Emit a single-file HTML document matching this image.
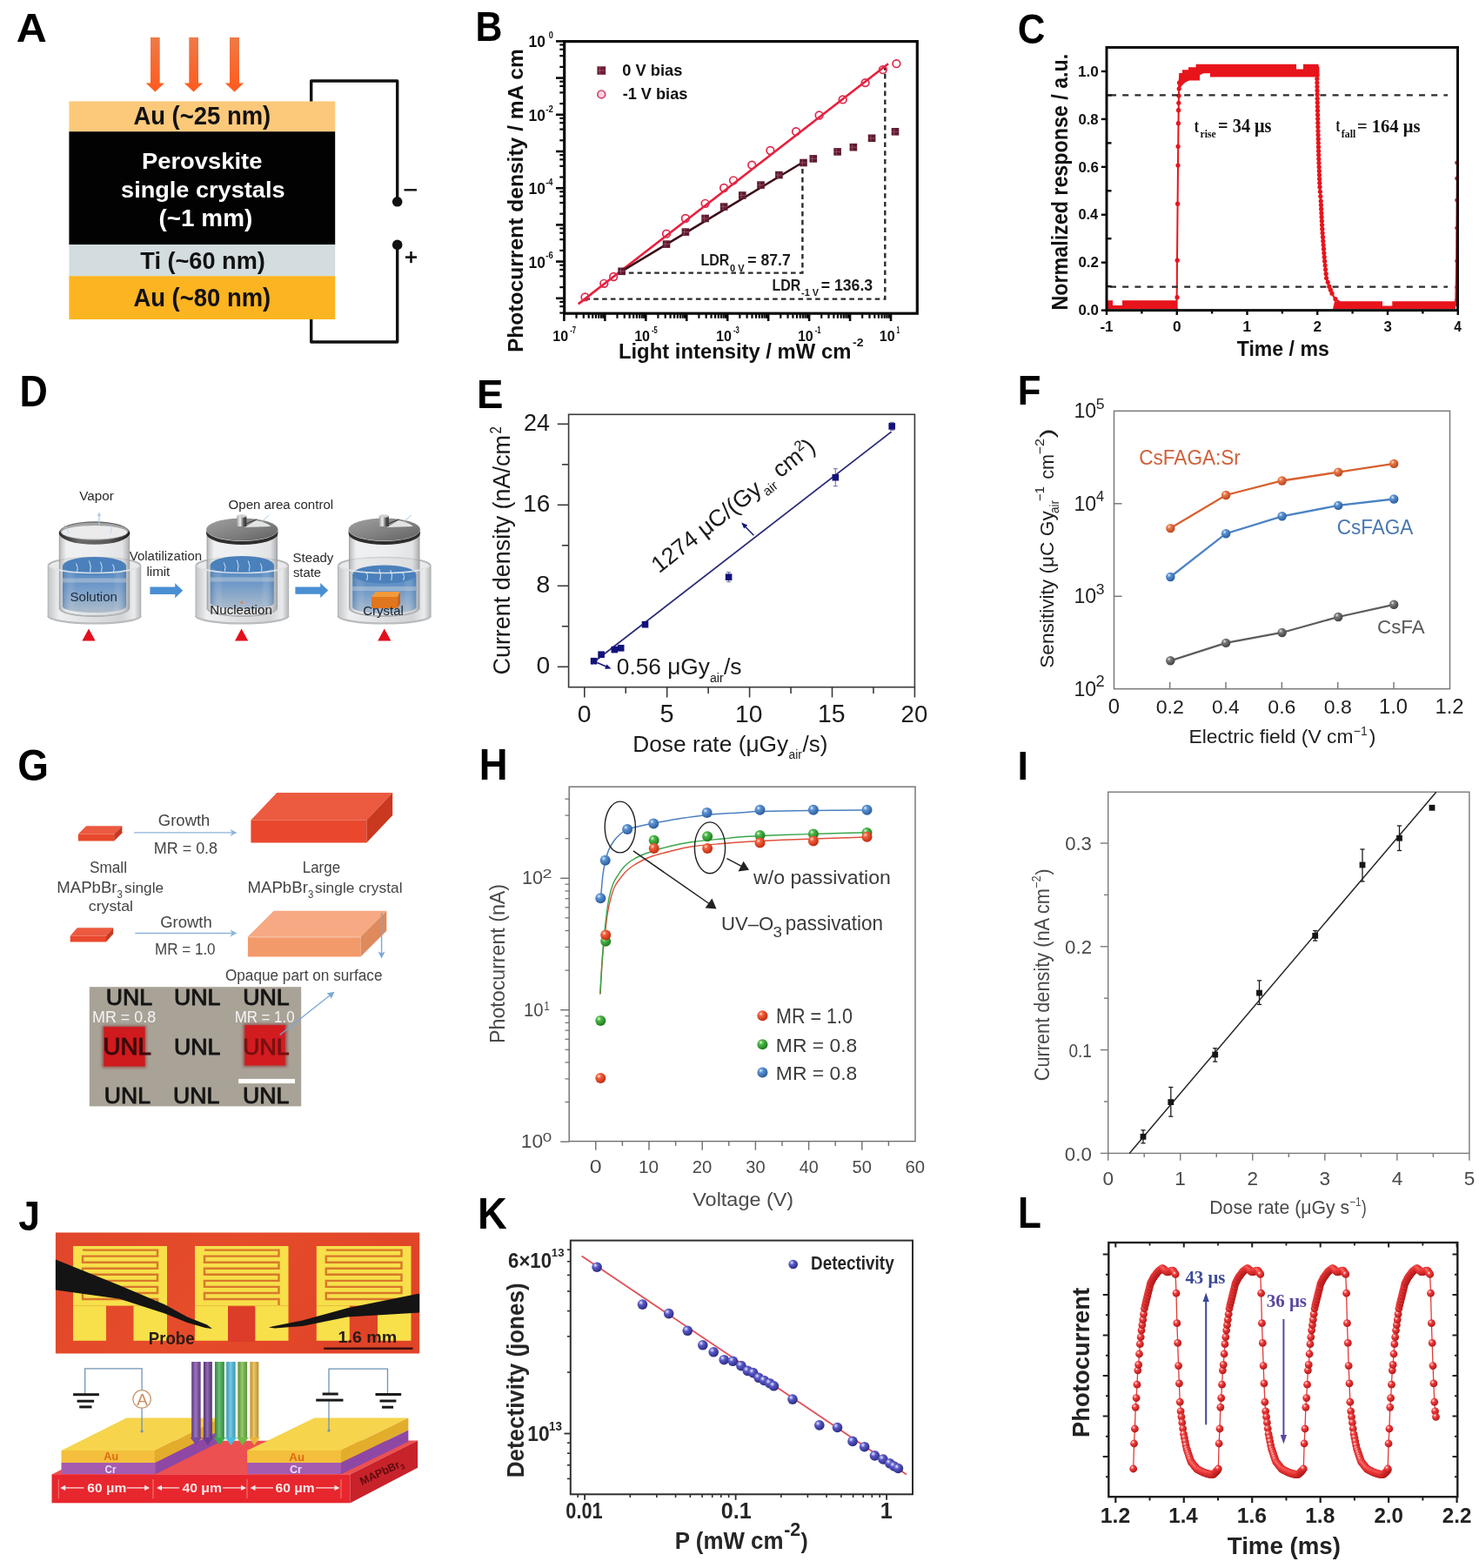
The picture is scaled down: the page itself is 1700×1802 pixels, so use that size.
<!DOCTYPE html>
<html><head><meta charset="utf-8"><title>Figure</title>
<style>html,body{margin:0;padding:0;background:#fff;}svg{display:block;}</style></head>
<body><svg width="1700" height="1802" viewBox="0 0 1700 1802">
<rect width="1700" height="1802" fill="#fff"/>
<g id="pA">
<text x="18.89" y="48.1" font-size="47.1" textLength="35.09" lengthAdjust="spacingAndGlyphs" font-family='"Liberation Sans", Arial, sans-serif' font-weight="bold" fill="#000">A</text>
<defs><linearGradient id="gA" x1="0" y1="0" x2="0" y2="1"><stop offset="0" stop-color="#ee7a48"/><stop offset="1" stop-color="#ff5a1c"/></linearGradient></defs>
<polygon points="173,43 183.7,43 183.7,95.5 189,95.5 178.35,105.6 167.7,95.5 173,95.5" fill="url(#gA)"/>
<polygon points="217.3,43 228,43 228,95.5 233.3,95.5 222.5,105.6 211.7,95.5 217.3,95.5" fill="url(#gA)"/>
<polygon points="264,43 275,43 275,95.5 280.2,95.5 269.5,105.6 258.8,95.5 264,95.5" fill="url(#gA)"/>
<rect x="79.4" y="116.4" width="305.8" height="34.8" fill="#fcc97b"/>
<rect x="79.4" y="151.2" width="305.8" height="130" fill="#020202"/>
<rect x="79.4" y="281.2" width="305.8" height="36" fill="#d3dcdf"/>
<rect x="79.4" y="317.2" width="305.8" height="49.8" fill="#fcb421"/>
<text x="153.41" y="143" font-size="29.13" textLength="157.85" lengthAdjust="spacingAndGlyphs" font-family='"Liberation Sans", Arial, sans-serif' font-weight="bold" fill="#111">Au (~25 nm)</text>
<text x="162.92" y="194.1" font-size="26.21" textLength="138.47" lengthAdjust="spacingAndGlyphs" font-family='"Liberation Sans", Arial, sans-serif' font-weight="bold" fill="#fff">Perovskite</text>
<text x="139.05" y="227" font-size="26.52" textLength="188.49" lengthAdjust="spacingAndGlyphs" font-family='"Liberation Sans", Arial, sans-serif' font-weight="bold" fill="#fff">single crystals</text>
<text x="182.55" y="260" font-size="26.81" textLength="107.67" lengthAdjust="spacingAndGlyphs" font-family='"Liberation Sans", Arial, sans-serif' font-weight="bold" fill="#fff">(~1 mm)</text>
<text x="161.33" y="309" font-size="27.31" textLength="143.49" lengthAdjust="spacingAndGlyphs" font-family='"Liberation Sans", Arial, sans-serif' font-weight="bold" fill="#111">Ti (~60 nm)</text>
<text x="153.41" y="352" font-size="29.28" textLength="157.85" lengthAdjust="spacingAndGlyphs" font-family='"Liberation Sans", Arial, sans-serif' font-weight="bold" fill="#111">Au (~80 nm)</text>
<path d="M357.7,116.4 V93 H456.7 V231.8" fill="none" stroke="#111" stroke-width="3.4" stroke-linejoin="round"/>
<path d="M357.7,367 V393 H456.7 V281.4" fill="none" stroke="#111" stroke-width="3.4" stroke-linejoin="round"/>
<circle cx="456.7" cy="231.8" r="5.8" fill="#111"/>
<circle cx="456.7" cy="281.4" r="5.8" fill="#111"/>
<line x1="464.5" y1="218.3" x2="479" y2="218.3" stroke="#111" stroke-width="2.4"/>
<line x1="466" y1="295.6" x2="479" y2="295.6" stroke="#111" stroke-width="2.6"/>
<line x1="472.5" y1="289" x2="472.5" y2="302.2" stroke="#111" stroke-width="2.6"/>
</g>
<g id="pB">
<text x="546.62" y="46.7" font-size="48.84" textLength="30.88" lengthAdjust="spacingAndGlyphs" font-family='"Liberation Sans", Arial, sans-serif' font-weight="bold" fill="#000">B</text>
<rect x="648.7" y="47.6" width="405.6" height="312.6" fill="none" stroke="#0a0a0a" stroke-width="3.2"/>
<line x1="648.4" y1="360" x2="648.4" y2="369" stroke="#0a0a0a" stroke-width="2.6"/>
<line x1="662.53" y1="360" x2="662.53" y2="365.8" stroke="#0a0a0a" stroke-width="2.2"/>
<line x1="670.8" y1="360" x2="670.8" y2="365.8" stroke="#0a0a0a" stroke-width="2.2"/>
<line x1="676.67" y1="360" x2="676.67" y2="365.8" stroke="#0a0a0a" stroke-width="2.2"/>
<line x1="681.22" y1="360" x2="681.22" y2="365.8" stroke="#0a0a0a" stroke-width="2.2"/>
<line x1="684.93" y1="360" x2="684.93" y2="365.8" stroke="#0a0a0a" stroke-width="2.2"/>
<line x1="688.08" y1="360" x2="688.08" y2="365.8" stroke="#0a0a0a" stroke-width="2.2"/>
<line x1="690.8" y1="360" x2="690.8" y2="365.8" stroke="#0a0a0a" stroke-width="2.2"/>
<line x1="693.2" y1="360" x2="693.2" y2="365.8" stroke="#0a0a0a" stroke-width="2.2"/>
<line x1="695.35" y1="360" x2="695.35" y2="369" stroke="#0a0a0a" stroke-width="2.6"/>
<line x1="709.48" y1="360" x2="709.48" y2="365.8" stroke="#0a0a0a" stroke-width="2.2"/>
<line x1="717.75" y1="360" x2="717.75" y2="365.8" stroke="#0a0a0a" stroke-width="2.2"/>
<line x1="723.62" y1="360" x2="723.62" y2="365.8" stroke="#0a0a0a" stroke-width="2.2"/>
<line x1="728.17" y1="360" x2="728.17" y2="365.8" stroke="#0a0a0a" stroke-width="2.2"/>
<line x1="731.88" y1="360" x2="731.88" y2="365.8" stroke="#0a0a0a" stroke-width="2.2"/>
<line x1="735.03" y1="360" x2="735.03" y2="365.8" stroke="#0a0a0a" stroke-width="2.2"/>
<line x1="737.75" y1="360" x2="737.75" y2="365.8" stroke="#0a0a0a" stroke-width="2.2"/>
<line x1="740.15" y1="360" x2="740.15" y2="365.8" stroke="#0a0a0a" stroke-width="2.2"/>
<line x1="742.3" y1="360" x2="742.3" y2="369" stroke="#0a0a0a" stroke-width="2.6"/>
<line x1="756.43" y1="360" x2="756.43" y2="365.8" stroke="#0a0a0a" stroke-width="2.2"/>
<line x1="764.7" y1="360" x2="764.7" y2="365.8" stroke="#0a0a0a" stroke-width="2.2"/>
<line x1="770.57" y1="360" x2="770.57" y2="365.8" stroke="#0a0a0a" stroke-width="2.2"/>
<line x1="775.12" y1="360" x2="775.12" y2="365.8" stroke="#0a0a0a" stroke-width="2.2"/>
<line x1="778.83" y1="360" x2="778.83" y2="365.8" stroke="#0a0a0a" stroke-width="2.2"/>
<line x1="781.98" y1="360" x2="781.98" y2="365.8" stroke="#0a0a0a" stroke-width="2.2"/>
<line x1="784.7" y1="360" x2="784.7" y2="365.8" stroke="#0a0a0a" stroke-width="2.2"/>
<line x1="787.1" y1="360" x2="787.1" y2="365.8" stroke="#0a0a0a" stroke-width="2.2"/>
<line x1="789.25" y1="360" x2="789.25" y2="369" stroke="#0a0a0a" stroke-width="2.6"/>
<line x1="803.38" y1="360" x2="803.38" y2="365.8" stroke="#0a0a0a" stroke-width="2.2"/>
<line x1="811.65" y1="360" x2="811.65" y2="365.8" stroke="#0a0a0a" stroke-width="2.2"/>
<line x1="817.52" y1="360" x2="817.52" y2="365.8" stroke="#0a0a0a" stroke-width="2.2"/>
<line x1="822.07" y1="360" x2="822.07" y2="365.8" stroke="#0a0a0a" stroke-width="2.2"/>
<line x1="825.78" y1="360" x2="825.78" y2="365.8" stroke="#0a0a0a" stroke-width="2.2"/>
<line x1="828.93" y1="360" x2="828.93" y2="365.8" stroke="#0a0a0a" stroke-width="2.2"/>
<line x1="831.65" y1="360" x2="831.65" y2="365.8" stroke="#0a0a0a" stroke-width="2.2"/>
<line x1="834.05" y1="360" x2="834.05" y2="365.8" stroke="#0a0a0a" stroke-width="2.2"/>
<line x1="836.2" y1="360" x2="836.2" y2="369" stroke="#0a0a0a" stroke-width="2.6"/>
<line x1="850.33" y1="360" x2="850.33" y2="365.8" stroke="#0a0a0a" stroke-width="2.2"/>
<line x1="858.6" y1="360" x2="858.6" y2="365.8" stroke="#0a0a0a" stroke-width="2.2"/>
<line x1="864.47" y1="360" x2="864.47" y2="365.8" stroke="#0a0a0a" stroke-width="2.2"/>
<line x1="869.02" y1="360" x2="869.02" y2="365.8" stroke="#0a0a0a" stroke-width="2.2"/>
<line x1="872.73" y1="360" x2="872.73" y2="365.8" stroke="#0a0a0a" stroke-width="2.2"/>
<line x1="875.88" y1="360" x2="875.88" y2="365.8" stroke="#0a0a0a" stroke-width="2.2"/>
<line x1="878.6" y1="360" x2="878.6" y2="365.8" stroke="#0a0a0a" stroke-width="2.2"/>
<line x1="881" y1="360" x2="881" y2="365.8" stroke="#0a0a0a" stroke-width="2.2"/>
<line x1="883.15" y1="360" x2="883.15" y2="369" stroke="#0a0a0a" stroke-width="2.6"/>
<line x1="897.28" y1="360" x2="897.28" y2="365.8" stroke="#0a0a0a" stroke-width="2.2"/>
<line x1="905.55" y1="360" x2="905.55" y2="365.8" stroke="#0a0a0a" stroke-width="2.2"/>
<line x1="911.42" y1="360" x2="911.42" y2="365.8" stroke="#0a0a0a" stroke-width="2.2"/>
<line x1="915.97" y1="360" x2="915.97" y2="365.8" stroke="#0a0a0a" stroke-width="2.2"/>
<line x1="919.68" y1="360" x2="919.68" y2="365.8" stroke="#0a0a0a" stroke-width="2.2"/>
<line x1="922.83" y1="360" x2="922.83" y2="365.8" stroke="#0a0a0a" stroke-width="2.2"/>
<line x1="925.55" y1="360" x2="925.55" y2="365.8" stroke="#0a0a0a" stroke-width="2.2"/>
<line x1="927.95" y1="360" x2="927.95" y2="365.8" stroke="#0a0a0a" stroke-width="2.2"/>
<line x1="930.1" y1="360" x2="930.1" y2="369" stroke="#0a0a0a" stroke-width="2.6"/>
<line x1="944.23" y1="360" x2="944.23" y2="365.8" stroke="#0a0a0a" stroke-width="2.2"/>
<line x1="952.5" y1="360" x2="952.5" y2="365.8" stroke="#0a0a0a" stroke-width="2.2"/>
<line x1="958.37" y1="360" x2="958.37" y2="365.8" stroke="#0a0a0a" stroke-width="2.2"/>
<line x1="962.92" y1="360" x2="962.92" y2="365.8" stroke="#0a0a0a" stroke-width="2.2"/>
<line x1="966.63" y1="360" x2="966.63" y2="365.8" stroke="#0a0a0a" stroke-width="2.2"/>
<line x1="969.78" y1="360" x2="969.78" y2="365.8" stroke="#0a0a0a" stroke-width="2.2"/>
<line x1="972.5" y1="360" x2="972.5" y2="365.8" stroke="#0a0a0a" stroke-width="2.2"/>
<line x1="974.9" y1="360" x2="974.9" y2="365.8" stroke="#0a0a0a" stroke-width="2.2"/>
<line x1="977.05" y1="360" x2="977.05" y2="369" stroke="#0a0a0a" stroke-width="2.6"/>
<line x1="991.18" y1="360" x2="991.18" y2="365.8" stroke="#0a0a0a" stroke-width="2.2"/>
<line x1="999.45" y1="360" x2="999.45" y2="365.8" stroke="#0a0a0a" stroke-width="2.2"/>
<line x1="1005.32" y1="360" x2="1005.32" y2="365.8" stroke="#0a0a0a" stroke-width="2.2"/>
<line x1="1009.87" y1="360" x2="1009.87" y2="365.8" stroke="#0a0a0a" stroke-width="2.2"/>
<line x1="1013.58" y1="360" x2="1013.58" y2="365.8" stroke="#0a0a0a" stroke-width="2.2"/>
<line x1="1016.73" y1="360" x2="1016.73" y2="365.8" stroke="#0a0a0a" stroke-width="2.2"/>
<line x1="1019.45" y1="360" x2="1019.45" y2="365.8" stroke="#0a0a0a" stroke-width="2.2"/>
<line x1="1021.85" y1="360" x2="1021.85" y2="365.8" stroke="#0a0a0a" stroke-width="2.2"/>
<line x1="1024" y1="360" x2="1024" y2="369" stroke="#0a0a0a" stroke-width="2.6"/>
<line x1="643.3" y1="359.59" x2="648.7" y2="359.59" stroke="#0a0a0a" stroke-width="2.2"/>
<line x1="643.3" y1="352.16" x2="648.7" y2="352.16" stroke="#0a0a0a" stroke-width="2.2"/>
<line x1="643.3" y1="346.89" x2="648.7" y2="346.89" stroke="#0a0a0a" stroke-width="2.2"/>
<line x1="639" y1="342.8" x2="648.7" y2="342.8" stroke="#0a0a0a" stroke-width="2.6"/>
<line x1="643.3" y1="330.1" x2="648.7" y2="330.1" stroke="#0a0a0a" stroke-width="2.2"/>
<line x1="643.3" y1="317.39" x2="648.7" y2="317.39" stroke="#0a0a0a" stroke-width="2.2"/>
<line x1="643.3" y1="309.96" x2="648.7" y2="309.96" stroke="#0a0a0a" stroke-width="2.2"/>
<line x1="643.3" y1="304.69" x2="648.7" y2="304.69" stroke="#0a0a0a" stroke-width="2.2"/>
<line x1="639" y1="300.6" x2="648.7" y2="300.6" stroke="#0a0a0a" stroke-width="2.6"/>
<line x1="643.3" y1="287.9" x2="648.7" y2="287.9" stroke="#0a0a0a" stroke-width="2.2"/>
<line x1="643.3" y1="275.19" x2="648.7" y2="275.19" stroke="#0a0a0a" stroke-width="2.2"/>
<line x1="643.3" y1="267.76" x2="648.7" y2="267.76" stroke="#0a0a0a" stroke-width="2.2"/>
<line x1="643.3" y1="262.49" x2="648.7" y2="262.49" stroke="#0a0a0a" stroke-width="2.2"/>
<line x1="639" y1="258.4" x2="648.7" y2="258.4" stroke="#0a0a0a" stroke-width="2.6"/>
<line x1="643.3" y1="245.7" x2="648.7" y2="245.7" stroke="#0a0a0a" stroke-width="2.2"/>
<line x1="643.3" y1="232.99" x2="648.7" y2="232.99" stroke="#0a0a0a" stroke-width="2.2"/>
<line x1="643.3" y1="225.56" x2="648.7" y2="225.56" stroke="#0a0a0a" stroke-width="2.2"/>
<line x1="643.3" y1="220.29" x2="648.7" y2="220.29" stroke="#0a0a0a" stroke-width="2.2"/>
<line x1="639" y1="216.2" x2="648.7" y2="216.2" stroke="#0a0a0a" stroke-width="2.6"/>
<line x1="643.3" y1="203.5" x2="648.7" y2="203.5" stroke="#0a0a0a" stroke-width="2.2"/>
<line x1="643.3" y1="190.79" x2="648.7" y2="190.79" stroke="#0a0a0a" stroke-width="2.2"/>
<line x1="643.3" y1="183.36" x2="648.7" y2="183.36" stroke="#0a0a0a" stroke-width="2.2"/>
<line x1="643.3" y1="178.09" x2="648.7" y2="178.09" stroke="#0a0a0a" stroke-width="2.2"/>
<line x1="639" y1="174" x2="648.7" y2="174" stroke="#0a0a0a" stroke-width="2.6"/>
<line x1="643.3" y1="161.3" x2="648.7" y2="161.3" stroke="#0a0a0a" stroke-width="2.2"/>
<line x1="643.3" y1="148.59" x2="648.7" y2="148.59" stroke="#0a0a0a" stroke-width="2.2"/>
<line x1="643.3" y1="141.16" x2="648.7" y2="141.16" stroke="#0a0a0a" stroke-width="2.2"/>
<line x1="643.3" y1="135.89" x2="648.7" y2="135.89" stroke="#0a0a0a" stroke-width="2.2"/>
<line x1="639" y1="131.8" x2="648.7" y2="131.8" stroke="#0a0a0a" stroke-width="2.6"/>
<line x1="643.3" y1="119.1" x2="648.7" y2="119.1" stroke="#0a0a0a" stroke-width="2.2"/>
<line x1="643.3" y1="106.39" x2="648.7" y2="106.39" stroke="#0a0a0a" stroke-width="2.2"/>
<line x1="643.3" y1="98.96" x2="648.7" y2="98.96" stroke="#0a0a0a" stroke-width="2.2"/>
<line x1="643.3" y1="93.69" x2="648.7" y2="93.69" stroke="#0a0a0a" stroke-width="2.2"/>
<line x1="639" y1="89.6" x2="648.7" y2="89.6" stroke="#0a0a0a" stroke-width="2.6"/>
<line x1="643.3" y1="76.9" x2="648.7" y2="76.9" stroke="#0a0a0a" stroke-width="2.2"/>
<line x1="643.3" y1="64.19" x2="648.7" y2="64.19" stroke="#0a0a0a" stroke-width="2.2"/>
<line x1="643.3" y1="56.76" x2="648.7" y2="56.76" stroke="#0a0a0a" stroke-width="2.2"/>
<line x1="643.3" y1="51.49" x2="648.7" y2="51.49" stroke="#0a0a0a" stroke-width="2.2"/>
<line x1="639" y1="47.4" x2="648.7" y2="47.4" stroke="#0a0a0a" stroke-width="2.6"/>
<text x="635.24" y="392" font-size="16.57" textLength="17.86" lengthAdjust="spacingAndGlyphs" font-family='"Liberation Sans", Arial, sans-serif' font-weight="bold" fill="#111">10</text>
<text x="655.13" y="382.5" font-size="10.14" textLength="6.87" lengthAdjust="spacingAndGlyphs" font-family='"Liberation Sans", Arial, sans-serif' font-weight="bold" fill="#111">-7</text>
<text x="729.14" y="392" font-size="16.57" textLength="17.86" lengthAdjust="spacingAndGlyphs" font-family='"Liberation Sans", Arial, sans-serif' font-weight="bold" fill="#111">10</text>
<text x="749.03" y="382.5" font-size="10.14" textLength="6.75" lengthAdjust="spacingAndGlyphs" font-family='"Liberation Sans", Arial, sans-serif' font-weight="bold" fill="#111">-5</text>
<text x="823.04" y="392" font-size="16.57" textLength="17.86" lengthAdjust="spacingAndGlyphs" font-family='"Liberation Sans", Arial, sans-serif' font-weight="bold" fill="#111">10</text>
<text x="842.93" y="382.5" font-size="10.14" textLength="6.83" lengthAdjust="spacingAndGlyphs" font-family='"Liberation Sans", Arial, sans-serif' font-weight="bold" fill="#111">-3</text>
<text x="916.94" y="392" font-size="16.57" textLength="17.86" lengthAdjust="spacingAndGlyphs" font-family='"Liberation Sans", Arial, sans-serif' font-weight="bold" fill="#111">10</text>
<text x="936.83" y="382.5" font-size="10.14" textLength="6.75" lengthAdjust="spacingAndGlyphs" font-family='"Liberation Sans", Arial, sans-serif' font-weight="bold" fill="#111">-1</text>
<text x="1010.84" y="392" font-size="16.57" textLength="17.86" lengthAdjust="spacingAndGlyphs" font-family='"Liberation Sans", Arial, sans-serif' font-weight="bold" fill="#111">10</text>
<text x="1030.62" y="382.5" font-size="10.14" textLength="3.55" lengthAdjust="spacingAndGlyphs" font-family='"Liberation Sans", Arial, sans-serif' font-weight="bold" fill="#111">1</text>
<text x="607.45" y="54.3" font-size="18.57" textLength="19.4" lengthAdjust="spacingAndGlyphs" font-family='"Liberation Sans", Arial, sans-serif' font-weight="bold" fill="#111">10</text>
<text x="630.68" y="44.1" font-size="11" textLength="5.16" lengthAdjust="spacingAndGlyphs" font-family='"Liberation Sans", Arial, sans-serif' font-weight="bold" fill="#111">0</text>
<text x="607.45" y="138.7" font-size="18.57" textLength="19.4" lengthAdjust="spacingAndGlyphs" font-family='"Liberation Sans", Arial, sans-serif' font-weight="bold" fill="#111">10</text>
<text x="627.26" y="128.5" font-size="11" textLength="8.57" lengthAdjust="spacingAndGlyphs" font-family='"Liberation Sans", Arial, sans-serif' font-weight="bold" fill="#111">-2</text>
<text x="607.45" y="223.1" font-size="18.57" textLength="19.4" lengthAdjust="spacingAndGlyphs" font-family='"Liberation Sans", Arial, sans-serif' font-weight="bold" fill="#111">10</text>
<text x="627.28" y="212.9" font-size="11" textLength="8.22" lengthAdjust="spacingAndGlyphs" font-family='"Liberation Sans", Arial, sans-serif' font-weight="bold" fill="#111">-4</text>
<text x="607.45" y="307.5" font-size="18.57" textLength="19.4" lengthAdjust="spacingAndGlyphs" font-family='"Liberation Sans", Arial, sans-serif' font-weight="bold" fill="#111">10</text>
<text x="627.26" y="297.3" font-size="11" textLength="8.57" lengthAdjust="spacingAndGlyphs" font-family='"Liberation Sans", Arial, sans-serif' font-weight="bold" fill="#111">-6</text>
<text x="-405.1" y="600.8" font-size="23.43" textLength="349.02" lengthAdjust="spacingAndGlyphs" font-family='"Liberation Sans", Arial, sans-serif' font-weight="bold" fill="#111" transform="rotate(-90)">Photocurrent density / mA cm</text>
<text x="710.95" y="411.5" font-size="23.14" textLength="267.42" lengthAdjust="spacingAndGlyphs" font-family='"Liberation Sans", Arial, sans-serif' font-weight="bold" fill="#111">Light intensity / mW cm</text>
<text x="980.01" y="397.5" font-size="12.66" textLength="12.47" lengthAdjust="spacingAndGlyphs" font-family='"Liberation Sans", Arial, sans-serif' font-weight="bold" fill="#111">-2</text>
<rect x="686.4" y="76.3" width="9.8" height="9.5" fill="#6b1e35"/>
<line x1="689.5" y1="77" x2="689.5" y2="85" stroke="#a4566a" stroke-width="0.8"/>
<line x1="686.8" y1="81" x2="695.8" y2="81" stroke="#a4566a" stroke-width="0.8"/>
<text x="715.36" y="86.5" font-size="17.88" textLength="68.97" lengthAdjust="spacingAndGlyphs" font-family='"Liberation Sans", Arial, sans-serif' font-weight="bold" fill="#111">0 V bias</text>
<circle cx="691.3" cy="108.4" r="4.4" fill="#fbd6e0" stroke="#d4406a" stroke-width="1.7"/>
<text x="715.66" y="114" font-size="17.93" textLength="74.72" lengthAdjust="spacingAndGlyphs" font-family='"Liberation Sans", Arial, sans-serif' font-weight="bold" fill="#111">-1 V bias</text>
<path d="M713,313.6 H922.4 V187" fill="none" stroke="#2a2a2a" stroke-width="2.4" stroke-dasharray="5.6,4.2"/>
<path d="M672.5,343.6 H1017.3 V78" fill="none" stroke="#2a2a2a" stroke-width="2.4" stroke-dasharray="5.6,4.2"/>
<text x="805.56" y="305.3" font-size="19.28" textLength="32.88" lengthAdjust="spacingAndGlyphs" font-family='"Liberation Sans", Arial, sans-serif' font-weight="bold" fill="#1a1a1a">LDR</text>
<text x="839.12" y="311.5" font-size="11.43" textLength="16.45" lengthAdjust="spacingAndGlyphs" font-family='"Liberation Sans", Arial, sans-serif' font-weight="bold" fill="#1a1a1a">0 V</text>
<text x="859.3" y="305.3" font-size="19" textLength="49.46" lengthAdjust="spacingAndGlyphs" font-family='"Liberation Sans", Arial, sans-serif' font-weight="bold" fill="#1a1a1a">= 87.7</text>
<text x="887.46" y="333.8" font-size="19.28" textLength="32.78" lengthAdjust="spacingAndGlyphs" font-family='"Liberation Sans", Arial, sans-serif' font-weight="bold" fill="#1a1a1a">LDR</text>
<text x="921.12" y="340" font-size="11.59" textLength="19.98" lengthAdjust="spacingAndGlyphs" font-family='"Liberation Sans", Arial, sans-serif' font-weight="bold" fill="#1a1a1a">-1 V</text>
<text x="943.79" y="333.8" font-size="19" textLength="59.31" lengthAdjust="spacingAndGlyphs" font-family='"Liberation Sans", Arial, sans-serif' font-weight="bold" fill="#1a1a1a">= 136.3</text>
<line x1="664.7" y1="349.4" x2="1021" y2="73.2" stroke="#e8203c" stroke-width="2.6"/>
<line x1="711.5" y1="313.6" x2="922" y2="187" stroke="#3a0d16" stroke-width="2.6"/>
<rect x="710.3" y="307.5" width="8.6" height="8.6" fill="#5e1a2e"/>
<line x1="713.4" y1="308.2" x2="713.4" y2="315.4" stroke="#9c5468" stroke-width="0.8"/>
<line x1="711" y1="311.8" x2="718.2" y2="311.8" stroke="#9c5468" stroke-width="0.8"/>
<rect x="761.7" y="276.3" width="8.6" height="8.6" fill="#5e1a2e"/>
<line x1="764.8" y1="277" x2="764.8" y2="284.2" stroke="#9c5468" stroke-width="0.8"/>
<line x1="762.4" y1="280.6" x2="769.6" y2="280.6" stroke="#9c5468" stroke-width="0.8"/>
<rect x="783.6" y="262.3" width="8.6" height="8.6" fill="#5e1a2e"/>
<line x1="786.7" y1="263" x2="786.7" y2="270.2" stroke="#9c5468" stroke-width="0.8"/>
<line x1="784.3" y1="266.6" x2="791.5" y2="266.6" stroke="#9c5468" stroke-width="0.8"/>
<rect x="806.3" y="246.7" width="8.6" height="8.6" fill="#5e1a2e"/>
<line x1="809.4" y1="247.4" x2="809.4" y2="254.6" stroke="#9c5468" stroke-width="0.8"/>
<line x1="807" y1="251" x2="814.2" y2="251" stroke="#9c5468" stroke-width="0.8"/>
<rect x="827.8" y="233.3" width="8.6" height="8.6" fill="#5e1a2e"/>
<line x1="830.9" y1="234" x2="830.9" y2="241.2" stroke="#9c5468" stroke-width="0.8"/>
<line x1="828.5" y1="237.6" x2="835.7" y2="237.6" stroke="#9c5468" stroke-width="0.8"/>
<rect x="849" y="220.2" width="8.6" height="8.6" fill="#5e1a2e"/>
<line x1="852.1" y1="220.9" x2="852.1" y2="228.1" stroke="#9c5468" stroke-width="0.8"/>
<line x1="849.7" y1="224.5" x2="856.9" y2="224.5" stroke="#9c5468" stroke-width="0.8"/>
<rect x="870.2" y="208.3" width="8.6" height="8.6" fill="#5e1a2e"/>
<line x1="873.3" y1="209" x2="873.3" y2="216.2" stroke="#9c5468" stroke-width="0.8"/>
<line x1="870.9" y1="212.6" x2="878.1" y2="212.6" stroke="#9c5468" stroke-width="0.8"/>
<rect x="891.1" y="196.8" width="8.6" height="8.6" fill="#5e1a2e"/>
<line x1="894.2" y1="197.5" x2="894.2" y2="204.7" stroke="#9c5468" stroke-width="0.8"/>
<line x1="891.8" y1="201.1" x2="899" y2="201.1" stroke="#9c5468" stroke-width="0.8"/>
<rect x="919.2" y="182.7" width="8.6" height="8.6" fill="#5e1a2e"/>
<line x1="922.3" y1="183.4" x2="922.3" y2="190.6" stroke="#9c5468" stroke-width="0.8"/>
<line x1="919.9" y1="187" x2="927.1" y2="187" stroke="#9c5468" stroke-width="0.8"/>
<rect x="930.5" y="178.1" width="8.6" height="8.6" fill="#5e1a2e"/>
<line x1="933.6" y1="178.8" x2="933.6" y2="186" stroke="#9c5468" stroke-width="0.8"/>
<line x1="931.2" y1="182.4" x2="938.4" y2="182.4" stroke="#9c5468" stroke-width="0.8"/>
<rect x="958.3" y="170.1" width="8.6" height="8.6" fill="#5e1a2e"/>
<line x1="961.4" y1="170.8" x2="961.4" y2="178" stroke="#9c5468" stroke-width="0.8"/>
<line x1="959" y1="174.4" x2="966.2" y2="174.4" stroke="#9c5468" stroke-width="0.8"/>
<rect x="976.6" y="164.9" width="8.6" height="8.6" fill="#5e1a2e"/>
<line x1="979.7" y1="165.6" x2="979.7" y2="172.8" stroke="#9c5468" stroke-width="0.8"/>
<line x1="977.3" y1="169.2" x2="984.5" y2="169.2" stroke="#9c5468" stroke-width="0.8"/>
<rect x="997.8" y="154.5" width="8.6" height="8.6" fill="#5e1a2e"/>
<line x1="1000.9" y1="155.2" x2="1000.9" y2="162.4" stroke="#9c5468" stroke-width="0.8"/>
<line x1="998.5" y1="158.8" x2="1005.7" y2="158.8" stroke="#9c5468" stroke-width="0.8"/>
<rect x="1024.7" y="147" width="8.6" height="8.6" fill="#5e1a2e"/>
<line x1="1027.8" y1="147.7" x2="1027.8" y2="154.9" stroke="#9c5468" stroke-width="0.8"/>
<line x1="1025.4" y1="151.3" x2="1032.6" y2="151.3" stroke="#9c5468" stroke-width="0.8"/>
<circle cx="672.5" cy="341.4" r="4.3" fill="none" stroke="#e0284a" stroke-width="1.7"/>
<circle cx="694.3" cy="325.8" r="4.3" fill="none" stroke="#e0284a" stroke-width="1.7"/>
<circle cx="705.2" cy="318" r="4.3" fill="none" stroke="#e0284a" stroke-width="1.7"/>
<circle cx="766" cy="268.7" r="4.3" fill="none" stroke="#e0284a" stroke-width="1.7"/>
<circle cx="787.9" cy="251" r="4.3" fill="none" stroke="#e0284a" stroke-width="1.7"/>
<circle cx="810.6" cy="233.8" r="4.3" fill="none" stroke="#e0284a" stroke-width="1.7"/>
<circle cx="832.1" cy="216" r="4.3" fill="none" stroke="#e0284a" stroke-width="1.7"/>
<circle cx="843" cy="207.3" r="4.3" fill="none" stroke="#e0284a" stroke-width="1.7"/>
<circle cx="864.2" cy="189.6" r="4.3" fill="none" stroke="#e0284a" stroke-width="1.7"/>
<circle cx="885.4" cy="173" r="4.3" fill="none" stroke="#e0284a" stroke-width="1.7"/>
<circle cx="915" cy="151.2" r="4.3" fill="none" stroke="#e0284a" stroke-width="1.7"/>
<circle cx="941.6" cy="132.5" r="4.3" fill="none" stroke="#e0284a" stroke-width="1.7"/>
<circle cx="968.7" cy="114.4" r="4.3" fill="none" stroke="#e0284a" stroke-width="1.7"/>
<circle cx="994.6" cy="95.1" r="4.3" fill="none" stroke="#e0284a" stroke-width="1.7"/>
<circle cx="1014.8" cy="80.2" r="4.3" fill="none" stroke="#e0284a" stroke-width="1.7"/>
<circle cx="1030.4" cy="73.2" r="4.3" fill="none" stroke="#e0284a" stroke-width="1.7"/>
</g>
<g id="pC">
<text x="1169.75" y="49.9" font-size="48.14" textLength="31.64" lengthAdjust="spacingAndGlyphs" font-family='"Liberation Sans", Arial, sans-serif' font-weight="bold" fill="#000">C</text>
<polygon points="1273,345.3 1279,345.3 1279,351 1290,351 1290,345.3 1352,345.3 1354,355 1273,355" fill="#e8141c"/>
<polygon points="1534,346.3 1589,346.3 1589,351.4 1600.3,351.4 1600.3,346.3 1673,346.3 1673,355 1532,355" fill="#e8141c"/>
<polygon points="1355.2,84 1359,84 1359,80.2 1366,80.2 1366,77.2 1374.6,77.2 1374.6,73.8 1490,73.8 1490,79.4 1498,79.4 1498,73.8 1515.2,73.8 1516.5,78 1516.5,88.6 1391,88.6 1391,84.2 1383,84.2 1379,86.5 1379,92.5 1367,92.5 1362,95 1358,99 1355.5,104 1354.5,100" fill="#e8141c"/>
<path d="M1352.6,352 L1353,300 L1353.6,234 L1354,190 L1354.4,150 L1354.8,118 L1355.2,100 L1355.8,92 L1357.5,87.5 L1363,85" fill="none" stroke="#e8141c" stroke-width="2"/>
<circle cx="1353" cy="341.7" r="2.6" fill="#e8141c"/>
<circle cx="1353.2" cy="299.2" r="2.6" fill="#e8141c"/>
<circle cx="1353.6" cy="234.2" r="2.6" fill="#e8141c"/>
<circle cx="1354" cy="190" r="2.6" fill="#e8141c"/>
<circle cx="1354.1" cy="168.3" r="2.6" fill="#e8141c"/>
<circle cx="1354.4" cy="141.7" r="2.6" fill="#e8141c"/>
<circle cx="1354.6" cy="126.7" r="2.6" fill="#e8141c"/>
<circle cx="1354.8" cy="118.3" r="2.6" fill="#e8141c"/>
<circle cx="1355" cy="110" r="2.6" fill="#e8141c"/>
<circle cx="1355.2" cy="102" r="2.6" fill="#e8141c"/>
<circle cx="1355.5" cy="95" r="2.6" fill="#e8141c"/>
<path d="M1513.8,86.1 C1513.85,89.85 1513.9,97.87 1514.1,108.6 C1514.3,119.33 1514.72,138.15 1515,150.5 C1515.28,162.85 1515.47,171.97 1515.8,182.7 C1516.13,193.43 1516.6,206.85 1517,214.9 C1517.4,222.95 1517.73,222.95 1518.2,231 C1518.67,239.05 1519.13,252.47 1519.8,263.2 C1520.47,273.93 1521.4,286.02 1522.2,295.4 C1523,304.78 1523.67,313.87 1524.6,319.5 C1525.53,325.13 1526.73,326.25 1527.8,329.2 C1528.87,332.15 1529.8,334.78 1531,337.2 C1532.2,339.62 1533.52,342.08 1535,343.7 C1536.48,345.32 1539.08,346.37 1539.9,346.9" fill="none" stroke="#e8141c" stroke-width="2.2"/>
<circle cx="1513.8" cy="86.1" r="2.6" fill="#e8141c"/>
<circle cx="1513.86" cy="90.6" r="2.6" fill="#e8141c"/>
<circle cx="1513.92" cy="95.1" r="2.6" fill="#e8141c"/>
<circle cx="1513.98" cy="99.6" r="2.6" fill="#e8141c"/>
<circle cx="1514.04" cy="104.1" r="2.6" fill="#e8141c"/>
<circle cx="1514.1" cy="108.6" r="2.6" fill="#e8141c"/>
<circle cx="1514.2" cy="113.26" r="2.6" fill="#e8141c"/>
<circle cx="1514.3" cy="117.91" r="2.6" fill="#e8141c"/>
<circle cx="1514.4" cy="122.57" r="2.6" fill="#e8141c"/>
<circle cx="1514.5" cy="127.22" r="2.6" fill="#e8141c"/>
<circle cx="1514.6" cy="131.88" r="2.6" fill="#e8141c"/>
<circle cx="1514.7" cy="136.53" r="2.6" fill="#e8141c"/>
<circle cx="1514.8" cy="141.19" r="2.6" fill="#e8141c"/>
<circle cx="1514.9" cy="145.84" r="2.6" fill="#e8141c"/>
<circle cx="1515" cy="150.5" r="2.6" fill="#e8141c"/>
<circle cx="1515.11" cy="155.1" r="2.6" fill="#e8141c"/>
<circle cx="1515.23" cy="159.7" r="2.6" fill="#e8141c"/>
<circle cx="1515.34" cy="164.3" r="2.6" fill="#e8141c"/>
<circle cx="1515.46" cy="168.9" r="2.6" fill="#e8141c"/>
<circle cx="1515.57" cy="173.5" r="2.6" fill="#e8141c"/>
<circle cx="1515.69" cy="178.1" r="2.6" fill="#e8141c"/>
<circle cx="1515.8" cy="182.7" r="2.6" fill="#e8141c"/>
<circle cx="1515.97" cy="187.3" r="2.6" fill="#e8141c"/>
<circle cx="1516.14" cy="191.9" r="2.6" fill="#e8141c"/>
<circle cx="1516.31" cy="196.5" r="2.6" fill="#e8141c"/>
<circle cx="1516.49" cy="201.1" r="2.6" fill="#e8141c"/>
<circle cx="1516.66" cy="205.7" r="2.6" fill="#e8141c"/>
<circle cx="1516.83" cy="210.3" r="2.6" fill="#e8141c"/>
<circle cx="1517" cy="214.9" r="2.6" fill="#e8141c"/>
<circle cx="1517.4" cy="220.27" r="2.6" fill="#e8141c"/>
<circle cx="1517.8" cy="225.63" r="2.6" fill="#e8141c"/>
<circle cx="1518.2" cy="231" r="2.6" fill="#e8141c"/>
<circle cx="1518.43" cy="235.6" r="2.6" fill="#e8141c"/>
<circle cx="1518.66" cy="240.2" r="2.6" fill="#e8141c"/>
<circle cx="1518.89" cy="244.8" r="2.6" fill="#e8141c"/>
<circle cx="1519.11" cy="249.4" r="2.6" fill="#e8141c"/>
<circle cx="1519.34" cy="254" r="2.6" fill="#e8141c"/>
<circle cx="1519.57" cy="258.6" r="2.6" fill="#e8141c"/>
<circle cx="1519.8" cy="263.2" r="2.6" fill="#e8141c"/>
<circle cx="1520.14" cy="267.8" r="2.6" fill="#e8141c"/>
<circle cx="1520.49" cy="272.4" r="2.6" fill="#e8141c"/>
<circle cx="1520.83" cy="277" r="2.6" fill="#e8141c"/>
<circle cx="1521.17" cy="281.6" r="2.6" fill="#e8141c"/>
<circle cx="1521.51" cy="286.2" r="2.6" fill="#e8141c"/>
<circle cx="1521.86" cy="290.8" r="2.6" fill="#e8141c"/>
<circle cx="1522.2" cy="295.4" r="2.6" fill="#e8141c"/>
<circle cx="1522.68" cy="300.22" r="2.6" fill="#e8141c"/>
<circle cx="1523.16" cy="305.04" r="2.6" fill="#e8141c"/>
<circle cx="1523.64" cy="309.86" r="2.6" fill="#e8141c"/>
<circle cx="1524.12" cy="314.68" r="2.6" fill="#e8141c"/>
<circle cx="1524.6" cy="319.5" r="2.6" fill="#e8141c"/>
<circle cx="1526.2" cy="324.35" r="2.6" fill="#e8141c"/>
<circle cx="1527.8" cy="329.2" r="2.6" fill="#e8141c"/>
<circle cx="1529.4" cy="333.2" r="2.6" fill="#e8141c"/>
<circle cx="1531" cy="337.2" r="2.6" fill="#e8141c"/>
<circle cx="1535" cy="343.7" r="2.6" fill="#e8141c"/>
<path d="M1673.3,352 L1674.2,300 L1674.6,250 L1675,187" fill="none" stroke="#e8141c" stroke-width="2.2"/>
<circle cx="1674.4" cy="187" r="2.3" fill="#e8141c"/>
<circle cx="1674.4" cy="205" r="2.3" fill="#e8141c"/>
<circle cx="1674.4" cy="230" r="2.3" fill="#e8141c"/>
<circle cx="1674.4" cy="262" r="2.3" fill="#e8141c"/>
<circle cx="1674.4" cy="300" r="2.3" fill="#e8141c"/>
<circle cx="1674.4" cy="330" r="2.3" fill="#e8141c"/>
<circle cx="1674.4" cy="345" r="2.3" fill="#e8141c"/>
<line x1="1276" y1="109.4" x2="1664" y2="109.4" stroke="#2b2b2b" stroke-width="2.2" stroke-dasharray="7,7.2"/>
<line x1="1276" y1="329.6" x2="1664" y2="329.6" stroke="#2b2b2b" stroke-width="2.2" stroke-dasharray="7,7.2"/>
<rect x="1272" y="54.5" width="403.5" height="302.1" fill="none" stroke="#0a0a0a" stroke-width="3"/>
<line x1="1272" y1="356.6" x2="1272" y2="362" stroke="#0a0a0a" stroke-width="2.4"/>
<line x1="1312.38" y1="356.6" x2="1312.38" y2="360.5" stroke="#0a0a0a" stroke-width="2.4"/>
<line x1="1352.75" y1="356.6" x2="1352.75" y2="362" stroke="#0a0a0a" stroke-width="2.4"/>
<line x1="1393.12" y1="356.6" x2="1393.12" y2="360.5" stroke="#0a0a0a" stroke-width="2.4"/>
<line x1="1433.5" y1="356.6" x2="1433.5" y2="362" stroke="#0a0a0a" stroke-width="2.4"/>
<line x1="1473.88" y1="356.6" x2="1473.88" y2="360.5" stroke="#0a0a0a" stroke-width="2.4"/>
<line x1="1514.25" y1="356.6" x2="1514.25" y2="362" stroke="#0a0a0a" stroke-width="2.4"/>
<line x1="1554.62" y1="356.6" x2="1554.62" y2="360.5" stroke="#0a0a0a" stroke-width="2.4"/>
<line x1="1595" y1="356.6" x2="1595" y2="362" stroke="#0a0a0a" stroke-width="2.4"/>
<line x1="1635.38" y1="356.6" x2="1635.38" y2="360.5" stroke="#0a0a0a" stroke-width="2.4"/>
<line x1="1675.75" y1="356.6" x2="1675.75" y2="362" stroke="#0a0a0a" stroke-width="2.4"/>
<text x="1264.4" y="380.6" font-size="16.52" textLength="15.21" lengthAdjust="spacingAndGlyphs" font-family='"Liberation Sans", Arial, sans-serif' font-weight="bold" fill="#111">-1</text>
<text x="1347.94" y="380.6" font-size="16.79" textLength="9.63" lengthAdjust="spacingAndGlyphs" font-family='"Liberation Sans", Arial, sans-serif' font-weight="bold" fill="#111">0</text>
<text x="1428.23" y="380.6" font-size="17.18" textLength="9.94" lengthAdjust="spacingAndGlyphs" font-family='"Liberation Sans", Arial, sans-serif' font-weight="bold" fill="#111">1</text>
<text x="1509.54" y="380.6" font-size="16.71" textLength="9.53" lengthAdjust="spacingAndGlyphs" font-family='"Liberation Sans", Arial, sans-serif' font-weight="bold" fill="#111">2</text>
<text x="1590.46" y="380.6" font-size="16.29" textLength="9.34" lengthAdjust="spacingAndGlyphs" font-family='"Liberation Sans", Arial, sans-serif' font-weight="bold" fill="#111">3</text>
<text x="1671.32" y="380.6" font-size="16.52" textLength="8.65" lengthAdjust="spacingAndGlyphs" font-family='"Liberation Sans", Arial, sans-serif' font-weight="bold" fill="#111">4</text>
<line x1="1265.8" y1="356.6" x2="1272" y2="356.6" stroke="#0a0a0a" stroke-width="2.4"/>
<line x1="1272" y1="329.14" x2="1277.5" y2="329.14" stroke="#0a0a0a" stroke-width="2.4"/>
<line x1="1265.8" y1="301.68" x2="1272" y2="301.68" stroke="#0a0a0a" stroke-width="2.4"/>
<line x1="1272" y1="274.22" x2="1277.5" y2="274.22" stroke="#0a0a0a" stroke-width="2.4"/>
<line x1="1265.8" y1="246.76" x2="1272" y2="246.76" stroke="#0a0a0a" stroke-width="2.4"/>
<line x1="1272" y1="219.3" x2="1277.5" y2="219.3" stroke="#0a0a0a" stroke-width="2.4"/>
<line x1="1265.8" y1="191.84" x2="1272" y2="191.84" stroke="#0a0a0a" stroke-width="2.4"/>
<line x1="1272" y1="164.38" x2="1277.5" y2="164.38" stroke="#0a0a0a" stroke-width="2.4"/>
<line x1="1265.8" y1="136.92" x2="1272" y2="136.92" stroke="#0a0a0a" stroke-width="2.4"/>
<line x1="1272" y1="109.46" x2="1277.5" y2="109.46" stroke="#0a0a0a" stroke-width="2.4"/>
<line x1="1265.8" y1="82" x2="1272" y2="82" stroke="#0a0a0a" stroke-width="2.4"/>
<text x="1239.41" y="362.3" font-size="16.29" textLength="23.38" lengthAdjust="spacingAndGlyphs" font-family='"Liberation Sans", Arial, sans-serif' font-weight="bold" fill="#111">0.0</text>
<text x="1239.41" y="307.38" font-size="16.29" textLength="23.38" lengthAdjust="spacingAndGlyphs" font-family='"Liberation Sans", Arial, sans-serif' font-weight="bold" fill="#111">0.2</text>
<text x="1239.43" y="252.46" font-size="16.29" textLength="22.78" lengthAdjust="spacingAndGlyphs" font-family='"Liberation Sans", Arial, sans-serif' font-weight="bold" fill="#111">0.4</text>
<text x="1239.41" y="197.54" font-size="16.29" textLength="23.38" lengthAdjust="spacingAndGlyphs" font-family='"Liberation Sans", Arial, sans-serif' font-weight="bold" fill="#111">0.6</text>
<text x="1239.42" y="142.62" font-size="16.29" textLength="23.2" lengthAdjust="spacingAndGlyphs" font-family='"Liberation Sans", Arial, sans-serif' font-weight="bold" fill="#111">0.8</text>
<text x="1238.97" y="87.7" font-size="16.71" textLength="23.83" lengthAdjust="spacingAndGlyphs" font-family='"Liberation Sans", Arial, sans-serif' font-weight="bold" fill="#111">1.0</text>
<text x="-356.51" y="1226.8" font-size="25.22" textLength="294.73" lengthAdjust="spacingAndGlyphs" font-family='"Liberation Sans", Arial, sans-serif' font-weight="bold" fill="#111" transform="rotate(-90)">Normalized response / a.u.</text>
<text x="1421.77" y="409.4" font-size="24.78" textLength="106.03" lengthAdjust="spacingAndGlyphs" font-family='"Liberation Sans", Arial, sans-serif' font-weight="bold" fill="#111">Time / ms</text>
<text x="1372.77" y="151.8" font-size="21.42" textLength="5.18" lengthAdjust="spacingAndGlyphs" font-family='"Liberation Serif", "Times New Roman", serif' font-weight="bold" fill="#111">t</text>
<text x="1379.51" y="158.2" font-size="11.5" textLength="18.18" lengthAdjust="spacingAndGlyphs" font-family='"Liberation Serif", "Times New Roman", serif' font-weight="bold" fill="#111">rise</text>
<text x="1400.09" y="152" font-size="22.12" textLength="61.44" lengthAdjust="spacingAndGlyphs" font-family='"Liberation Serif", "Times New Roman", serif' font-weight="bold" fill="#111">= 34 μs</text>
<text x="1535.59" y="151.2" font-size="20.88" textLength="4.65" lengthAdjust="spacingAndGlyphs" font-family='"Liberation Serif", "Times New Roman", serif' font-weight="bold" fill="#111">t</text>
<text x="1541.84" y="157.9" font-size="11.5" textLength="16.42" lengthAdjust="spacingAndGlyphs" font-family='"Liberation Serif", "Times New Roman", serif' font-weight="bold" fill="#111">fall</text>
<text x="1559.98" y="151.7" font-size="21.67" textLength="72.46" lengthAdjust="spacingAndGlyphs" font-family='"Liberation Serif", "Times New Roman", serif' font-weight="bold" fill="#111">= 164 μs</text>
</g>
<g id="pD">
<defs>
<linearGradient id="dGlass" x1="0" y1="0" x2="1" y2="0">
 <stop offset="0" stop-color="#c3c5c7"/><stop offset="0.12" stop-color="#eeeff0"/><stop offset="0.45" stop-color="#dfe0e2"/>
 <stop offset="0.8" stop-color="#d2d4d6"/><stop offset="0.93" stop-color="#eaebec"/><stop offset="1" stop-color="#b6b8ba"/></linearGradient>
<linearGradient id="dBeak" x1="0" y1="0" x2="1" y2="0">
 <stop offset="0" stop-color="#aeb1b4" stop-opacity="0.9"/><stop offset="0.1" stop-color="#e9eaeb" stop-opacity="0.7"/><stop offset="0.5" stop-color="#dfe1e3" stop-opacity="0.55"/>
 <stop offset="0.9" stop-color="#d5d7d9" stop-opacity="0.7"/><stop offset="1" stop-color="#9fa2a5" stop-opacity="0.9"/></linearGradient>
<linearGradient id="dSol" x1="0" y1="0" x2="0" y2="1">
 <stop offset="0" stop-color="#4f86c0"/><stop offset="0.4" stop-color="#6d98c8"/><stop offset="1" stop-color="#aebccb"/></linearGradient>
<linearGradient id="dSolS" x1="0" y1="0" x2="1" y2="0">
 <stop offset="0" stop-color="#3b6fa8" stop-opacity="0.5"/><stop offset="0.2" stop-color="#ffffff" stop-opacity="0"/><stop offset="0.8" stop-color="#ffffff" stop-opacity="0"/><stop offset="1" stop-color="#3b6fa8" stop-opacity="0.5"/></linearGradient>
<linearGradient id="dLid" x1="0" y1="0" x2="1" y2="1">
 <stop offset="0" stop-color="#a0a0a0"/><stop offset="0.55" stop-color="#808080"/><stop offset="1" stop-color="#606060"/></linearGradient>
<linearGradient id="dRing" x1="0" y1="0" x2="1" y2="0">
 <stop offset="0" stop-color="#2a2a2a"/><stop offset="0.3" stop-color="#6a6a6a"/><stop offset="0.7" stop-color="#5a5a5a"/><stop offset="1" stop-color="#1e1e1e"/></linearGradient>
<linearGradient id="dKnob" x1="0" y1="0" x2="1" y2="0">
 <stop offset="0" stop-color="#9a9a9a"/><stop offset="0.35" stop-color="#f0f0f0"/><stop offset="0.7" stop-color="#555"/><stop offset="1" stop-color="#333"/></linearGradient>
</defs>
<text x="22.49" y="466.7" font-size="49.71" textLength="32.38" lengthAdjust="spacingAndGlyphs" font-family='"Liberation Sans", Arial, sans-serif' font-weight="bold" fill="#000">D</text>
<path d="M55.2,649.5 A53.3,9 0 0 1 161.8,649.5 L161.8,707.5 A53.3,9 0 0 1 55.2,707.5 Z" fill="url(#dGlass)" stroke="#a8aaac" stroke-width="0.9"/>
<ellipse cx="108.5" cy="649.5" rx="51.8" ry="9" fill="#e9eaeb" stroke="#b4b6b8" stroke-width="1.6"/>
<path d="M68.3,612 L68.3,699 A40.2,9.1 0 0 0 148.7,699 L148.7,612 Z" fill="url(#dBeak)" stroke="#9c9fa2" stroke-width="1"/>
<path d="M72,650.5 L72,697 A36.5,7 0 0 0 145,697 L145,650.5 Z" fill="url(#dSol)"/>
<path d="M72,650.5 L72,697 A36.5,7 0 0 0 145,697 L145,650.5 Z" fill="url(#dSolS)"/>
<ellipse cx="108.5" cy="650.5" rx="36.5" ry="10.5" fill="#4a80bb"/>
<rect x="72" y="664.5" width="73" height="5" fill="#c9d3dc" opacity="0.45"/>
<path d="M88.5,657.5 q2,-5 -1,-10" fill="none" stroke="#cfe3f5" stroke-width="1"/>
<path d="M103.5,657.5 q2,-6.5 -1,-13" fill="none" stroke="#cfe3f5" stroke-width="1"/>
<path d="M116.5,657.5 q2,-6 -1,-12" fill="none" stroke="#cfe3f5" stroke-width="1"/>
<path d="M130.5,657.5 q2,-4.5 -1,-9" fill="none" stroke="#cfe3f5" stroke-width="1"/>
<path d="M56.7,649.5 A51.8,9 0 0 0 160.3,649.5" fill="none" stroke="#f4f4f4" stroke-width="1.6" opacity="0.8"/>
<path d="M55.2,707.5 A53.3,9 0 0 0 161.8,707.5" fill="none" stroke="#b9bbbd" stroke-width="2.2"/>
<path d="M68.3,699 A40.2,9.1 0 0 0 148.7,699" fill="none" stroke="#b0b3b6" stroke-width="1.6"/>
<ellipse cx="108.5" cy="612.5" rx="40.8" ry="13.3" fill="url(#dRing)"/>
<ellipse cx="108.5" cy="610.6" rx="39.2" ry="10.2" fill="#a4a4a4"/>
<ellipse cx="108.5" cy="611.7" rx="37.6" ry="7.8" fill="#ebebec"/>
<path d="M73.3,603 q4,4 6,10" fill="none" stroke="#b9d4ec" stroke-width="0.9"/>
<path d="M126.5,613 q3,-4 1,-9" fill="none" stroke="#b9d4ec" stroke-width="0.9"/>
<path d="M225,649.5 A53.3,9 0 0 1 331.6,649.5 L331.6,707.5 A53.3,9 0 0 1 225,707.5 Z" fill="url(#dGlass)" stroke="#a8aaac" stroke-width="0.9"/>
<ellipse cx="278.3" cy="649.5" rx="51.8" ry="9" fill="#e9eaeb" stroke="#b4b6b8" stroke-width="1.6"/>
<path d="M238.1,612 L238.1,699 A40.2,9.1 0 0 0 318.5,699 L318.5,612 Z" fill="url(#dBeak)" stroke="#9c9fa2" stroke-width="1"/>
<path d="M241.8,649.5 L241.8,693 A36.5,7 0 0 0 314.8,693 L314.8,649.5 Z" fill="url(#dSol)"/>
<path d="M241.8,649.5 L241.8,693 A36.5,7 0 0 0 314.8,693 L314.8,649.5 Z" fill="url(#dSolS)"/>
<ellipse cx="278.3" cy="649.5" rx="36.5" ry="10.5" fill="#4a80bb"/>
<rect x="241.8" y="663.5" width="73" height="5" fill="#c9d3dc" opacity="0.45"/>
<path d="M258.3,656.5 q2,-5 -1,-10" fill="none" stroke="#cfe3f5" stroke-width="1"/>
<path d="M273.3,656.5 q2,-6.5 -1,-13" fill="none" stroke="#cfe3f5" stroke-width="1"/>
<path d="M286.3,656.5 q2,-6 -1,-12" fill="none" stroke="#cfe3f5" stroke-width="1"/>
<path d="M300.3,656.5 q2,-4.5 -1,-9" fill="none" stroke="#cfe3f5" stroke-width="1"/>
<path d="M226.5,649.5 A51.8,9 0 0 0 330.1,649.5" fill="none" stroke="#f4f4f4" stroke-width="1.6" opacity="0.8"/>
<path d="M225,707.5 A53.3,9 0 0 0 331.6,707.5" fill="none" stroke="#b9bbbd" stroke-width="2.2"/>
<path d="M238.1,699 A40.2,9.1 0 0 0 318.5,699" fill="none" stroke="#b0b3b6" stroke-width="1.6"/>
<path d="M237.1,609 A41.2,13 0 0 0 319.5,609 L319.5,613 A41.2,13 0 0 1 237.1,613 Z" fill="#2e2e2e"/>
<ellipse cx="278.3" cy="608.5" rx="41.2" ry="13" fill="url(#dLid)"/>
<path d="M281.3,606 L294.3,598 A40.2,13 0 0 1 311.3,605 Z" fill="#e3e4e5"/>
<rect x="272.3" y="593" width="11" height="12" fill="url(#dKnob)"/>
<ellipse cx="277.8" cy="593" rx="5.5" ry="1.8" fill="#cfcfcf"/>
<line x1="282.3" y1="602" x2="295.3" y2="597" stroke="#333" stroke-width="1"/>
<path d="M301.3,599 l8,-7" fill="none" stroke="#a9c8e4" stroke-width="1"/>
<path d="M388.5,649.5 A53.3,9 0 0 1 495.1,649.5 L495.1,707.5 A53.3,9 0 0 1 388.5,707.5 Z" fill="url(#dGlass)" stroke="#a8aaac" stroke-width="0.9"/>
<ellipse cx="441.8" cy="649.5" rx="51.8" ry="9" fill="#e9eaeb" stroke="#b4b6b8" stroke-width="1.6"/>
<path d="M401.6,612 L401.6,699 A40.2,9.1 0 0 0 482,699 L482,612 Z" fill="url(#dBeak)" stroke="#9c9fa2" stroke-width="1"/>
<path d="M405.3,660 L405.3,698 A36.5,7 0 0 0 478.3,698 L478.3,660 Z" fill="url(#dSol)"/>
<path d="M405.3,660 L405.3,698 A36.5,7 0 0 0 478.3,698 L478.3,660 Z" fill="url(#dSolS)"/>
<ellipse cx="441.8" cy="660" rx="36.5" ry="10.5" fill="#4a80bb"/>
<rect x="405.3" y="674" width="73" height="5" fill="#c9d3dc" opacity="0.45"/>
<path d="M421.8,667 q2,-5 -1,-10" fill="none" stroke="#cfe3f5" stroke-width="1"/>
<path d="M436.8,667 q2,-6.5 -1,-13" fill="none" stroke="#cfe3f5" stroke-width="1"/>
<path d="M449.8,667 q2,-6 -1,-12" fill="none" stroke="#cfe3f5" stroke-width="1"/>
<path d="M463.8,667 q2,-4.5 -1,-9" fill="none" stroke="#cfe3f5" stroke-width="1"/>
<path d="M390,649.5 A51.8,9 0 0 0 493.6,649.5" fill="none" stroke="#f4f4f4" stroke-width="1.6" opacity="0.8"/>
<path d="M388.5,707.5 A53.3,9 0 0 0 495.1,707.5" fill="none" stroke="#b9bbbd" stroke-width="2.2"/>
<path d="M401.6,699 A40.2,9.1 0 0 0 482,699" fill="none" stroke="#b0b3b6" stroke-width="1.6"/>
<path d="M400.6,609 A41.2,13 0 0 0 483,609 L483,613 A41.2,13 0 0 1 400.6,613 Z" fill="#2e2e2e"/>
<ellipse cx="441.8" cy="608.5" rx="41.2" ry="13" fill="url(#dLid)"/>
<path d="M444.8,606 L457.8,598 A40.2,13 0 0 1 474.8,605 Z" fill="#e3e4e5"/>
<rect x="435.8" y="593" width="11" height="12" fill="url(#dKnob)"/>
<ellipse cx="441.3" cy="593" rx="5.5" ry="1.8" fill="#cfcfcf"/>
<line x1="445.8" y1="602" x2="458.8" y2="597" stroke="#333" stroke-width="1"/>
<path d="M464.8,599 l8,-7" fill="none" stroke="#a9c8e4" stroke-width="1"/>
<polygon points="427,686 432,680 460,680 457,686" fill="#f29a3c"/>
<polygon points="427,686 457,686 457,699 427,699" fill="#e0761e"/>
<polygon points="457,686 460,680 460,694 457,699" fill="#c9651a"/>
<circle cx="278" cy="692.4" r="1.6" fill="#d98a50"/>
<polygon points="102,722.6 109.6,736.4 94.4,736.4" fill="#e3101c"/>
<polygon points="277.6,722.6 285.2,736.4 270,736.4" fill="#e3101c"/>
<polygon points="441.8,722.6 449.4,736.4 434.2,736.4" fill="#e3101c"/>
<polygon points="172.4,674.6 201.2,674.6 201.2,670.3 210.2,678.8 201.2,687.3 201.2,683 172.4,683" fill="#4a8fd3"/>
<polygon points="339.4,674.4 368.2,674.4 368.2,670.1 377.2,678.6 368.2,687.1 368.2,682.8 339.4,682.8" fill="#4a8fd3"/>
<path d="M114,604 L114,592" fill="none" stroke="#a9c8e4" stroke-width="1.2"/>
<polygon points="111.9,593 114,588.5 116.1,593" fill="#a9c8e4"/>
<text x="91.2" y="574.7" font-size="15.36" textLength="39.62" lengthAdjust="spacingAndGlyphs" font-family='"Liberation Sans", Arial, sans-serif' fill="#2a2a2a">Vapor</text>
<text x="80.52" y="690.6" font-size="14.67" textLength="54.47" lengthAdjust="spacingAndGlyphs" font-family='"Liberation Sans", Arial, sans-serif' fill="#1d2a3a">Solution</text>
<text x="148.8" y="644.1" font-size="14.29" textLength="83.29" lengthAdjust="spacingAndGlyphs" font-family='"Liberation Sans", Arial, sans-serif' fill="#2a2a2a">Volatilization</text>
<text x="168.42" y="662.4" font-size="14.45" textLength="26.92" lengthAdjust="spacingAndGlyphs" font-family='"Liberation Sans", Arial, sans-serif' fill="#2a2a2a">limit</text>
<text x="262.52" y="585.4" font-size="15.14" textLength="120.68" lengthAdjust="spacingAndGlyphs" font-family='"Liberation Sans", Arial, sans-serif' fill="#2a2a2a">Open area control</text>
<text x="241.29" y="705.6" font-size="14.05" textLength="71.52" lengthAdjust="spacingAndGlyphs" font-family='"Liberation Sans", Arial, sans-serif' fill="#1a1a1a">Nucleation</text>
<text x="336.62" y="645.8" font-size="14.72" textLength="46.75" lengthAdjust="spacingAndGlyphs" font-family='"Liberation Sans", Arial, sans-serif' fill="#2a2a2a">Steady</text>
<text x="336.93" y="662.7" font-size="14.42" textLength="32.21" lengthAdjust="spacingAndGlyphs" font-family='"Liberation Sans", Arial, sans-serif' fill="#2a2a2a">state</text>
<text x="417.25" y="707" font-size="13.89" textLength="46.67" lengthAdjust="spacingAndGlyphs" font-family='"Liberation Sans", Arial, sans-serif' fill="#1a2230">Crystal</text>
</g>
<g id="pE">
<text x="547.93" y="469.2" font-size="47.1" textLength="30.46" lengthAdjust="spacingAndGlyphs" font-family='"Liberation Sans", Arial, sans-serif' font-weight="bold" fill="#000">E</text>
<rect x="653.6" y="476.3" width="397.8" height="313.4" fill="none" stroke="#3a3a3a" stroke-width="1.6"/>
<line x1="640.8" y1="766.3" x2="653.6" y2="766.3" stroke="#3a3a3a" stroke-width="1.6"/>
<line x1="645.9" y1="719.8" x2="653.6" y2="719.8" stroke="#3a3a3a" stroke-width="1.6"/>
<line x1="640.8" y1="673.3" x2="653.6" y2="673.3" stroke="#3a3a3a" stroke-width="1.6"/>
<line x1="645.9" y1="626.8" x2="653.6" y2="626.8" stroke="#3a3a3a" stroke-width="1.6"/>
<line x1="640.8" y1="580.3" x2="653.6" y2="580.3" stroke="#3a3a3a" stroke-width="1.6"/>
<line x1="645.9" y1="533.8" x2="653.6" y2="533.8" stroke="#3a3a3a" stroke-width="1.6"/>
<line x1="640.8" y1="487.3" x2="653.6" y2="487.3" stroke="#3a3a3a" stroke-width="1.6"/>
<text x="616.41" y="773.9" font-size="28.29" font-family='"Liberation Sans", Arial, sans-serif' fill="#1a1a1a">0</text>
<text x="616.25" y="680.9" font-size="28.29" textLength="16.04" lengthAdjust="spacingAndGlyphs" font-family='"Liberation Sans", Arial, sans-serif' fill="#1a1a1a">8</text>
<text x="601.2" y="587.9" font-size="28.29" textLength="31.08" lengthAdjust="spacingAndGlyphs" font-family='"Liberation Sans", Arial, sans-serif' fill="#1a1a1a">16</text>
<text x="601.96" y="494.9" font-size="28.29" textLength="29.88" lengthAdjust="spacingAndGlyphs" font-family='"Liberation Sans", Arial, sans-serif' fill="#1a1a1a">24</text>
<line x1="671.8" y1="789.7" x2="671.8" y2="801.5" stroke="#3a3a3a" stroke-width="1.6"/>
<line x1="719.25" y1="789.7" x2="719.25" y2="796.9" stroke="#3a3a3a" stroke-width="1.6"/>
<line x1="766.7" y1="789.7" x2="766.7" y2="801.5" stroke="#3a3a3a" stroke-width="1.6"/>
<line x1="814.15" y1="789.7" x2="814.15" y2="796.9" stroke="#3a3a3a" stroke-width="1.6"/>
<line x1="861.6" y1="789.7" x2="861.6" y2="801.5" stroke="#3a3a3a" stroke-width="1.6"/>
<line x1="909.05" y1="789.7" x2="909.05" y2="796.9" stroke="#3a3a3a" stroke-width="1.6"/>
<line x1="956.5" y1="789.7" x2="956.5" y2="801.5" stroke="#3a3a3a" stroke-width="1.6"/>
<line x1="1003.95" y1="789.7" x2="1003.95" y2="796.9" stroke="#3a3a3a" stroke-width="1.6"/>
<line x1="1051.4" y1="789.7" x2="1051.4" y2="801.5" stroke="#3a3a3a" stroke-width="1.6"/>
<text x="663.66" y="830.1" font-size="28.29" font-family='"Liberation Sans", Arial, sans-serif' fill="#1a1a1a">0</text>
<text x="758.4" y="830.1" font-size="28.7" textLength="16.04" lengthAdjust="spacingAndGlyphs" font-family='"Liberation Sans", Arial, sans-serif' fill="#1a1a1a">5</text>
<text x="845.09" y="830.1" font-size="28.29" textLength="31.37" lengthAdjust="spacingAndGlyphs" font-family='"Liberation Sans", Arial, sans-serif' fill="#1a1a1a">10</text>
<text x="939.97" y="830.1" font-size="28.7" textLength="31.53" lengthAdjust="spacingAndGlyphs" font-family='"Liberation Sans", Arial, sans-serif' fill="#1a1a1a">15</text>
<text x="1035.62" y="830.1" font-size="28.29" textLength="30.6" lengthAdjust="spacingAndGlyphs" font-family='"Liberation Sans", Arial, sans-serif' fill="#1a1a1a">20</text>
<text x="-775.55" y="585.6" font-size="27.71" textLength="275.49" lengthAdjust="spacingAndGlyphs" font-family='"Liberation Sans", Arial, sans-serif' fill="#1a1a1a" transform="rotate(-90)">Current density (nA/cm</text>
<text x="-498.55" y="576.3" font-size="18.71" textLength="8.34" lengthAdjust="spacingAndGlyphs" font-family='"Liberation Sans", Arial, sans-serif' fill="#1a1a1a" transform="rotate(-90)">2</text>
<text x="727.19" y="863.8" font-size="25.69" textLength="179.02" lengthAdjust="spacingAndGlyphs" font-family='"Liberation Sans", Arial, sans-serif' fill="#1a1a1a">Dose rate (μGy</text>
<text x="906.55" y="871.8" font-size="14" textLength="15.31" lengthAdjust="spacingAndGlyphs" font-family='"Liberation Sans", Arial, sans-serif' fill="#1a1a1a">air</text>
<text x="922.6" y="863.8" font-size="25.2" textLength="28.85" lengthAdjust="spacingAndGlyphs" font-family='"Liberation Sans", Arial, sans-serif' fill="#1a1a1a">/s)</text>
<line x1="679.8" y1="763" x2="1024.6" y2="496.2" stroke="#2a2a78" stroke-width="1.7"/>
<rect x="678.8" y="755.9" width="7.6" height="7.6" fill="#12127a"/>
<rect x="687.3" y="748.4" width="7.6" height="7.6" fill="#12127a"/>
<rect x="702.5" y="742.8" width="7.6" height="7.6" fill="#12127a"/>
<rect x="709.9" y="741" width="7.6" height="7.6" fill="#12127a"/>
<rect x="737.7" y="713.9" width="7.6" height="7.6" fill="#12127a"/>
<line x1="837.6" y1="657.7" x2="837.6" y2="668.7" stroke="#6a6a9a" stroke-width="1"/>
<line x1="835.1" y1="657.7" x2="840.1" y2="657.7" stroke="#6a6a9a" stroke-width="1"/>
<line x1="835.1" y1="668.7" x2="840.1" y2="668.7" stroke="#6a6a9a" stroke-width="1"/>
<rect x="833.8" y="659.4" width="7.6" height="7.6" fill="#12127a"/>
<line x1="960.3" y1="538.7" x2="960.3" y2="558.7" stroke="#6a6a9a" stroke-width="1"/>
<line x1="957.8" y1="538.7" x2="962.8" y2="538.7" stroke="#6a6a9a" stroke-width="1"/>
<line x1="957.8" y1="558.7" x2="962.8" y2="558.7" stroke="#6a6a9a" stroke-width="1"/>
<rect x="956.5" y="544.9" width="7.6" height="7.6" fill="#12127a"/>
<line x1="1025.2" y1="485.4" x2="1025.2" y2="494.4" stroke="#6a6a9a" stroke-width="1"/>
<line x1="1022.7" y1="485.4" x2="1027.7" y2="485.4" stroke="#6a6a9a" stroke-width="1"/>
<line x1="1022.7" y1="494.4" x2="1027.7" y2="494.4" stroke="#6a6a9a" stroke-width="1"/>
<rect x="1021.4" y="486.1" width="7.6" height="7.6" fill="#12127a"/>
<line x1="866.4" y1="615.2" x2="855.6" y2="604.2" stroke="#12127a" stroke-width="1.4"/>
<polygon points="852.2,600.6 859.2,603.6 855.2,607.4" fill="#12127a"/>
<line x1="686.5" y1="761.5" x2="699" y2="767" stroke="#12127a" stroke-width="1.4"/>
<polygon points="702.6,768.4 695.2,768.8 697.4,763.6" fill="#12127a"/>
<text x="708.78" y="775.2" font-size="25.7" textLength="107.17" lengthAdjust="spacingAndGlyphs" font-family='"Liberation Sans", Arial, sans-serif' fill="#1a1a1a">0.56 μGy</text>
<text x="816.04" y="783.6" font-size="14" textLength="15.62" lengthAdjust="spacingAndGlyphs" font-family='"Liberation Sans", Arial, sans-serif' fill="#1a1a1a">air</text>
<text x="832" y="775.4" font-size="25.5" textLength="20.57" lengthAdjust="spacingAndGlyphs" font-family='"Liberation Sans", Arial, sans-serif' fill="#1a1a1a">/s</text>
<g transform="translate(757.5,659.5) rotate(-38.2)">
<text x="0" y="0" font-size="26.8" font-family='"Liberation Sans", Arial, sans-serif' fill="#1a1a1a">1274 μC/(Gy<tspan font-size="15.5" dy="7">air</tspan><tspan dy="-7"> cm</tspan><tspan font-size="16.5" dy="-10.5">2</tspan><tspan dy="10.5">)</tspan></text>
</g>
</g>
<g id="pF">
<defs>
<radialGradient id="bO" cx="0.35" cy="0.32" r="0.7"><stop offset="0" stop-color="#fbe3d2"/><stop offset="0.3" stop-color="#e87a4a"/><stop offset="1" stop-color="#b8441c"/></radialGradient>
<radialGradient id="bB" cx="0.35" cy="0.32" r="0.7"><stop offset="0" stop-color="#e3eefa"/><stop offset="0.3" stop-color="#5b93d2"/><stop offset="1" stop-color="#2a5b9a"/></radialGradient>
<radialGradient id="bG" cx="0.35" cy="0.32" r="0.7"><stop offset="0" stop-color="#e8e8e8"/><stop offset="0.3" stop-color="#7a7a7a"/><stop offset="1" stop-color="#404040"/></radialGradient>
<radialGradient id="bR" cx="0.35" cy="0.32" r="0.7"><stop offset="0" stop-color="#fde0d6"/><stop offset="0.3" stop-color="#f0603a"/><stop offset="1" stop-color="#c02a10"/></radialGradient>
<radialGradient id="bGr" cx="0.35" cy="0.32" r="0.7"><stop offset="0" stop-color="#e6f7e0"/><stop offset="0.3" stop-color="#4cb848"/><stop offset="1" stop-color="#1e7a1e"/></radialGradient>
<radialGradient id="bK" cx="0.35" cy="0.32" r="0.7"><stop offset="0" stop-color="#e8e8ff"/><stop offset="0.35" stop-color="#5a5ac8"/><stop offset="1" stop-color="#2a2a80"/></radialGradient>
<radialGradient id="bL" cx="0.35" cy="0.32" r="0.7"><stop offset="0" stop-color="#ffe6e6"/><stop offset="0.35" stop-color="#f03a3a"/><stop offset="1" stop-color="#b01818"/></radialGradient>
</defs>
<text x="1169.86" y="465.2" font-size="47.54" textLength="26.71" lengthAdjust="spacingAndGlyphs" font-family='"Liberation Sans", Arial, sans-serif' font-weight="bold" fill="#000">F</text>
<rect x="1280.5" y="472.3" width="386" height="319.4" fill="none" stroke="#7a7a7a" stroke-width="1.5"/>
<line x1="1280.5" y1="578.8" x2="1289.5" y2="578.8" stroke="#7a7a7a" stroke-width="1.5"/>
<line x1="1280.5" y1="685.3" x2="1289.5" y2="685.3" stroke="#7a7a7a" stroke-width="1.5"/>
<line x1="1344.65" y1="784" x2="1344.65" y2="791.7" stroke="#7a7a7a" stroke-width="1.5"/>
<line x1="1409" y1="784" x2="1409" y2="791.7" stroke="#7a7a7a" stroke-width="1.5"/>
<line x1="1473.35" y1="784" x2="1473.35" y2="791.7" stroke="#7a7a7a" stroke-width="1.5"/>
<line x1="1537.7" y1="784" x2="1537.7" y2="791.7" stroke="#7a7a7a" stroke-width="1.5"/>
<line x1="1602.05" y1="784" x2="1602.05" y2="791.7" stroke="#7a7a7a" stroke-width="1.5"/>
<text x="1234.47" y="480.3" font-size="23" textLength="25.7" lengthAdjust="spacingAndGlyphs" font-family='"Liberation Sans", Arial, sans-serif' fill="#1e1e1e">10</text>
<text x="1259.69" y="469.7" font-size="17.25" textLength="9.84" lengthAdjust="spacingAndGlyphs" font-family='"Liberation Sans", Arial, sans-serif' fill="#1e1e1e">5</text>
<text x="1234.47" y="586.8" font-size="23" textLength="25.7" lengthAdjust="spacingAndGlyphs" font-family='"Liberation Sans", Arial, sans-serif' fill="#1e1e1e">10</text>
<text x="1260.07" y="576.2" font-size="17.25" textLength="9.16" lengthAdjust="spacingAndGlyphs" font-family='"Liberation Sans", Arial, sans-serif' fill="#1e1e1e">4</text>
<text x="1234.47" y="693.3" font-size="23" textLength="25.7" lengthAdjust="spacingAndGlyphs" font-family='"Liberation Sans", Arial, sans-serif' fill="#1e1e1e">10</text>
<text x="1259.79" y="682.7" font-size="17" textLength="9.73" lengthAdjust="spacingAndGlyphs" font-family='"Liberation Sans", Arial, sans-serif' fill="#1e1e1e">3</text>
<text x="1234.47" y="799.7" font-size="23" textLength="25.7" lengthAdjust="spacingAndGlyphs" font-family='"Liberation Sans", Arial, sans-serif' fill="#1e1e1e">10</text>
<text x="1259.49" y="789.1" font-size="17.62" textLength="10.16" lengthAdjust="spacingAndGlyphs" font-family='"Liberation Sans", Arial, sans-serif' fill="#1e1e1e">2</text>
<text x="1273.72" y="820.2" font-size="23.21" textLength="13.19" lengthAdjust="spacingAndGlyphs" font-family='"Liberation Sans", Arial, sans-serif' fill="#1e1e1e">0</text>
<text x="1328.69" y="820.2" font-size="22.71" textLength="32.15" lengthAdjust="spacingAndGlyphs" font-family='"Liberation Sans", Arial, sans-serif' fill="#1e1e1e">0.2</text>
<text x="1393.05" y="820.2" font-size="22.71" font-family='"Liberation Sans", Arial, sans-serif' fill="#1e1e1e">0.4</text>
<text x="1457.39" y="820.2" font-size="22.71" textLength="32.03" lengthAdjust="spacingAndGlyphs" font-family='"Liberation Sans", Arial, sans-serif' fill="#1e1e1e">0.6</text>
<text x="1521.74" y="820.2" font-size="22.71" textLength="32.03" lengthAdjust="spacingAndGlyphs" font-family='"Liberation Sans", Arial, sans-serif' fill="#1e1e1e">0.8</text>
<text x="1585.12" y="820.2" font-size="23.19" textLength="32.91" lengthAdjust="spacingAndGlyphs" font-family='"Liberation Sans", Arial, sans-serif' fill="#1e1e1e">1.0</text>
<text x="1649.46" y="820.2" font-size="23.28" textLength="33.17" lengthAdjust="spacingAndGlyphs" font-family='"Liberation Sans", Arial, sans-serif' fill="#1e1e1e">1.2</text>
<text x="1366.47" y="854.3" font-size="22.28" textLength="189" lengthAdjust="spacingAndGlyphs" font-family='"Liberation Sans", Arial, sans-serif' fill="#1e1e1e">Electric field (V cm</text>
<text x="1555.87" y="845.2" font-size="14.5" textLength="16.07" lengthAdjust="spacingAndGlyphs" font-family='"Liberation Sans", Arial, sans-serif' fill="#1e1e1e">−1</text>
<text x="1573.69" y="854.3" font-size="21.5" textLength="7.65" lengthAdjust="spacingAndGlyphs" font-family='"Liberation Sans", Arial, sans-serif' fill="#1e1e1e">)</text>
<text x="-767.82" y="1211.3" font-size="22.14" textLength="180.55" lengthAdjust="spacingAndGlyphs" font-family='"Liberation Sans", Arial, sans-serif' fill="#1e1e1e" transform="rotate(-90)">Sensitivity (μC Gy</text>
<text x="-590.05" y="1217.3" font-size="14.5" textLength="15.2" lengthAdjust="spacingAndGlyphs" font-family='"Liberation Sans", Arial, sans-serif' fill="#1e1e1e" transform="rotate(-90)">air</text>
<text x="-576.39" y="1199.9" font-size="14.5" textLength="17.48" lengthAdjust="spacingAndGlyphs" font-family='"Liberation Sans", Arial, sans-serif' fill="#1e1e1e" transform="rotate(-90)">−1</text>
<text x="-550.76" y="1211.3" font-size="21.8" textLength="28.72" lengthAdjust="spacingAndGlyphs" font-family='"Liberation Sans", Arial, sans-serif' fill="#1e1e1e" transform="rotate(-90)">cm</text>
<text x="-522.52" y="1200.3" font-size="14.5" textLength="18.35" lengthAdjust="spacingAndGlyphs" font-family='"Liberation Sans", Arial, sans-serif' fill="#1e1e1e" transform="rotate(-90)">−2</text>
<text x="-503.46" y="1211.3" font-size="21.8" textLength="10.98" lengthAdjust="spacingAndGlyphs" font-family='"Liberation Sans", Arial, sans-serif' fill="#1e1e1e" transform="rotate(-90)">)</text>
<path d="M1345.3,607.1 L1409.1,569 L1473.6,552.5 L1538.2,542.6 L1602.2,532.9" fill="none" stroke="#d6602e" stroke-width="2.3"/>
<circle cx="1345.3" cy="607.1" r="5.2" fill="url(#bO)"/>
<circle cx="1409.1" cy="569" r="5.2" fill="url(#bO)"/>
<circle cx="1473.6" cy="552.5" r="5.2" fill="url(#bO)"/>
<circle cx="1538.2" cy="542.6" r="5.2" fill="url(#bO)"/>
<circle cx="1602.2" cy="532.9" r="5.2" fill="url(#bO)"/>
<path d="M1345.3,663 L1409.1,613.2 L1473.6,593.3 L1538.2,580.9 L1602.2,573.5" fill="none" stroke="#4a82c4" stroke-width="2.3"/>
<circle cx="1345.3" cy="663" r="5.2" fill="url(#bB)"/>
<circle cx="1409.1" cy="613.2" r="5.2" fill="url(#bB)"/>
<circle cx="1473.6" cy="593.3" r="5.2" fill="url(#bB)"/>
<circle cx="1538.2" cy="580.9" r="5.2" fill="url(#bB)"/>
<circle cx="1602.2" cy="573.5" r="5.2" fill="url(#bB)"/>
<path d="M1345.3,759.3 L1409.1,738.9 L1473.6,727 L1538.2,709 L1602.2,694.8" fill="none" stroke="#5c5c5c" stroke-width="2.3"/>
<circle cx="1345.3" cy="759.3" r="5.2" fill="url(#bG)"/>
<circle cx="1409.1" cy="738.9" r="5.2" fill="url(#bG)"/>
<circle cx="1473.6" cy="727" r="5.2" fill="url(#bG)"/>
<circle cx="1538.2" cy="709" r="5.2" fill="url(#bG)"/>
<circle cx="1602.2" cy="694.8" r="5.2" fill="url(#bG)"/>
<text x="1309.17" y="534" font-size="23.14" textLength="116.72" lengthAdjust="spacingAndGlyphs" font-family='"Liberation Sans", Arial, sans-serif' fill="#d0603a">CsFAGA:Sr</text>
<text x="1536.67" y="613.9" font-size="23" textLength="87.62" lengthAdjust="spacingAndGlyphs" font-family='"Liberation Sans", Arial, sans-serif' fill="#4a78b2">CsFAGA</text>
<text x="1582.98" y="727.5" font-size="22.14" textLength="54.72" lengthAdjust="spacingAndGlyphs" font-family='"Liberation Sans", Arial, sans-serif' fill="#5a5a5a">CsFA</text>
</g>
<g id="pG">
<text x="20.16" y="896.9" font-size="49.57" textLength="35.69" lengthAdjust="spacingAndGlyphs" font-family='"Liberation Sans", Arial, sans-serif' font-weight="bold" fill="#000">G</text>
<polygon points="89.9,958.5 99.1,949.3 140.4,949.3 131.2,958.5" fill="#ec5a40"/>
<polygon points="89.9,958.5 131.2,958.5 131.2,966.5 89.9,966.5" fill="#e9482d"/>
<polygon points="131.2,958.5 140.4,949.3 140.4,957.3 131.2,966.5" fill="#c9381f"/>
<polygon points="288.4,942.4 318.2,911 451.2,911 421.4,942.4" fill="#ec5a40"/>
<polygon points="288.4,942.4 421.4,942.4 421.4,968.4 288.4,968.4" fill="#e9482d"/>
<polygon points="421.4,942.4 451.2,911 451.2,937 421.4,968.4" fill="#c9381f"/>
<polygon points="80.7,1075.5 88.8,1066.3 130.1,1066.3 122,1075.5" fill="#ec5a40"/>
<polygon points="80.7,1075.5 122,1075.5 122,1082.4 80.7,1082.4" fill="#e9482d"/>
<polygon points="122,1075.5 130.1,1066.3 130.1,1073.2 122,1082.4" fill="#c9381f"/>
<polygon points="284.9,1076.6 314.7,1046.8 444.3,1046.8 414.5,1076.6" fill="#f6a982"/>
<polygon points="284.9,1076.6 414.5,1076.6 414.5,1099.6 284.9,1099.6" fill="#f39a6a"/>
<polygon points="414.5,1076.6 444.3,1046.8 444.3,1069.8 414.5,1099.6" fill="#de8a5c"/>
<line x1="286" y1="1077" x2="415" y2="1077" stroke="#f8c4a8" stroke-width="1.2"/>
<line x1="154.1" y1="956.9" x2="271.3" y2="956.9" stroke="#8db4dc" stroke-width="1.4"/>
<polygon points="272.3,956.9 264.3,952.7 266.8,956.9 264.3,961.1" fill="#8db4dc"/>
<line x1="155.3" y1="1072.5" x2="271.3" y2="1072.5" stroke="#8db4dc" stroke-width="1.4"/>
<polygon points="272.3,1072.5 264.3,1068.3 266.8,1072.5 264.3,1076.7" fill="#8db4dc"/>
<line x1="438.6" y1="1049" x2="438.6" y2="1098" stroke="#7aa7d6" stroke-width="1.4"/>
<polygon points="438.6,1101.5 434.6,1093.5 438.6,1095.5 442.6,1093.5" fill="#7aa7d6"/>
<text x="181.88" y="949.3" font-size="18" textLength="59.49" lengthAdjust="spacingAndGlyphs" font-family='"Liberation Sans", Arial, sans-serif' fill="#444444">Growth</text>
<text x="176.76" y="981.4" font-size="18.26" textLength="73.35" lengthAdjust="spacingAndGlyphs" font-family='"Liberation Sans", Arial, sans-serif' fill="#444444">MR = 0.8</text>
<text x="102.92" y="1002.8" font-size="17.43" textLength="43.12" lengthAdjust="spacingAndGlyphs" font-family='"Liberation Sans", Arial, sans-serif' fill="#444444">Small</text>
<text x="65.21" y="1026.2" font-size="17.62" textLength="69.34" lengthAdjust="spacingAndGlyphs" font-family='"Liberation Sans", Arial, sans-serif' fill="#444444">MAPbBr</text>
<text x="134.6" y="1032.4" font-size="12" textLength="6.37" lengthAdjust="spacingAndGlyphs" font-family='"Liberation Sans", Arial, sans-serif' fill="#444444">3</text>
<text x="143.07" y="1026.2" font-size="16.9" textLength="45.07" lengthAdjust="spacingAndGlyphs" font-family='"Liberation Sans", Arial, sans-serif' fill="#444444">single</text>
<text x="101.79" y="1046.8" font-size="17.28" textLength="51.25" lengthAdjust="spacingAndGlyphs" font-family='"Liberation Sans", Arial, sans-serif' fill="#444444">crystal</text>
<text x="347.74" y="1003.2" font-size="18.26" textLength="43.38" lengthAdjust="spacingAndGlyphs" font-family='"Liberation Sans", Arial, sans-serif' fill="#444444">Large</text>
<text x="284.51" y="1026.2" font-size="17.62" textLength="69.34" lengthAdjust="spacingAndGlyphs" font-family='"Liberation Sans", Arial, sans-serif' fill="#444444">MAPbBr</text>
<text x="353.9" y="1032.4" font-size="12" textLength="6.37" lengthAdjust="spacingAndGlyphs" font-family='"Liberation Sans", Arial, sans-serif' fill="#444444">3</text>
<text x="362.06" y="1026.2" font-size="16.97" textLength="100.58" lengthAdjust="spacingAndGlyphs" font-family='"Liberation Sans", Arial, sans-serif' fill="#444444">single crystal</text>
<text x="184.18" y="1065.6" font-size="18.08" textLength="59.49" lengthAdjust="spacingAndGlyphs" font-family='"Liberation Sans", Arial, sans-serif' fill="#444444">Growth</text>
<text x="178.04" y="1096.8" font-size="17.54" textLength="69.56" lengthAdjust="spacingAndGlyphs" font-family='"Liberation Sans", Arial, sans-serif' fill="#444444">MR = 1.0</text>
<text x="258.93" y="1126.6" font-size="17.57" textLength="180.6" lengthAdjust="spacingAndGlyphs" font-family='"Liberation Sans", Arial, sans-serif' fill="#444444">Opaque part on surface</text>
<defs><filter id="gBlur" x="-30%" y="-30%" width="160%" height="160%"><feGaussianBlur stdDeviation="1.6"/></filter></defs>
<rect x="102.8" y="1134.2" width="243.4" height="137.2" fill="#a8a297"/>
<rect x="117.5" y="1178.6" width="50.5" height="48.5" fill="#8a1a1a" filter="url(#gBlur)" opacity="0.55"/>
<rect x="279.5" y="1176.6" width="50.5" height="49.5" fill="#8a1a1a" filter="url(#gBlur)" opacity="0.55"/>
<rect x="119.3" y="1180.1" width="47.3" height="45.3" fill="#cf1a1e"/>
<rect x="281.3" y="1178.1" width="46.4" height="46.3" fill="#d21c20"/>
<text x="121.8" y="1155.4" font-size="25.17" textLength="53.31" lengthAdjust="spacingAndGlyphs" font-family='"Liberation Sans", Arial, sans-serif' fill="#141414" stroke="#141414" stroke-width="0.9">UNL</text>
<text x="200" y="1155.4" font-size="25.17" textLength="53.31" lengthAdjust="spacingAndGlyphs" font-family='"Liberation Sans", Arial, sans-serif' fill="#141414" stroke="#141414" stroke-width="0.9">UNL</text>
<text x="279.3" y="1155.4" font-size="25.17" textLength="53.31" lengthAdjust="spacingAndGlyphs" font-family='"Liberation Sans", Arial, sans-serif' fill="#141414" stroke="#141414" stroke-width="0.9">UNL</text>
<text x="118.62" y="1211.8" font-size="26.73" textLength="55.42" lengthAdjust="spacingAndGlyphs" font-family='"Liberation Sans", Arial, sans-serif' fill="#3a0a0a" stroke="#3a0a0a" stroke-width="0.9">UNL</text>
<text x="200" y="1211.8" font-size="25.8" textLength="53.31" lengthAdjust="spacingAndGlyphs" font-family='"Liberation Sans", Arial, sans-serif' fill="#141414" stroke="#141414" stroke-width="0.9">UNL</text>
<text x="279.3" y="1211.8" font-size="25.8" textLength="53.31" lengthAdjust="spacingAndGlyphs" font-family='"Liberation Sans", Arial, sans-serif' fill="#7a1010" stroke="#7a1010" stroke-width="0.9">UNL</text>
<text x="119.81" y="1267.7" font-size="25.97" textLength="53.21" lengthAdjust="spacingAndGlyphs" font-family='"Liberation Sans", Arial, sans-serif' fill="#141414" stroke="#141414" stroke-width="0.9">UNL</text>
<text x="199" y="1267.7" font-size="26" textLength="53.31" lengthAdjust="spacingAndGlyphs" font-family='"Liberation Sans", Arial, sans-serif' fill="#141414" stroke="#141414" stroke-width="0.9">UNL</text>
<text x="279" y="1267.7" font-size="26" textLength="53.31" lengthAdjust="spacingAndGlyphs" font-family='"Liberation Sans", Arial, sans-serif' fill="#141414" stroke="#141414" stroke-width="0.9">UNL</text>
<text x="105.97" y="1175" font-size="17.97" textLength="73.15" lengthAdjust="spacingAndGlyphs" font-family='"Liberation Sans", Arial, sans-serif' fill="#f4f4f4">MR = 0.8</text>
<text x="269.65" y="1175" font-size="17.97" textLength="68.94" lengthAdjust="spacingAndGlyphs" font-family='"Liberation Sans", Arial, sans-serif' fill="#f4f4f4">MR = 1.0</text>
<rect x="274.1" y="1239.9" width="64.9" height="5.2" fill="#ffffff"/>
<line x1="321.5" y1="1189.4" x2="381" y2="1142.6" stroke="#7aa7d6" stroke-width="1.3"/>
<polygon points="384.6,1139.8 380.6,1148 379,1144 375.4,1141.6" fill="#7aa7d6"/>
</g>
<g id="pH">
<text x="550.65" y="896.1" font-size="49.28" textLength="32.8" lengthAdjust="spacingAndGlyphs" font-family='"Liberation Sans", Arial, sans-serif' font-weight="bold" fill="#000">H</text>
<rect x="654.2" y="904.2" width="397.8" height="407.4" fill="none" stroke="#6e6e6e" stroke-width="1.4"/>
<line x1="644.2" y1="1312.1" x2="654.2" y2="1312.1" stroke="#6e6e6e" stroke-width="1.4"/>
<line x1="649.5" y1="1266.52" x2="654.2" y2="1266.52" stroke="#6e6e6e" stroke-width="1.2"/>
<line x1="649.5" y1="1239.86" x2="654.2" y2="1239.86" stroke="#6e6e6e" stroke-width="1.2"/>
<line x1="649.5" y1="1220.95" x2="654.2" y2="1220.95" stroke="#6e6e6e" stroke-width="1.2"/>
<line x1="649.5" y1="1206.28" x2="654.2" y2="1206.28" stroke="#6e6e6e" stroke-width="1.2"/>
<line x1="649.5" y1="1194.29" x2="654.2" y2="1194.29" stroke="#6e6e6e" stroke-width="1.2"/>
<line x1="649.5" y1="1184.15" x2="654.2" y2="1184.15" stroke="#6e6e6e" stroke-width="1.2"/>
<line x1="649.5" y1="1175.37" x2="654.2" y2="1175.37" stroke="#6e6e6e" stroke-width="1.2"/>
<line x1="649.5" y1="1167.63" x2="654.2" y2="1167.63" stroke="#6e6e6e" stroke-width="1.2"/>
<line x1="644.2" y1="1160.7" x2="654.2" y2="1160.7" stroke="#6e6e6e" stroke-width="1.4"/>
<line x1="649.5" y1="1115.12" x2="654.2" y2="1115.12" stroke="#6e6e6e" stroke-width="1.2"/>
<line x1="649.5" y1="1088.46" x2="654.2" y2="1088.46" stroke="#6e6e6e" stroke-width="1.2"/>
<line x1="649.5" y1="1069.55" x2="654.2" y2="1069.55" stroke="#6e6e6e" stroke-width="1.2"/>
<line x1="649.5" y1="1054.88" x2="654.2" y2="1054.88" stroke="#6e6e6e" stroke-width="1.2"/>
<line x1="649.5" y1="1042.89" x2="654.2" y2="1042.89" stroke="#6e6e6e" stroke-width="1.2"/>
<line x1="649.5" y1="1032.75" x2="654.2" y2="1032.75" stroke="#6e6e6e" stroke-width="1.2"/>
<line x1="649.5" y1="1023.97" x2="654.2" y2="1023.97" stroke="#6e6e6e" stroke-width="1.2"/>
<line x1="649.5" y1="1016.23" x2="654.2" y2="1016.23" stroke="#6e6e6e" stroke-width="1.2"/>
<line x1="644.2" y1="1009.3" x2="654.2" y2="1009.3" stroke="#6e6e6e" stroke-width="1.4"/>
<line x1="649.5" y1="963.72" x2="654.2" y2="963.72" stroke="#6e6e6e" stroke-width="1.2"/>
<line x1="649.5" y1="937.06" x2="654.2" y2="937.06" stroke="#6e6e6e" stroke-width="1.2"/>
<line x1="649.5" y1="918.15" x2="654.2" y2="918.15" stroke="#6e6e6e" stroke-width="1.2"/>
<line x1="684.8" y1="1311.6" x2="684.8" y2="1321.7" stroke="#6e6e6e" stroke-width="1.4"/>
<line x1="715.4" y1="1311.6" x2="715.4" y2="1316.9" stroke="#6e6e6e" stroke-width="1.4"/>
<line x1="746" y1="1311.6" x2="746" y2="1321.7" stroke="#6e6e6e" stroke-width="1.4"/>
<line x1="776.6" y1="1311.6" x2="776.6" y2="1316.9" stroke="#6e6e6e" stroke-width="1.4"/>
<line x1="807.2" y1="1311.6" x2="807.2" y2="1321.7" stroke="#6e6e6e" stroke-width="1.4"/>
<line x1="837.8" y1="1311.6" x2="837.8" y2="1316.9" stroke="#6e6e6e" stroke-width="1.4"/>
<line x1="868.4" y1="1311.6" x2="868.4" y2="1321.7" stroke="#6e6e6e" stroke-width="1.4"/>
<line x1="899" y1="1311.6" x2="899" y2="1316.9" stroke="#6e6e6e" stroke-width="1.4"/>
<line x1="929.6" y1="1311.6" x2="929.6" y2="1321.7" stroke="#6e6e6e" stroke-width="1.4"/>
<line x1="960.2" y1="1311.6" x2="960.2" y2="1316.9" stroke="#6e6e6e" stroke-width="1.4"/>
<line x1="990.8" y1="1311.6" x2="990.8" y2="1321.7" stroke="#6e6e6e" stroke-width="1.4"/>
<line x1="1021.4" y1="1311.6" x2="1021.4" y2="1316.9" stroke="#6e6e6e" stroke-width="1.4"/>
<text x="600.08" y="1016.2" font-size="22.43" textLength="24.03" lengthAdjust="spacingAndGlyphs" font-family='"Liberation Sans", Arial, sans-serif' fill="#4a4a4a">10</text>
<text x="623.41" y="1009.1" font-size="14.5" textLength="11" lengthAdjust="spacingAndGlyphs" font-family='"Liberation Sans", Arial, sans-serif' fill="#4a4a4a">2</text>
<text x="601.98" y="1167.6" font-size="22.43" textLength="22.58" lengthAdjust="spacingAndGlyphs" font-family='"Liberation Sans", Arial, sans-serif' fill="#4a4a4a">10</text>
<text x="625.32" y="1160.5" font-size="14.5" textLength="6.52" lengthAdjust="spacingAndGlyphs" font-family='"Liberation Sans", Arial, sans-serif' fill="#4a4a4a">1</text>
<text x="598.79" y="1319" font-size="22.43" textLength="25.36" lengthAdjust="spacingAndGlyphs" font-family='"Liberation Sans", Arial, sans-serif' fill="#4a4a4a">10</text>
<text x="623.74" y="1311.9" font-size="14.5" textLength="10.44" lengthAdjust="spacingAndGlyphs" font-family='"Liberation Sans", Arial, sans-serif' fill="#4a4a4a">0</text>
<text x="677.88" y="1348.2" font-size="22.65" textLength="13.88" lengthAdjust="spacingAndGlyphs" font-family='"Liberation Sans", Arial, sans-serif' fill="#4a4a4a">0</text>
<text x="734.04" y="1348.2" font-size="20.57" textLength="23.14" lengthAdjust="spacingAndGlyphs" font-family='"Liberation Sans", Arial, sans-serif' fill="#4a4a4a">10</text>
<text x="795.79" y="1348.2" font-size="20.57" textLength="22.57" lengthAdjust="spacingAndGlyphs" font-family='"Liberation Sans", Arial, sans-serif' fill="#4a4a4a">20</text>
<text x="857.3" y="1348.2" font-size="20.57" textLength="22.25" lengthAdjust="spacingAndGlyphs" font-family='"Liberation Sans", Arial, sans-serif' fill="#4a4a4a">30</text>
<text x="918.81" y="1348.2" font-size="20.57" textLength="21.93" lengthAdjust="spacingAndGlyphs" font-family='"Liberation Sans", Arial, sans-serif' fill="#4a4a4a">40</text>
<text x="979.6" y="1348.2" font-size="20.57" textLength="22.35" lengthAdjust="spacingAndGlyphs" font-family='"Liberation Sans", Arial, sans-serif' fill="#4a4a4a">50</text>
<text x="1040.59" y="1348.2" font-size="20.57" textLength="22.57" lengthAdjust="spacingAndGlyphs" font-family='"Liberation Sans", Arial, sans-serif' fill="#4a4a4a">60</text>
<text x="796.3" y="1386.3" font-size="22.64" textLength="115.85" lengthAdjust="spacingAndGlyphs" font-family='"Liberation Sans", Arial, sans-serif' fill="#4a4a4a">Voltage (V)</text>
<text x="-1198.95" y="580" font-size="23.04" textLength="183" lengthAdjust="spacingAndGlyphs" font-family='"Liberation Sans", Arial, sans-serif' fill="#4a4a4a" transform="rotate(-90)">Photocurrent (nA)</text>
<path d="M690,1142.5 C690.43,1135.42 691.73,1111.25 692.6,1100 C693.47,1088.75 694.25,1083.33 695.2,1075 C696.15,1066.67 697.2,1057 698.3,1050 C699.4,1043 700.43,1038.17 701.8,1033 C703.17,1027.83 704.72,1022.83 706.5,1019 C708.28,1015.17 710.33,1012.92 712.5,1010 C714.67,1007.08 717,1004 719.5,1001.5 C722,999 724.25,997.17 727.5,995 C730.75,992.83 735.08,990.42 739,988.5 C742.92,986.58 745.83,985.17 751,983.5 C756.17,981.83 762.78,980.25 770,978.5 C777.22,976.75 784.3,974.5 794.3,973 C804.3,971.5 819.05,970.45 830,969.5 C840.95,968.55 848.33,968 860,967.3 C871.67,966.6 885,965.93 900,965.3 C915,964.67 933.83,964.05 950,963.5 C966.17,962.95 989.17,962.25 997,962" fill="none" stroke="#e0503a" stroke-width="1.4"/>
<path d="M689.7,1142.5 C690.13,1135.42 691.47,1111.55 692.3,1100 C693.13,1088.45 693.83,1081.87 694.7,1073.2 C695.57,1064.53 696.53,1055.22 697.5,1048 C698.47,1040.78 699.25,1035.4 700.5,1029.9 C701.75,1024.4 703.32,1019.08 705,1015 C706.68,1010.92 708.6,1008.48 710.6,1005.4 C712.6,1002.32 714.6,999.15 717,996.5 C719.4,993.85 721.67,991.75 725,989.5 C728.33,987.25 732.67,984.92 737,983 C741.33,981.08 745.5,979.75 751,978 C756.5,976.25 762.78,974.2 770,972.5 C777.22,970.8 784.3,969.22 794.3,967.8 C804.3,966.38 819.05,965.08 830,964 C840.95,962.92 848.33,962.05 860,961.3 C871.67,960.55 885,960.05 900,959.5 C915,958.95 933.83,958.45 950,958 C966.17,957.55 989.17,957 997,956.8" fill="none" stroke="#3aa54a" stroke-width="1.4"/>
<path d="M690.4,1034 C690.83,1029.17 692.03,1012.67 693,1005 C693.97,997.33 695.03,992.83 696.2,988 C697.37,983.17 698.37,979.67 700,976 C701.63,972.33 703.83,968.92 706,966 C708.17,963.08 710.55,960.6 713,958.5 C715.45,956.4 717.03,954.9 720.7,953.4 C724.37,951.9 729.83,950.73 735,949.5 C740.17,948.27 744.2,947.42 751.7,946 C759.2,944.58 769.77,942.58 780,941 C790.23,939.42 801.43,937.67 813.1,936.5 C824.77,935.33 839.93,934.67 850,934 C860.07,933.33 859.35,932.92 873.5,932.5 C887.65,932.08 914.4,931.75 934.9,931.5 C955.4,931.25 986.23,931.08 996.5,931" fill="none" stroke="#4a7fc0" stroke-width="1.5"/>
<circle cx="690.3" cy="1172.9" r="6" fill="url(#bGr)"/>
<circle cx="696.2" cy="1081.8" r="6" fill="url(#bGr)"/>
<circle cx="751.7" cy="965.7" r="6" fill="url(#bGr)"/>
<circle cx="813.1" cy="961.3" r="6" fill="url(#bGr)"/>
<circle cx="873.5" cy="960" r="6" fill="url(#bGr)"/>
<circle cx="934.9" cy="958.5" r="6" fill="url(#bGr)"/>
<circle cx="996.5" cy="956.9" r="6" fill="url(#bGr)"/>
<circle cx="690.3" cy="1239" r="6" fill="url(#bR)"/>
<circle cx="696.2" cy="1074.6" r="6" fill="url(#bR)"/>
<circle cx="751.7" cy="975" r="6" fill="url(#bR)"/>
<circle cx="813.1" cy="975" r="6" fill="url(#bR)"/>
<circle cx="873.5" cy="968.6" r="6" fill="url(#bR)"/>
<circle cx="934.9" cy="966.4" r="6" fill="url(#bR)"/>
<circle cx="996.5" cy="961.7" r="6" fill="url(#bR)"/>
<circle cx="690.3" cy="1032.2" r="6" fill="url(#bB)"/>
<circle cx="695.7" cy="988.7" r="6" fill="url(#bB)"/>
<circle cx="721.1" cy="953.1" r="6" fill="url(#bB)"/>
<circle cx="751.2" cy="946.4" r="6" fill="url(#bB)"/>
<circle cx="812.6" cy="934" r="6" fill="url(#bB)"/>
<circle cx="873.5" cy="930.8" r="6" fill="url(#bB)"/>
<circle cx="934.9" cy="930.8" r="6" fill="url(#bB)"/>
<circle cx="996.5" cy="930.8" r="6" fill="url(#bB)"/>
<ellipse cx="712.8" cy="950.5" rx="17.6" ry="29.4" fill="none" stroke="#222" stroke-width="1.4"/>
<ellipse cx="816" cy="974.3" rx="17.6" ry="29.4" fill="none" stroke="#222" stroke-width="1.4"/>
<line x1="727.9" y1="977.9" x2="818" y2="1040.5" stroke="#222" stroke-width="1.5"/>
<polygon points="823.5,1044.5 810.6,1043.6 818.4,1032.6" fill="#222"/>
<line x1="835.5" y1="986.6" x2="855" y2="996.8" stroke="#222" stroke-width="1.5"/>
<polygon points="861,999.8 848.5,1001.6 854.6,989.8" fill="#222"/>
<text x="866.12" y="1016" font-size="21.85" textLength="157.82" lengthAdjust="spacingAndGlyphs" font-family='"Liberation Sans", Arial, sans-serif' fill="#3a3a3a">w/o passivation</text>
<text x="829.04" y="1069.2" font-size="21.74" textLength="60.22" lengthAdjust="spacingAndGlyphs" font-family='"Liberation Sans", Arial, sans-serif' fill="#3a3a3a">UV–O</text>
<text x="888.54" y="1076.6" font-size="16" textLength="10.43" lengthAdjust="spacingAndGlyphs" font-family='"Liberation Sans", Arial, sans-serif' fill="#3a3a3a">3</text>
<text x="902.86" y="1069.2" font-size="23.08" textLength="112.06" lengthAdjust="spacingAndGlyphs" font-family='"Liberation Sans", Arial, sans-serif' fill="#3a3a3a">passivation</text>
<circle cx="876.4" cy="1167.3" r="6" fill="url(#bR)"/>
<text x="891.98" y="1176.3" font-size="23.91" textLength="87.87" lengthAdjust="spacingAndGlyphs" font-family='"Liberation Sans", Arial, sans-serif' fill="#3a3a3a">MR = 1.0</text>
<circle cx="876.4" cy="1200.2" r="6" fill="url(#bGr)"/>
<text x="891.87" y="1208.5" font-size="22.75" textLength="93.34" lengthAdjust="spacingAndGlyphs" font-family='"Liberation Sans", Arial, sans-serif' fill="#3a3a3a">MR = 0.8</text>
<circle cx="876.4" cy="1232.5" r="6" fill="url(#bB)"/>
<text x="891.87" y="1240.7" font-size="22.75" textLength="93.34" lengthAdjust="spacingAndGlyphs" font-family='"Liberation Sans", Arial, sans-serif' fill="#3a3a3a">MR = 0.8</text>
</g>
<g id="pI">
<text x="1169.6" y="895.9" font-size="46.96" textLength="12.41" lengthAdjust="spacingAndGlyphs" font-family='"Liberation Sans", Arial, sans-serif' font-weight="bold" fill="#000">I</text>
<rect x="1273.7" y="910.2" width="415.2" height="415.2" fill="none" stroke="#7a7a7a" stroke-width="1.4"/>
<line x1="1264.8" y1="1325.4" x2="1273.7" y2="1325.4" stroke="#7a7a7a" stroke-width="1.4"/>
<line x1="1269" y1="1266" x2="1273.7" y2="1266" stroke="#7a7a7a" stroke-width="1.4"/>
<line x1="1264.8" y1="1206.6" x2="1273.7" y2="1206.6" stroke="#7a7a7a" stroke-width="1.4"/>
<line x1="1269" y1="1147.2" x2="1273.7" y2="1147.2" stroke="#7a7a7a" stroke-width="1.4"/>
<line x1="1264.8" y1="1087.8" x2="1273.7" y2="1087.8" stroke="#7a7a7a" stroke-width="1.4"/>
<line x1="1269" y1="1028.4" x2="1273.7" y2="1028.4" stroke="#7a7a7a" stroke-width="1.4"/>
<line x1="1264.8" y1="969" x2="1273.7" y2="969" stroke="#7a7a7a" stroke-width="1.4"/>
<line x1="1273.7" y1="1325.4" x2="1273.7" y2="1333.8" stroke="#7a7a7a" stroke-width="1.4"/>
<line x1="1315.22" y1="1325.4" x2="1315.22" y2="1330" stroke="#7a7a7a" stroke-width="1.4"/>
<line x1="1356.74" y1="1325.4" x2="1356.74" y2="1333.8" stroke="#7a7a7a" stroke-width="1.4"/>
<line x1="1398.26" y1="1325.4" x2="1398.26" y2="1330" stroke="#7a7a7a" stroke-width="1.4"/>
<line x1="1439.78" y1="1325.4" x2="1439.78" y2="1333.8" stroke="#7a7a7a" stroke-width="1.4"/>
<line x1="1481.3" y1="1325.4" x2="1481.3" y2="1330" stroke="#7a7a7a" stroke-width="1.4"/>
<line x1="1522.82" y1="1325.4" x2="1522.82" y2="1333.8" stroke="#7a7a7a" stroke-width="1.4"/>
<line x1="1564.34" y1="1325.4" x2="1564.34" y2="1330" stroke="#7a7a7a" stroke-width="1.4"/>
<line x1="1605.86" y1="1325.4" x2="1605.86" y2="1333.8" stroke="#7a7a7a" stroke-width="1.4"/>
<line x1="1647.38" y1="1325.4" x2="1647.38" y2="1330" stroke="#7a7a7a" stroke-width="1.4"/>
<line x1="1688.9" y1="1325.4" x2="1688.9" y2="1333.8" stroke="#7a7a7a" stroke-width="1.4"/>
<text x="1223.82" y="1333.8" font-size="22.86" textLength="30.96" lengthAdjust="spacingAndGlyphs" font-family='"Liberation Sans", Arial, sans-serif' fill="#4a4a4a">0.0</text>
<text x="1228.43" y="1215" font-size="22.86" textLength="26.42" lengthAdjust="spacingAndGlyphs" font-family='"Liberation Sans", Arial, sans-serif' fill="#4a4a4a">0.1</text>
<text x="1224.12" y="1096.2" font-size="22.86" textLength="30.88" lengthAdjust="spacingAndGlyphs" font-family='"Liberation Sans", Arial, sans-serif' fill="#4a4a4a">0.2</text>
<text x="1224.13" y="977.4" font-size="22.86" textLength="30.76" lengthAdjust="spacingAndGlyphs" font-family='"Liberation Sans", Arial, sans-serif' fill="#4a4a4a">0.3</text>
<text x="1267.44" y="1362" font-size="22.57" font-family='"Liberation Sans", Arial, sans-serif' fill="#4a4a4a">0</text>
<text x="1350.14" y="1362" font-size="22.57" font-family='"Liberation Sans", Arial, sans-serif' fill="#4a4a4a">1</text>
<text x="1433.46" y="1362" font-size="22.57" font-family='"Liberation Sans", Arial, sans-serif' fill="#4a4a4a">2</text>
<text x="1516.61" y="1362" font-size="22.57" font-family='"Liberation Sans", Arial, sans-serif' fill="#4a4a4a">3</text>
<text x="1599.65" y="1362" font-size="22.57" font-family='"Liberation Sans", Arial, sans-serif' fill="#4a4a4a">4</text>
<text x="1682.64" y="1362" font-size="22.57" font-family='"Liberation Sans", Arial, sans-serif' fill="#4a4a4a">5</text>
<text x="1390.3" y="1395.4" font-size="22.03" textLength="160.8" lengthAdjust="spacingAndGlyphs" font-family='"Liberation Sans", Arial, sans-serif' fill="#4a4a4a">Dose rate (μGy s</text>
<text x="1551.28" y="1386" font-size="14" textLength="13.25" lengthAdjust="spacingAndGlyphs" font-family='"Liberation Sans", Arial, sans-serif' fill="#4a4a4a">−1</text>
<text x="1565.11" y="1395.4" font-size="21.5" textLength="5.67" lengthAdjust="spacingAndGlyphs" font-family='"Liberation Sans", Arial, sans-serif' fill="#4a4a4a">)</text>
<text x="-1242.29" y="1205.6" font-size="23.14" textLength="221.11" lengthAdjust="spacingAndGlyphs" font-family='"Liberation Sans", Arial, sans-serif' fill="#4a4a4a" transform="rotate(-90)">Current density (nA cm</text>
<text x="-1021.08" y="1196" font-size="14" textLength="14.66" lengthAdjust="spacingAndGlyphs" font-family='"Liberation Sans", Arial, sans-serif' fill="#4a4a4a" transform="rotate(-90)">−2</text>
<text x="-1005.61" y="1205.6" font-size="21.5" textLength="7.03" lengthAdjust="spacingAndGlyphs" font-family='"Liberation Sans", Arial, sans-serif' fill="#4a4a4a" transform="rotate(-90)">)</text>
<line x1="1298.2" y1="1325.4" x2="1650.8" y2="910.2" stroke="#262626" stroke-width="1.5"/>
<line x1="1314" y1="1298.8" x2="1314" y2="1313.8" stroke="#1e1e1e" stroke-width="1.3"/>
<line x1="1311.4" y1="1298.8" x2="1316.6" y2="1298.8" stroke="#1e1e1e" stroke-width="1.3"/>
<line x1="1311.4" y1="1313.8" x2="1316.6" y2="1313.8" stroke="#1e1e1e" stroke-width="1.3"/>
<rect x="1310.6" y="1302.9" width="6.8" height="6.8" fill="#161616"/>
<line x1="1345.8" y1="1249.5" x2="1345.8" y2="1283.1" stroke="#1e1e1e" stroke-width="1.3"/>
<line x1="1343.2" y1="1249.5" x2="1348.4" y2="1249.5" stroke="#1e1e1e" stroke-width="1.3"/>
<line x1="1343.2" y1="1283.1" x2="1348.4" y2="1283.1" stroke="#1e1e1e" stroke-width="1.3"/>
<rect x="1342.4" y="1263.2" width="6.8" height="6.8" fill="#161616"/>
<line x1="1396.7" y1="1204.7" x2="1396.7" y2="1220.1" stroke="#1e1e1e" stroke-width="1.3"/>
<line x1="1394.1" y1="1204.7" x2="1399.3" y2="1204.7" stroke="#1e1e1e" stroke-width="1.3"/>
<line x1="1394.1" y1="1220.1" x2="1399.3" y2="1220.1" stroke="#1e1e1e" stroke-width="1.3"/>
<rect x="1393.3" y="1208.6" width="6.8" height="6.8" fill="#161616"/>
<line x1="1447.5" y1="1126.9" x2="1447.5" y2="1154.4" stroke="#1e1e1e" stroke-width="1.3"/>
<line x1="1444.9" y1="1126.9" x2="1450.1" y2="1126.9" stroke="#1e1e1e" stroke-width="1.3"/>
<line x1="1444.9" y1="1154.4" x2="1450.1" y2="1154.4" stroke="#1e1e1e" stroke-width="1.3"/>
<rect x="1444.1" y="1137.7" width="6.8" height="6.8" fill="#161616"/>
<line x1="1511.7" y1="1069.6" x2="1511.7" y2="1081.1" stroke="#1e1e1e" stroke-width="1.3"/>
<line x1="1509.1" y1="1069.6" x2="1514.3" y2="1069.6" stroke="#1e1e1e" stroke-width="1.3"/>
<line x1="1509.1" y1="1081.1" x2="1514.3" y2="1081.1" stroke="#1e1e1e" stroke-width="1.3"/>
<rect x="1508.3" y="1072" width="6.8" height="6.8" fill="#161616"/>
<line x1="1566" y1="976" x2="1566" y2="1013" stroke="#1e1e1e" stroke-width="1.3"/>
<line x1="1563.4" y1="976" x2="1568.6" y2="976" stroke="#1e1e1e" stroke-width="1.3"/>
<line x1="1563.4" y1="1013" x2="1568.6" y2="1013" stroke="#1e1e1e" stroke-width="1.3"/>
<rect x="1562.6" y="990.6" width="6.8" height="6.8" fill="#161616"/>
<line x1="1608.5" y1="949" x2="1608.5" y2="977.5" stroke="#1e1e1e" stroke-width="1.3"/>
<line x1="1605.9" y1="949" x2="1611.1" y2="949" stroke="#1e1e1e" stroke-width="1.3"/>
<line x1="1605.9" y1="977.5" x2="1611.1" y2="977.5" stroke="#1e1e1e" stroke-width="1.3"/>
<rect x="1605.1" y="959.8" width="6.8" height="6.8" fill="#161616"/>
<rect x="1642.6" y="924.9" width="6.8" height="6.8" fill="#161616"/>
</g>
<g id="pJ">
<text x="21.33" y="1414.4" font-size="48.99" textLength="24.82" lengthAdjust="spacingAndGlyphs" font-family='"Liberation Sans", Arial, sans-serif' font-weight="bold" fill="#000">J</text>
<defs><linearGradient id="jBg" x1="0" y1="0" x2="1" y2="0.3"><stop offset="0" stop-color="#e0462a"/><stop offset="0.5" stop-color="#e54c2a"/><stop offset="1" stop-color="#e04428"/></linearGradient><linearGradient id="jBar" x1="0" y1="0" x2="1" y2="0"><stop offset="0" stop-color="#000" stop-opacity="0.18"/><stop offset="0.45" stop-color="#fff" stop-opacity="0.25"/><stop offset="1" stop-color="#000" stop-opacity="0.18"/></linearGradient></defs>
<rect x="63.9" y="1416.5" width="418.3" height="139" fill="url(#jBg)"/>
<rect x="84" y="1432" width="108" height="68.6" fill="#f7e04a"/>
<path d="M95,1436.6 H181 V1443.65 H95 V1450.7 H181 V1457.75 H95 V1464.8 H181 V1471.85 H95 V1478.9 H181 V1485.95 H95 V1493 H181 V1500.05" fill="none" stroke="#d8782a" stroke-width="2.4"/>
<rect x="84" y="1500.6" width="38" height="40.2" fill="#f7e04a"/>
<rect x="153.5" y="1500.6" width="38.5" height="40.2" fill="#f7e04a"/>
<rect x="224" y="1432" width="107.5" height="68.6" fill="#f7e04a"/>
<path d="M235,1436.6 H320.5 V1443.65 H235 V1450.7 H320.5 V1457.75 H235 V1464.8 H320.5 V1471.85 H235 V1478.9 H320.5 V1485.95 H235 V1493 H320.5 V1500.05" fill="none" stroke="#d8782a" stroke-width="2.4"/>
<rect x="224" y="1500.6" width="38" height="40.2" fill="#f7e04a"/>
<rect x="293" y="1500.6" width="38.5" height="40.2" fill="#f7e04a"/>
<rect x="363.8" y="1432" width="108.7" height="68.6" fill="#f7e04a"/>
<path d="M374.8,1436.6 H461.5 V1443.65 H374.8 V1450.7 H461.5 V1457.75 H374.8 V1464.8 H461.5 V1471.85 H374.8 V1478.9 H461.5 V1485.95 H374.8 V1493 H461.5 V1500.05" fill="none" stroke="#d8782a" stroke-width="2.4"/>
<rect x="363.8" y="1500.6" width="38" height="40.2" fill="#f7e04a"/>
<rect x="434" y="1500.6" width="38.5" height="40.2" fill="#f7e04a"/>
<rect x="262" y="1502" width="31.5" height="40" fill="#d8382a" opacity="0.7"/>
<polygon points="63.9,1447.5 137.6,1477.3 189.4,1499.3 215.3,1513.5 238,1522.5 244,1527 236,1526 215.3,1520 189.4,1509.6 137.6,1492.8 63.9,1482.5" fill="#141414"/>
<polygon points="482.2,1486.4 399.4,1503.2 347.6,1517.4 315,1524 308.8,1525.6 316,1526.4 347.6,1523.9 399.4,1513.5 482.2,1508.4" fill="#141414"/>
<text x="170.79" y="1545.2" font-size="19.57" textLength="52.75" lengthAdjust="spacingAndGlyphs" font-family='"Liberation Sans", Arial, sans-serif' font-weight="bold" fill="#2a1a14">Probe</text>
<text x="388.52" y="1542.6" font-size="18.04" textLength="67.68" lengthAdjust="spacingAndGlyphs" font-family='"Liberation Sans", Arial, sans-serif' font-weight="bold" fill="#2a1a14">1.6 mm</text>
<line x1="372.2" y1="1549.8" x2="474.5" y2="1549.8" stroke="#3a1010" stroke-width="2.6"/>
<polygon points="59.5,1694.4 136,1656 480.1,1655.5 402.7,1694.2" fill="#ec5050"/>
<rect x="70.5" y="1681" width="108.1" height="13.3" fill="#a55cb0"/>
<rect x="70.5" y="1667" width="108.1" height="14" fill="#f3bf3c"/>
<polygon points="70.5,1667 145.5,1629.5 253.6,1629.5 178.6,1667" fill="#f6d44c"/>
<polygon points="178.6,1667 253.6,1629.5 253.6,1643.5 178.6,1681" fill="#e3ad2c"/>
<polygon points="178.6,1681 253.6,1643.5 253.6,1656.8 178.6,1694.3" fill="#8e48a4"/>
<rect x="284.1" y="1681" width="107.9" height="13.3" fill="#a55cb0"/>
<rect x="284.1" y="1667" width="107.9" height="14" fill="#f3bf3c"/>
<polygon points="284.1,1667 361.5,1629.5 469.4,1629.5 392,1667" fill="#f6d44c"/>
<polygon points="392,1667 469.4,1629.5 469.4,1643.5 392,1681" fill="#e3ad2c"/>
<polygon points="392,1681 469.4,1643.5 469.4,1656.8 392,1694.3" fill="#8e48a4"/>
<rect x="59.5" y="1694.3" width="343.2" height="33" fill="#e8262e"/>
<polygon points="402.7,1694.3 480.1,1655.5 480.1,1686.8 402.7,1727.3" fill="#c8222a"/>
<rect x="220.2" y="1565" width="10.4" height="88" fill="#7a4aa4"/>
<rect x="220.2" y="1565" width="10.4" height="88" fill="url(#jBar)"/>
<polygon points="218.7,1652 232.1,1652 225.4,1661" fill="#7a4aa4"/>
<rect x="233.9" y="1565" width="9.9" height="88" fill="#6b3d94"/>
<rect x="233.9" y="1565" width="9.9" height="88" fill="url(#jBar)"/>
<polygon points="232.4,1652 245.3,1652 238.85,1661" fill="#6b3d94"/>
<rect x="247" y="1565" width="10.8" height="88" fill="#3daa4c"/>
<rect x="247" y="1565" width="10.8" height="88" fill="url(#jBar)"/>
<polygon points="245.5,1652 259.3,1652 252.4,1661" fill="#3daa4c"/>
<rect x="260.2" y="1565" width="10.4" height="88" fill="#4cbbe0"/>
<rect x="260.2" y="1565" width="10.4" height="88" fill="url(#jBar)"/>
<polygon points="258.7,1652 272.1,1652 265.4,1661" fill="#4cbbe0"/>
<rect x="273.4" y="1565" width="10.7" height="88" fill="#72b843"/>
<rect x="273.4" y="1565" width="10.7" height="88" fill="url(#jBar)"/>
<polygon points="271.9,1652 285.6,1652 278.75,1661" fill="#72b843"/>
<rect x="287.4" y="1565" width="9.9" height="88" fill="#e9b53a"/>
<rect x="287.4" y="1565" width="9.9" height="88" fill="url(#jBar)"/>
<polygon points="285.9,1652 298.8,1652 292.35,1661" fill="#e9b53a"/>
<path d="M97.7,1602.5 V1572.9 H163.1 V1597.6" fill="none" stroke="#6f93b6" stroke-width="1.3"/>
<line x1="163.1" y1="1618.3" x2="163.1" y2="1644.8" stroke="#6f93b6" stroke-width="1.3"/>
<circle cx="163.1" cy="1644.8" r="1.6" fill="#6f93b6"/>
<circle cx="163.1" cy="1607.9" r="10.2" fill="#fff" stroke="#c99a72" stroke-width="1.3"/>
<text x="157.2" y="1614.6" font-size="18.84" font-family='"Liberation Sans", Arial, sans-serif' fill="#c98a5e">A</text>
<line x1="84.1" y1="1602.7" x2="113.9" y2="1602.7" stroke="#1a1a1a" stroke-width="3"/>
<line x1="88.6" y1="1610.2" x2="108.1" y2="1610.2" stroke="#1a1a1a" stroke-width="3"/>
<line x1="91.2" y1="1616.9" x2="105.5" y2="1616.9" stroke="#1a1a1a" stroke-width="3"/>
<path d="M378,1602 V1573.2 H445.5 V1602" fill="none" stroke="#6f93b6" stroke-width="1.3"/>
<line x1="378" y1="1609" x2="378" y2="1644" stroke="#6f93b6" stroke-width="1.3"/>
<circle cx="378" cy="1644" r="1.6" fill="#6f93b6"/>
<line x1="370.6" y1="1602" x2="388.7" y2="1602" stroke="#1a1a1a" stroke-width="3"/>
<line x1="363.2" y1="1609.1" x2="394.5" y2="1609.1" stroke="#1a1a1a" stroke-width="3"/>
<line x1="431.5" y1="1602.5" x2="461.2" y2="1602.5" stroke="#1a1a1a" stroke-width="3"/>
<line x1="436.5" y1="1610" x2="455.4" y2="1610" stroke="#1a1a1a" stroke-width="3"/>
<line x1="439" y1="1617.2" x2="452.1" y2="1617.2" stroke="#1a1a1a" stroke-width="3"/>
<text x="119.39" y="1678.4" font-size="12.17" textLength="16.66" lengthAdjust="spacingAndGlyphs" font-family='"Liberation Sans", Arial, sans-serif' font-weight="bold" fill="#e06a14">Au</text>
<text x="120.53" y="1692.6" font-size="12" textLength="12.96" lengthAdjust="spacingAndGlyphs" font-family='"Liberation Sans", Arial, sans-serif' font-weight="bold" fill="#eadcf4">Cr</text>
<text x="332.37" y="1678.6" font-size="12.58" textLength="17.74" lengthAdjust="spacingAndGlyphs" font-family='"Liberation Sans", Arial, sans-serif' font-weight="bold" fill="#e06a14">Au</text>
<text x="333" y="1692.6" font-size="12.11" textLength="13.9" lengthAdjust="spacingAndGlyphs" font-family='"Liberation Sans", Arial, sans-serif' font-weight="bold" fill="#eadcf4">Cr</text>
<text x="100.36" y="1714.7" font-size="14.67" textLength="44.89" lengthAdjust="spacingAndGlyphs" font-family='"Liberation Sans", Arial, sans-serif' font-weight="bold" fill="#fbe9e9">60 μm</text>
<line x1="73.2" y1="1709.9" x2="96.4" y2="1709.9" stroke="#fbe9e9" stroke-width="1.2"/>
<polygon points="69.2,1709.9 75.2,1706.8 75.2,1713" fill="#fbe9e9"/>
<line x1="145.6" y1="1709.9" x2="168.1" y2="1709.9" stroke="#fbe9e9" stroke-width="1.2"/>
<polygon points="172.1,1709.9 166.1,1706.8 166.1,1713" fill="#fbe9e9"/>
<text x="209.46" y="1714.7" font-size="14.77" textLength="45.5" lengthAdjust="spacingAndGlyphs" font-family='"Liberation Sans", Arial, sans-serif' font-weight="bold" fill="#fbe9e9">40 μm</text>
<line x1="184" y1="1709.9" x2="206" y2="1709.9" stroke="#fbe9e9" stroke-width="1.2"/>
<polygon points="180,1709.9 186,1706.8 186,1713" fill="#fbe9e9"/>
<line x1="256" y1="1709.9" x2="279" y2="1709.9" stroke="#fbe9e9" stroke-width="1.2"/>
<polygon points="283,1709.9 277,1706.8 277,1713" fill="#fbe9e9"/>
<text x="316.55" y="1714.7" font-size="14.7" textLength="45.1" lengthAdjust="spacingAndGlyphs" font-family='"Liberation Sans", Arial, sans-serif' font-weight="bold" fill="#fbe9e9">60 μm</text>
<line x1="291.5" y1="1709.9" x2="314" y2="1709.9" stroke="#fbe9e9" stroke-width="1.2"/>
<polygon points="287.5,1709.9 293.5,1706.8 293.5,1713" fill="#fbe9e9"/>
<line x1="363" y1="1709.9" x2="386.5" y2="1709.9" stroke="#fbe9e9" stroke-width="1.2"/>
<polygon points="390.5,1709.9 384.5,1706.8 384.5,1713" fill="#fbe9e9"/>
<line x1="67.3" y1="1700" x2="67.3" y2="1722" stroke="#f29a8a" stroke-width="0.8"/>
<line x1="176" y1="1700" x2="176" y2="1722" stroke="#f29a8a" stroke-width="0.8"/>
<line x1="284" y1="1700" x2="284" y2="1722" stroke="#f29a8a" stroke-width="0.8"/>
<line x1="392" y1="1700" x2="392" y2="1722" stroke="#f29a8a" stroke-width="0.8"/>
<g transform="translate(416,1707) rotate(-25)"><text x="0" y="0" font-size="12.5" font-weight="bold" font-family='"Liberation Sans", Arial, sans-serif' fill="#5a0c10">MAPbBr<tspan font-size="8" dy="3">3</tspan></text></g>
</g>
<g id="pK">
<text x="548.96" y="1411.7" font-size="50.14" textLength="33.78" lengthAdjust="spacingAndGlyphs" font-family='"Liberation Sans", Arial, sans-serif' font-weight="bold" fill="#000">K</text>
<rect x="655.8" y="1425.6" width="393.2" height="291.7" fill="none" stroke="#2e2e2e" stroke-width="2"/>
<line x1="664.16" y1="1717.3" x2="664.16" y2="1721" stroke="#2e2e2e" stroke-width="1.6"/>
<line x1="672.1" y1="1717.3" x2="672.1" y2="1723.8" stroke="#2e2e2e" stroke-width="1.8"/>
<line x1="724.33" y1="1717.3" x2="724.33" y2="1721" stroke="#2e2e2e" stroke-width="1.6"/>
<line x1="754.88" y1="1717.3" x2="754.88" y2="1721" stroke="#2e2e2e" stroke-width="1.6"/>
<line x1="776.56" y1="1717.3" x2="776.56" y2="1721" stroke="#2e2e2e" stroke-width="1.6"/>
<line x1="793.37" y1="1717.3" x2="793.37" y2="1721" stroke="#2e2e2e" stroke-width="1.6"/>
<line x1="807.11" y1="1717.3" x2="807.11" y2="1721" stroke="#2e2e2e" stroke-width="1.6"/>
<line x1="818.72" y1="1717.3" x2="818.72" y2="1721" stroke="#2e2e2e" stroke-width="1.6"/>
<line x1="828.79" y1="1717.3" x2="828.79" y2="1721" stroke="#2e2e2e" stroke-width="1.6"/>
<line x1="837.66" y1="1717.3" x2="837.66" y2="1721" stroke="#2e2e2e" stroke-width="1.6"/>
<line x1="845.6" y1="1717.3" x2="845.6" y2="1723.8" stroke="#2e2e2e" stroke-width="1.8"/>
<line x1="897.83" y1="1717.3" x2="897.83" y2="1721" stroke="#2e2e2e" stroke-width="1.6"/>
<line x1="928.38" y1="1717.3" x2="928.38" y2="1721" stroke="#2e2e2e" stroke-width="1.6"/>
<line x1="950.06" y1="1717.3" x2="950.06" y2="1721" stroke="#2e2e2e" stroke-width="1.6"/>
<line x1="966.87" y1="1717.3" x2="966.87" y2="1721" stroke="#2e2e2e" stroke-width="1.6"/>
<line x1="980.61" y1="1717.3" x2="980.61" y2="1721" stroke="#2e2e2e" stroke-width="1.6"/>
<line x1="992.22" y1="1717.3" x2="992.22" y2="1721" stroke="#2e2e2e" stroke-width="1.6"/>
<line x1="1002.29" y1="1717.3" x2="1002.29" y2="1721" stroke="#2e2e2e" stroke-width="1.6"/>
<line x1="1011.16" y1="1717.3" x2="1011.16" y2="1721" stroke="#2e2e2e" stroke-width="1.6"/>
<line x1="1019.1" y1="1717.3" x2="1019.1" y2="1723.8" stroke="#2e2e2e" stroke-width="1.8"/>
<line x1="652" y1="1699.41" x2="655.8" y2="1699.41" stroke="#2e2e2e" stroke-width="1.6"/>
<line x1="652" y1="1683.75" x2="655.8" y2="1683.75" stroke="#2e2e2e" stroke-width="1.6"/>
<line x1="652" y1="1670.18" x2="655.8" y2="1670.18" stroke="#2e2e2e" stroke-width="1.6"/>
<line x1="652" y1="1658.21" x2="655.8" y2="1658.21" stroke="#2e2e2e" stroke-width="1.6"/>
<line x1="648.5" y1="1647.5" x2="655.8" y2="1647.5" stroke="#2e2e2e" stroke-width="1.8"/>
<line x1="652" y1="1577.06" x2="655.8" y2="1577.06" stroke="#2e2e2e" stroke-width="1.6"/>
<line x1="652" y1="1535.85" x2="655.8" y2="1535.85" stroke="#2e2e2e" stroke-width="1.6"/>
<line x1="652" y1="1506.62" x2="655.8" y2="1506.62" stroke="#2e2e2e" stroke-width="1.6"/>
<line x1="652" y1="1483.94" x2="655.8" y2="1483.94" stroke="#2e2e2e" stroke-width="1.6"/>
<line x1="652" y1="1465.41" x2="655.8" y2="1465.41" stroke="#2e2e2e" stroke-width="1.6"/>
<line x1="652" y1="1449.75" x2="655.8" y2="1449.75" stroke="#2e2e2e" stroke-width="1.6"/>
<line x1="652" y1="1436.18" x2="655.8" y2="1436.18" stroke="#2e2e2e" stroke-width="1.6"/>
<text x="650.34" y="1745.4" font-size="25.22" textLength="42.33" lengthAdjust="spacingAndGlyphs" font-family='"Liberation Sans", Arial, sans-serif' font-weight="bold" fill="#262626">0.01</text>
<text x="828.65" y="1745.4" font-size="25.22" font-family='"Liberation Sans", Arial, sans-serif' font-weight="bold" fill="#262626">0.1</text>
<text x="1011.76" y="1745.4" font-size="25.22" font-family='"Liberation Sans", Arial, sans-serif' font-weight="bold" fill="#262626">1</text>
<text x="584.12" y="1456.8" font-size="24.2" textLength="49.91" lengthAdjust="spacingAndGlyphs" font-family='"Liberation Sans", Arial, sans-serif' font-weight="bold" fill="#262626">6×10</text>
<text x="633.81" y="1443.9" font-size="13.33" textLength="14.69" lengthAdjust="spacingAndGlyphs" font-family='"Liberation Sans", Arial, sans-serif' font-weight="bold" fill="#262626">13</text>
<text x="606.23" y="1656.1" font-size="24.06" textLength="25.32" lengthAdjust="spacingAndGlyphs" font-family='"Liberation Sans", Arial, sans-serif' font-weight="bold" fill="#262626">10</text>
<text x="631.1" y="1643.7" font-size="14.35" textLength="14.9" lengthAdjust="spacingAndGlyphs" font-family='"Liberation Sans", Arial, sans-serif' font-weight="bold" fill="#262626">13</text>
<text x="775.82" y="1779.5" font-size="26.81" textLength="124.76" lengthAdjust="spacingAndGlyphs" font-family='"Liberation Sans", Arial, sans-serif' font-weight="bold" fill="#262626">P (mW cm</text>
<text x="901.25" y="1765" font-size="21.43" textLength="18.98" lengthAdjust="spacingAndGlyphs" font-family='"Liberation Sans", Arial, sans-serif' font-weight="bold" fill="#262626">-2</text>
<text x="920.5" y="1779.5" font-size="26.5" textLength="8.18" lengthAdjust="spacingAndGlyphs" font-family='"Liberation Sans", Arial, sans-serif' font-weight="bold" fill="#262626">)</text>
<text x="-1698.29" y="602.2" font-size="27.1" textLength="223.85" lengthAdjust="spacingAndGlyphs" font-family='"Liberation Sans", Arial, sans-serif' font-weight="bold" fill="#262626" transform="rotate(-90)">Detectivity (jones)</text>
<line x1="668.7" y1="1443.5" x2="1041.9" y2="1694.5" stroke="#e0505a" stroke-width="1.8"/>
<circle cx="686.1" cy="1456.2" r="5.8" fill="url(#bK)"/>
<circle cx="738.5" cy="1499.1" r="5.8" fill="url(#bK)"/>
<circle cx="768.7" cy="1509.6" r="5.8" fill="url(#bK)"/>
<circle cx="790.3" cy="1529.3" r="5.8" fill="url(#bK)"/>
<circle cx="807.8" cy="1545.8" r="5.8" fill="url(#bK)"/>
<circle cx="820.2" cy="1553.8" r="5.8" fill="url(#bK)"/>
<circle cx="832.2" cy="1562.7" r="5.8" fill="url(#bK)"/>
<circle cx="842.4" cy="1564.3" r="5.8" fill="url(#bK)"/>
<circle cx="851.9" cy="1569.6" r="5.8" fill="url(#bK)"/>
<circle cx="859.3" cy="1575.4" r="5.8" fill="url(#bK)"/>
<circle cx="865.6" cy="1577.6" r="5.8" fill="url(#bK)"/>
<circle cx="872" cy="1583.3" r="5.8" fill="url(#bK)"/>
<circle cx="878.3" cy="1586.5" r="5.8" fill="url(#bK)"/>
<circle cx="884.7" cy="1589.7" r="5.8" fill="url(#bK)"/>
<circle cx="889.4" cy="1592.8" r="5.8" fill="url(#bK)"/>
<circle cx="911" cy="1608.1" r="5.8" fill="url(#bK)"/>
<circle cx="941.8" cy="1637.9" r="5.8" fill="url(#bK)"/>
<circle cx="962.5" cy="1640.5" r="5.8" fill="url(#bK)"/>
<circle cx="980" cy="1656.4" r="5.8" fill="url(#bK)"/>
<circle cx="993.6" cy="1662.7" r="5.8" fill="url(#bK)"/>
<circle cx="1005.4" cy="1672.9" r="5.8" fill="url(#bK)"/>
<circle cx="1014.9" cy="1677" r="5.8" fill="url(#bK)"/>
<circle cx="1022.8" cy="1681.8" r="5.8" fill="url(#bK)"/>
<circle cx="1027.6" cy="1685" r="5.8" fill="url(#bK)"/>
<circle cx="1032.4" cy="1687.5" r="5.8" fill="url(#bK)"/>
<circle cx="911.7" cy="1453" r="5.3" fill="url(#bK)"/>
<text x="932.07" y="1459.4" font-size="21.59" textLength="95.58" lengthAdjust="spacingAndGlyphs" font-family='"Liberation Sans", Arial, sans-serif' font-weight="bold" fill="#262626">Detectivity</text>
</g>
<g id="pL">
<text x="1170.04" y="1411.4" font-size="49.13" textLength="26.9" lengthAdjust="spacingAndGlyphs" font-family='"Liberation Sans", Arial, sans-serif' font-weight="bold" fill="#000">L</text>
<path d="M1302.7,1688 L1303.55,1659 L1304.4,1642 L1305.25,1617.37 L1306.1,1606.6 L1306.95,1591.21 L1307.8,1574.8 L1308.65,1568.38 L1309.5,1556 L1310.35,1544.67 L1311.2,1536.66 L1312.05,1528.86 L1312.9,1522.71 L1313.75,1516.66 L1314.6,1510.21 L1315.45,1503.74 L1316.3,1499.76 L1317.15,1496.31 L1318,1492.86 L1318.85,1489.41 L1319.7,1485.96 L1320.55,1482.51 L1321.4,1479.06 L1322.25,1475.61 L1323.1,1473.64 L1323.95,1471.99 L1324.8,1470.34 L1325.65,1468.69 L1326.5,1467.39 L1327.35,1466.24 L1328.2,1465.09 L1329.05,1463.94 L1329.9,1462.79 L1330.75,1461.64 L1331.6,1460.86 L1332.45,1460.24 L1333.3,1459.62 L1334.15,1459 L1335,1458.38 L1335.85,1457.76 L1336.7,1457.93 L1337.55,1458.67 L1338.4,1459.4 L1339.25,1460.14 L1340.1,1460.88 L1340.95,1461.61 L1341.8,1461.88 L1342.65,1461.63 L1343.5,1461.38 L1344.35,1461.13 L1345.2,1460.88 L1346.05,1460.63 L1346.9,1460.38 L1347.75,1460.13 L1348.6,1460.61 L1349.45,1461.9 L1350.3,1463.18 L1351.15,1464.47 L1352,1486.25 L1352.85,1520.71 L1353.7,1543.44 L1354.55,1569.53 L1355.4,1589.91 L1356.25,1611.25 L1357.1,1621.8 L1357.95,1628.32 L1358.8,1634.91 L1359.65,1641.76 L1360.5,1648.01 L1361.35,1652.31 L1362.2,1656.61 L1363.05,1660.91 L1363.9,1664.8 L1364.75,1667.33 L1365.6,1669.86 L1366.45,1672.4 L1367.3,1674.93 L1368.15,1677.46 L1369,1679.82 L1369.85,1680.88 L1370.7,1681.94 L1371.55,1683 L1372.4,1684.06 L1373.25,1685.12 L1374.1,1686.18 L1374.95,1687.24 L1375.8,1688.3 L1376.65,1688.74 L1377.5,1689.17 L1378.35,1689.61 L1379.2,1690.05 L1380.05,1690.49 L1380.9,1690.92 L1381.75,1691.36 L1382.6,1691.8 L1383.45,1692.11 L1384.3,1692.41 L1385.15,1692.72 L1386,1693.03 L1386.85,1693.33 L1387.7,1693.64 L1388.55,1693.95 L1389.4,1694.06 L1390.25,1694.13 L1391.1,1694.2 L1391.95,1694.27 L1392.8,1694.34 L1393.65,1694.41 L1394.5,1694.48 L1395.35,1693.85 L1396.2,1693 L1397.05,1692.15 L1397.9,1691.3 L1398.75,1690.45 L1399.6,1689.27 L1400.3,1688 L1401.15,1659 L1402,1642 L1402.85,1617.37 L1403.7,1606.6 L1404.55,1591.21 L1405.4,1574.8 L1406.25,1568.38 L1407.1,1556 L1407.95,1544.67 L1408.8,1536.66 L1409.65,1528.86 L1410.5,1522.71 L1411.35,1516.66 L1412.2,1510.21 L1413.05,1503.74 L1413.9,1499.76 L1414.75,1496.31 L1415.6,1492.86 L1416.45,1489.41 L1417.3,1485.96 L1418.15,1482.51 L1419,1479.06 L1419.85,1475.61 L1420.7,1473.64 L1421.55,1471.99 L1422.4,1470.34 L1423.25,1468.69 L1424.1,1467.39 L1424.95,1466.24 L1425.8,1465.09 L1426.65,1463.94 L1427.5,1462.79 L1428.35,1461.64 L1429.2,1460.86 L1430.05,1460.24 L1430.9,1459.62 L1431.75,1459 L1432.6,1458.38 L1433.45,1457.76 L1434.3,1457.93 L1435.15,1458.67 L1436,1459.4 L1436.85,1460.14 L1437.7,1460.88 L1438.55,1461.61 L1439.4,1461.88 L1440.25,1461.63 L1441.1,1461.38 L1441.95,1461.13 L1442.8,1460.88 L1443.65,1460.63 L1444.5,1460.38 L1445.35,1460.13 L1446.2,1460.61 L1447.05,1461.9 L1447.9,1463.18 L1448.75,1464.47 L1449.6,1486.25 L1450.45,1520.71 L1451.3,1543.44 L1452.15,1569.53 L1453,1589.91 L1453.85,1611.25 L1454.7,1621.8 L1455.55,1628.32 L1456.4,1634.91 L1457.25,1641.76 L1458.1,1648.01 L1458.95,1652.31 L1459.8,1656.61 L1460.65,1660.91 L1461.5,1664.8 L1462.35,1667.33 L1463.2,1669.86 L1464.05,1672.4 L1464.9,1674.93 L1465.75,1677.46 L1466.6,1679.82 L1467.45,1680.88 L1468.3,1681.94 L1469.15,1683 L1470,1684.06 L1470.85,1685.12 L1471.7,1686.18 L1472.55,1687.24 L1473.4,1688.3 L1474.25,1688.74 L1475.1,1689.17 L1475.95,1689.61 L1476.8,1690.05 L1477.65,1690.49 L1478.5,1690.92 L1479.35,1691.36 L1480.2,1691.8 L1481.05,1692.11 L1481.9,1692.41 L1482.75,1692.72 L1483.6,1693.03 L1484.45,1693.33 L1485.3,1693.64 L1486.15,1693.95 L1487,1694.06 L1487.85,1694.13 L1488.7,1694.2 L1489.55,1694.27 L1490.4,1694.34 L1491.25,1694.41 L1492.1,1694.48 L1492.95,1693.85 L1493.8,1693 L1494.65,1692.15 L1495.5,1691.3 L1496.35,1690.45 L1497.2,1689.27 L1498.3,1688 L1499.15,1659 L1500,1642 L1500.85,1617.37 L1501.7,1606.6 L1502.55,1591.21 L1503.4,1574.8 L1504.25,1568.38 L1505.1,1556 L1505.95,1544.67 L1506.8,1536.66 L1507.65,1528.86 L1508.5,1522.71 L1509.35,1516.66 L1510.2,1510.21 L1511.05,1503.74 L1511.9,1499.76 L1512.75,1496.31 L1513.6,1492.86 L1514.45,1489.41 L1515.3,1485.96 L1516.15,1482.51 L1517,1479.06 L1517.85,1475.61 L1518.7,1473.64 L1519.55,1471.99 L1520.4,1470.34 L1521.25,1468.69 L1522.1,1467.39 L1522.95,1466.24 L1523.8,1465.09 L1524.65,1463.94 L1525.5,1462.79 L1526.35,1461.64 L1527.2,1460.86 L1528.05,1460.24 L1528.9,1459.62 L1529.75,1459 L1530.6,1458.38 L1531.45,1457.76 L1532.3,1457.93 L1533.15,1458.67 L1534,1459.4 L1534.85,1460.14 L1535.7,1460.88 L1536.55,1461.61 L1537.4,1461.88 L1538.25,1461.63 L1539.1,1461.38 L1539.95,1461.13 L1540.8,1460.88 L1541.65,1460.63 L1542.5,1460.38 L1543.35,1460.13 L1544.2,1460.61 L1545.05,1461.9 L1545.9,1463.18 L1546.75,1464.47 L1547.6,1486.25 L1548.45,1520.71 L1549.3,1543.44 L1550.15,1569.53 L1551,1589.91 L1551.85,1611.25 L1552.7,1621.8 L1553.55,1628.32 L1554.4,1634.91 L1555.25,1641.76 L1556.1,1648.01 L1556.95,1652.31 L1557.8,1656.61 L1558.65,1660.91 L1559.5,1664.8 L1560.35,1667.33 L1561.2,1669.86 L1562.05,1672.4 L1562.9,1674.93 L1563.75,1677.46 L1564.6,1679.82 L1565.45,1680.88 L1566.3,1681.94 L1567.15,1683 L1568,1684.06 L1568.85,1685.12 L1569.7,1686.18 L1570.55,1687.24 L1571.4,1688.3 L1572.25,1688.74 L1573.1,1689.17 L1573.95,1689.61 L1574.8,1690.05 L1575.65,1690.49 L1576.5,1690.92 L1577.35,1691.36 L1578.2,1691.8 L1579.05,1692.11 L1579.9,1692.41 L1580.75,1692.72 L1581.6,1693.03 L1582.45,1693.33 L1583.3,1693.64 L1584.15,1693.95 L1585,1694.06 L1585.85,1694.13 L1586.7,1694.2 L1587.55,1694.27 L1588.4,1694.34 L1589.25,1694.41 L1590.1,1694.48 L1590.95,1693.85 L1591.8,1693 L1592.65,1692.15 L1593.5,1691.3 L1594.35,1690.45 L1595.2,1689.27 L1595.2,1688 L1596.05,1659 L1596.9,1642 L1597.75,1617.37 L1598.6,1606.6 L1599.45,1591.21 L1600.3,1574.8 L1601.15,1568.38 L1602,1556 L1602.85,1544.67 L1603.7,1536.66 L1604.55,1528.86 L1605.4,1522.71 L1606.25,1516.66 L1607.1,1510.21 L1607.95,1503.74 L1608.8,1499.76 L1609.65,1496.31 L1610.5,1492.86 L1611.35,1489.41 L1612.2,1485.96 L1613.05,1482.51 L1613.9,1479.06 L1614.75,1475.61 L1615.6,1473.64 L1616.45,1471.99 L1617.3,1470.34 L1618.15,1468.69 L1619,1467.39 L1619.85,1466.24 L1620.7,1465.09 L1621.55,1463.94 L1622.4,1462.79 L1623.25,1461.64 L1624.1,1460.86 L1624.95,1460.24 L1625.8,1459.62 L1626.65,1459 L1627.5,1458.38 L1628.35,1457.76 L1629.2,1457.93 L1630.05,1458.67 L1630.9,1459.4 L1631.75,1460.14 L1632.6,1460.88 L1633.45,1461.61 L1634.3,1461.88 L1635.15,1461.63 L1636,1461.38 L1636.85,1461.13 L1637.7,1460.88 L1638.55,1460.63 L1639.4,1460.38 L1640.25,1460.13 L1641.1,1460.61 L1641.95,1461.9 L1642.8,1463.18 L1643.65,1464.47 L1644.5,1486.25 L1645.35,1520.71 L1646.2,1543.44 L1647.05,1569.53 L1647.9,1589.91 L1648.75,1611.25 L1649.6,1621.8 L1650.45,1628.32" fill="none" stroke="#e23a3a" stroke-width="1.3"/>
<circle cx="1302.7" cy="1688" r="4.4" fill="url(#bL)"/>
<circle cx="1303.55" cy="1659" r="4.4" fill="url(#bL)"/>
<circle cx="1304.4" cy="1642" r="4.4" fill="url(#bL)"/>
<circle cx="1305.25" cy="1617.37" r="4.4" fill="url(#bL)"/>
<circle cx="1306.1" cy="1606.6" r="4.4" fill="url(#bL)"/>
<circle cx="1306.95" cy="1591.21" r="4.4" fill="url(#bL)"/>
<circle cx="1307.8" cy="1574.8" r="4.4" fill="url(#bL)"/>
<circle cx="1308.65" cy="1568.38" r="4.4" fill="url(#bL)"/>
<circle cx="1309.5" cy="1556" r="4.4" fill="url(#bL)"/>
<circle cx="1310.35" cy="1544.67" r="4.4" fill="url(#bL)"/>
<circle cx="1311.2" cy="1536.66" r="4.4" fill="url(#bL)"/>
<circle cx="1312.05" cy="1528.86" r="4.4" fill="url(#bL)"/>
<circle cx="1312.9" cy="1522.71" r="4.4" fill="url(#bL)"/>
<circle cx="1313.75" cy="1516.66" r="4.4" fill="url(#bL)"/>
<circle cx="1314.6" cy="1510.21" r="4.4" fill="url(#bL)"/>
<circle cx="1315.45" cy="1503.74" r="4.4" fill="url(#bL)"/>
<circle cx="1316.3" cy="1499.76" r="4.4" fill="url(#bL)"/>
<circle cx="1317.15" cy="1496.31" r="4.4" fill="url(#bL)"/>
<circle cx="1318" cy="1492.86" r="4.4" fill="url(#bL)"/>
<circle cx="1318.85" cy="1489.41" r="4.4" fill="url(#bL)"/>
<circle cx="1319.7" cy="1485.96" r="4.4" fill="url(#bL)"/>
<circle cx="1320.55" cy="1482.51" r="4.4" fill="url(#bL)"/>
<circle cx="1321.4" cy="1479.06" r="4.4" fill="url(#bL)"/>
<circle cx="1322.25" cy="1475.61" r="4.4" fill="url(#bL)"/>
<circle cx="1323.1" cy="1473.64" r="4.4" fill="url(#bL)"/>
<circle cx="1323.95" cy="1471.99" r="4.4" fill="url(#bL)"/>
<circle cx="1324.8" cy="1470.34" r="4.4" fill="url(#bL)"/>
<circle cx="1325.65" cy="1468.69" r="4.4" fill="url(#bL)"/>
<circle cx="1326.5" cy="1467.39" r="4.4" fill="url(#bL)"/>
<circle cx="1327.35" cy="1466.24" r="4.4" fill="url(#bL)"/>
<circle cx="1328.2" cy="1465.09" r="4.4" fill="url(#bL)"/>
<circle cx="1329.05" cy="1463.94" r="4.4" fill="url(#bL)"/>
<circle cx="1329.9" cy="1462.79" r="4.4" fill="url(#bL)"/>
<circle cx="1330.75" cy="1461.64" r="4.4" fill="url(#bL)"/>
<circle cx="1331.6" cy="1460.86" r="4.4" fill="url(#bL)"/>
<circle cx="1332.45" cy="1460.24" r="4.4" fill="url(#bL)"/>
<circle cx="1333.3" cy="1459.62" r="4.4" fill="url(#bL)"/>
<circle cx="1334.15" cy="1459" r="4.4" fill="url(#bL)"/>
<circle cx="1335" cy="1458.38" r="4.4" fill="url(#bL)"/>
<circle cx="1335.85" cy="1457.76" r="4.4" fill="url(#bL)"/>
<circle cx="1336.7" cy="1457.93" r="4.4" fill="url(#bL)"/>
<circle cx="1337.55" cy="1458.67" r="4.4" fill="url(#bL)"/>
<circle cx="1338.4" cy="1459.4" r="4.4" fill="url(#bL)"/>
<circle cx="1339.25" cy="1460.14" r="4.4" fill="url(#bL)"/>
<circle cx="1340.1" cy="1460.88" r="4.4" fill="url(#bL)"/>
<circle cx="1340.95" cy="1461.61" r="4.4" fill="url(#bL)"/>
<circle cx="1341.8" cy="1461.88" r="4.4" fill="url(#bL)"/>
<circle cx="1342.65" cy="1461.63" r="4.4" fill="url(#bL)"/>
<circle cx="1343.5" cy="1461.38" r="4.4" fill="url(#bL)"/>
<circle cx="1344.35" cy="1461.13" r="4.4" fill="url(#bL)"/>
<circle cx="1345.2" cy="1460.88" r="4.4" fill="url(#bL)"/>
<circle cx="1346.05" cy="1460.63" r="4.4" fill="url(#bL)"/>
<circle cx="1346.9" cy="1460.38" r="4.4" fill="url(#bL)"/>
<circle cx="1347.75" cy="1460.13" r="4.4" fill="url(#bL)"/>
<circle cx="1348.6" cy="1460.61" r="4.4" fill="url(#bL)"/>
<circle cx="1349.45" cy="1461.9" r="4.4" fill="url(#bL)"/>
<circle cx="1350.3" cy="1463.18" r="4.4" fill="url(#bL)"/>
<circle cx="1351.15" cy="1464.47" r="4.4" fill="url(#bL)"/>
<circle cx="1352" cy="1486.25" r="4.4" fill="url(#bL)"/>
<circle cx="1352.85" cy="1520.71" r="4.4" fill="url(#bL)"/>
<circle cx="1353.7" cy="1543.44" r="4.4" fill="url(#bL)"/>
<circle cx="1354.55" cy="1569.53" r="4.4" fill="url(#bL)"/>
<circle cx="1355.4" cy="1589.91" r="4.4" fill="url(#bL)"/>
<circle cx="1356.25" cy="1611.25" r="4.4" fill="url(#bL)"/>
<circle cx="1357.1" cy="1621.8" r="4.4" fill="url(#bL)"/>
<circle cx="1357.95" cy="1628.32" r="4.4" fill="url(#bL)"/>
<circle cx="1358.8" cy="1634.91" r="4.4" fill="url(#bL)"/>
<circle cx="1359.65" cy="1641.76" r="4.4" fill="url(#bL)"/>
<circle cx="1360.5" cy="1648.01" r="4.4" fill="url(#bL)"/>
<circle cx="1361.35" cy="1652.31" r="4.4" fill="url(#bL)"/>
<circle cx="1362.2" cy="1656.61" r="4.4" fill="url(#bL)"/>
<circle cx="1363.05" cy="1660.91" r="4.4" fill="url(#bL)"/>
<circle cx="1363.9" cy="1664.8" r="4.4" fill="url(#bL)"/>
<circle cx="1364.75" cy="1667.33" r="4.4" fill="url(#bL)"/>
<circle cx="1365.6" cy="1669.86" r="4.4" fill="url(#bL)"/>
<circle cx="1366.45" cy="1672.4" r="4.4" fill="url(#bL)"/>
<circle cx="1367.3" cy="1674.93" r="4.4" fill="url(#bL)"/>
<circle cx="1368.15" cy="1677.46" r="4.4" fill="url(#bL)"/>
<circle cx="1369" cy="1679.82" r="4.4" fill="url(#bL)"/>
<circle cx="1369.85" cy="1680.88" r="4.4" fill="url(#bL)"/>
<circle cx="1370.7" cy="1681.94" r="4.4" fill="url(#bL)"/>
<circle cx="1371.55" cy="1683" r="4.4" fill="url(#bL)"/>
<circle cx="1372.4" cy="1684.06" r="4.4" fill="url(#bL)"/>
<circle cx="1373.25" cy="1685.12" r="4.4" fill="url(#bL)"/>
<circle cx="1374.1" cy="1686.18" r="4.4" fill="url(#bL)"/>
<circle cx="1374.95" cy="1687.24" r="4.4" fill="url(#bL)"/>
<circle cx="1375.8" cy="1688.3" r="4.4" fill="url(#bL)"/>
<circle cx="1376.65" cy="1688.74" r="4.4" fill="url(#bL)"/>
<circle cx="1377.5" cy="1689.17" r="4.4" fill="url(#bL)"/>
<circle cx="1378.35" cy="1689.61" r="4.4" fill="url(#bL)"/>
<circle cx="1379.2" cy="1690.05" r="4.4" fill="url(#bL)"/>
<circle cx="1380.05" cy="1690.49" r="4.4" fill="url(#bL)"/>
<circle cx="1380.9" cy="1690.92" r="4.4" fill="url(#bL)"/>
<circle cx="1381.75" cy="1691.36" r="4.4" fill="url(#bL)"/>
<circle cx="1382.6" cy="1691.8" r="4.4" fill="url(#bL)"/>
<circle cx="1383.45" cy="1692.11" r="4.4" fill="url(#bL)"/>
<circle cx="1384.3" cy="1692.41" r="4.4" fill="url(#bL)"/>
<circle cx="1385.15" cy="1692.72" r="4.4" fill="url(#bL)"/>
<circle cx="1386" cy="1693.03" r="4.4" fill="url(#bL)"/>
<circle cx="1386.85" cy="1693.33" r="4.4" fill="url(#bL)"/>
<circle cx="1387.7" cy="1693.64" r="4.4" fill="url(#bL)"/>
<circle cx="1388.55" cy="1693.95" r="4.4" fill="url(#bL)"/>
<circle cx="1389.4" cy="1694.06" r="4.4" fill="url(#bL)"/>
<circle cx="1390.25" cy="1694.13" r="4.4" fill="url(#bL)"/>
<circle cx="1391.1" cy="1694.2" r="4.4" fill="url(#bL)"/>
<circle cx="1391.95" cy="1694.27" r="4.4" fill="url(#bL)"/>
<circle cx="1392.8" cy="1694.34" r="4.4" fill="url(#bL)"/>
<circle cx="1393.65" cy="1694.41" r="4.4" fill="url(#bL)"/>
<circle cx="1394.5" cy="1694.48" r="4.4" fill="url(#bL)"/>
<circle cx="1395.35" cy="1693.85" r="4.4" fill="url(#bL)"/>
<circle cx="1396.2" cy="1693" r="4.4" fill="url(#bL)"/>
<circle cx="1397.05" cy="1692.15" r="4.4" fill="url(#bL)"/>
<circle cx="1397.9" cy="1691.3" r="4.4" fill="url(#bL)"/>
<circle cx="1398.75" cy="1690.45" r="4.4" fill="url(#bL)"/>
<circle cx="1399.6" cy="1689.27" r="4.4" fill="url(#bL)"/>
<circle cx="1400.3" cy="1688" r="4.4" fill="url(#bL)"/>
<circle cx="1401.15" cy="1659" r="4.4" fill="url(#bL)"/>
<circle cx="1402" cy="1642" r="4.4" fill="url(#bL)"/>
<circle cx="1402.85" cy="1617.37" r="4.4" fill="url(#bL)"/>
<circle cx="1403.7" cy="1606.6" r="4.4" fill="url(#bL)"/>
<circle cx="1404.55" cy="1591.21" r="4.4" fill="url(#bL)"/>
<circle cx="1405.4" cy="1574.8" r="4.4" fill="url(#bL)"/>
<circle cx="1406.25" cy="1568.38" r="4.4" fill="url(#bL)"/>
<circle cx="1407.1" cy="1556" r="4.4" fill="url(#bL)"/>
<circle cx="1407.95" cy="1544.67" r="4.4" fill="url(#bL)"/>
<circle cx="1408.8" cy="1536.66" r="4.4" fill="url(#bL)"/>
<circle cx="1409.65" cy="1528.86" r="4.4" fill="url(#bL)"/>
<circle cx="1410.5" cy="1522.71" r="4.4" fill="url(#bL)"/>
<circle cx="1411.35" cy="1516.66" r="4.4" fill="url(#bL)"/>
<circle cx="1412.2" cy="1510.21" r="4.4" fill="url(#bL)"/>
<circle cx="1413.05" cy="1503.74" r="4.4" fill="url(#bL)"/>
<circle cx="1413.9" cy="1499.76" r="4.4" fill="url(#bL)"/>
<circle cx="1414.75" cy="1496.31" r="4.4" fill="url(#bL)"/>
<circle cx="1415.6" cy="1492.86" r="4.4" fill="url(#bL)"/>
<circle cx="1416.45" cy="1489.41" r="4.4" fill="url(#bL)"/>
<circle cx="1417.3" cy="1485.96" r="4.4" fill="url(#bL)"/>
<circle cx="1418.15" cy="1482.51" r="4.4" fill="url(#bL)"/>
<circle cx="1419" cy="1479.06" r="4.4" fill="url(#bL)"/>
<circle cx="1419.85" cy="1475.61" r="4.4" fill="url(#bL)"/>
<circle cx="1420.7" cy="1473.64" r="4.4" fill="url(#bL)"/>
<circle cx="1421.55" cy="1471.99" r="4.4" fill="url(#bL)"/>
<circle cx="1422.4" cy="1470.34" r="4.4" fill="url(#bL)"/>
<circle cx="1423.25" cy="1468.69" r="4.4" fill="url(#bL)"/>
<circle cx="1424.1" cy="1467.39" r="4.4" fill="url(#bL)"/>
<circle cx="1424.95" cy="1466.24" r="4.4" fill="url(#bL)"/>
<circle cx="1425.8" cy="1465.09" r="4.4" fill="url(#bL)"/>
<circle cx="1426.65" cy="1463.94" r="4.4" fill="url(#bL)"/>
<circle cx="1427.5" cy="1462.79" r="4.4" fill="url(#bL)"/>
<circle cx="1428.35" cy="1461.64" r="4.4" fill="url(#bL)"/>
<circle cx="1429.2" cy="1460.86" r="4.4" fill="url(#bL)"/>
<circle cx="1430.05" cy="1460.24" r="4.4" fill="url(#bL)"/>
<circle cx="1430.9" cy="1459.62" r="4.4" fill="url(#bL)"/>
<circle cx="1431.75" cy="1459" r="4.4" fill="url(#bL)"/>
<circle cx="1432.6" cy="1458.38" r="4.4" fill="url(#bL)"/>
<circle cx="1433.45" cy="1457.76" r="4.4" fill="url(#bL)"/>
<circle cx="1434.3" cy="1457.93" r="4.4" fill="url(#bL)"/>
<circle cx="1435.15" cy="1458.67" r="4.4" fill="url(#bL)"/>
<circle cx="1436" cy="1459.4" r="4.4" fill="url(#bL)"/>
<circle cx="1436.85" cy="1460.14" r="4.4" fill="url(#bL)"/>
<circle cx="1437.7" cy="1460.88" r="4.4" fill="url(#bL)"/>
<circle cx="1438.55" cy="1461.61" r="4.4" fill="url(#bL)"/>
<circle cx="1439.4" cy="1461.88" r="4.4" fill="url(#bL)"/>
<circle cx="1440.25" cy="1461.63" r="4.4" fill="url(#bL)"/>
<circle cx="1441.1" cy="1461.38" r="4.4" fill="url(#bL)"/>
<circle cx="1441.95" cy="1461.13" r="4.4" fill="url(#bL)"/>
<circle cx="1442.8" cy="1460.88" r="4.4" fill="url(#bL)"/>
<circle cx="1443.65" cy="1460.63" r="4.4" fill="url(#bL)"/>
<circle cx="1444.5" cy="1460.38" r="4.4" fill="url(#bL)"/>
<circle cx="1445.35" cy="1460.13" r="4.4" fill="url(#bL)"/>
<circle cx="1446.2" cy="1460.61" r="4.4" fill="url(#bL)"/>
<circle cx="1447.05" cy="1461.9" r="4.4" fill="url(#bL)"/>
<circle cx="1447.9" cy="1463.18" r="4.4" fill="url(#bL)"/>
<circle cx="1448.75" cy="1464.47" r="4.4" fill="url(#bL)"/>
<circle cx="1449.6" cy="1486.25" r="4.4" fill="url(#bL)"/>
<circle cx="1450.45" cy="1520.71" r="4.4" fill="url(#bL)"/>
<circle cx="1451.3" cy="1543.44" r="4.4" fill="url(#bL)"/>
<circle cx="1452.15" cy="1569.53" r="4.4" fill="url(#bL)"/>
<circle cx="1453" cy="1589.91" r="4.4" fill="url(#bL)"/>
<circle cx="1453.85" cy="1611.25" r="4.4" fill="url(#bL)"/>
<circle cx="1454.7" cy="1621.8" r="4.4" fill="url(#bL)"/>
<circle cx="1455.55" cy="1628.32" r="4.4" fill="url(#bL)"/>
<circle cx="1456.4" cy="1634.91" r="4.4" fill="url(#bL)"/>
<circle cx="1457.25" cy="1641.76" r="4.4" fill="url(#bL)"/>
<circle cx="1458.1" cy="1648.01" r="4.4" fill="url(#bL)"/>
<circle cx="1458.95" cy="1652.31" r="4.4" fill="url(#bL)"/>
<circle cx="1459.8" cy="1656.61" r="4.4" fill="url(#bL)"/>
<circle cx="1460.65" cy="1660.91" r="4.4" fill="url(#bL)"/>
<circle cx="1461.5" cy="1664.8" r="4.4" fill="url(#bL)"/>
<circle cx="1462.35" cy="1667.33" r="4.4" fill="url(#bL)"/>
<circle cx="1463.2" cy="1669.86" r="4.4" fill="url(#bL)"/>
<circle cx="1464.05" cy="1672.4" r="4.4" fill="url(#bL)"/>
<circle cx="1464.9" cy="1674.93" r="4.4" fill="url(#bL)"/>
<circle cx="1465.75" cy="1677.46" r="4.4" fill="url(#bL)"/>
<circle cx="1466.6" cy="1679.82" r="4.4" fill="url(#bL)"/>
<circle cx="1467.45" cy="1680.88" r="4.4" fill="url(#bL)"/>
<circle cx="1468.3" cy="1681.94" r="4.4" fill="url(#bL)"/>
<circle cx="1469.15" cy="1683" r="4.4" fill="url(#bL)"/>
<circle cx="1470" cy="1684.06" r="4.4" fill="url(#bL)"/>
<circle cx="1470.85" cy="1685.12" r="4.4" fill="url(#bL)"/>
<circle cx="1471.7" cy="1686.18" r="4.4" fill="url(#bL)"/>
<circle cx="1472.55" cy="1687.24" r="4.4" fill="url(#bL)"/>
<circle cx="1473.4" cy="1688.3" r="4.4" fill="url(#bL)"/>
<circle cx="1474.25" cy="1688.74" r="4.4" fill="url(#bL)"/>
<circle cx="1475.1" cy="1689.17" r="4.4" fill="url(#bL)"/>
<circle cx="1475.95" cy="1689.61" r="4.4" fill="url(#bL)"/>
<circle cx="1476.8" cy="1690.05" r="4.4" fill="url(#bL)"/>
<circle cx="1477.65" cy="1690.49" r="4.4" fill="url(#bL)"/>
<circle cx="1478.5" cy="1690.92" r="4.4" fill="url(#bL)"/>
<circle cx="1479.35" cy="1691.36" r="4.4" fill="url(#bL)"/>
<circle cx="1480.2" cy="1691.8" r="4.4" fill="url(#bL)"/>
<circle cx="1481.05" cy="1692.11" r="4.4" fill="url(#bL)"/>
<circle cx="1481.9" cy="1692.41" r="4.4" fill="url(#bL)"/>
<circle cx="1482.75" cy="1692.72" r="4.4" fill="url(#bL)"/>
<circle cx="1483.6" cy="1693.03" r="4.4" fill="url(#bL)"/>
<circle cx="1484.45" cy="1693.33" r="4.4" fill="url(#bL)"/>
<circle cx="1485.3" cy="1693.64" r="4.4" fill="url(#bL)"/>
<circle cx="1486.15" cy="1693.95" r="4.4" fill="url(#bL)"/>
<circle cx="1487" cy="1694.06" r="4.4" fill="url(#bL)"/>
<circle cx="1487.85" cy="1694.13" r="4.4" fill="url(#bL)"/>
<circle cx="1488.7" cy="1694.2" r="4.4" fill="url(#bL)"/>
<circle cx="1489.55" cy="1694.27" r="4.4" fill="url(#bL)"/>
<circle cx="1490.4" cy="1694.34" r="4.4" fill="url(#bL)"/>
<circle cx="1491.25" cy="1694.41" r="4.4" fill="url(#bL)"/>
<circle cx="1492.1" cy="1694.48" r="4.4" fill="url(#bL)"/>
<circle cx="1492.95" cy="1693.85" r="4.4" fill="url(#bL)"/>
<circle cx="1493.8" cy="1693" r="4.4" fill="url(#bL)"/>
<circle cx="1494.65" cy="1692.15" r="4.4" fill="url(#bL)"/>
<circle cx="1495.5" cy="1691.3" r="4.4" fill="url(#bL)"/>
<circle cx="1496.35" cy="1690.45" r="4.4" fill="url(#bL)"/>
<circle cx="1497.2" cy="1689.27" r="4.4" fill="url(#bL)"/>
<circle cx="1498.3" cy="1688" r="4.4" fill="url(#bL)"/>
<circle cx="1499.15" cy="1659" r="4.4" fill="url(#bL)"/>
<circle cx="1500" cy="1642" r="4.4" fill="url(#bL)"/>
<circle cx="1500.85" cy="1617.37" r="4.4" fill="url(#bL)"/>
<circle cx="1501.7" cy="1606.6" r="4.4" fill="url(#bL)"/>
<circle cx="1502.55" cy="1591.21" r="4.4" fill="url(#bL)"/>
<circle cx="1503.4" cy="1574.8" r="4.4" fill="url(#bL)"/>
<circle cx="1504.25" cy="1568.38" r="4.4" fill="url(#bL)"/>
<circle cx="1505.1" cy="1556" r="4.4" fill="url(#bL)"/>
<circle cx="1505.95" cy="1544.67" r="4.4" fill="url(#bL)"/>
<circle cx="1506.8" cy="1536.66" r="4.4" fill="url(#bL)"/>
<circle cx="1507.65" cy="1528.86" r="4.4" fill="url(#bL)"/>
<circle cx="1508.5" cy="1522.71" r="4.4" fill="url(#bL)"/>
<circle cx="1509.35" cy="1516.66" r="4.4" fill="url(#bL)"/>
<circle cx="1510.2" cy="1510.21" r="4.4" fill="url(#bL)"/>
<circle cx="1511.05" cy="1503.74" r="4.4" fill="url(#bL)"/>
<circle cx="1511.9" cy="1499.76" r="4.4" fill="url(#bL)"/>
<circle cx="1512.75" cy="1496.31" r="4.4" fill="url(#bL)"/>
<circle cx="1513.6" cy="1492.86" r="4.4" fill="url(#bL)"/>
<circle cx="1514.45" cy="1489.41" r="4.4" fill="url(#bL)"/>
<circle cx="1515.3" cy="1485.96" r="4.4" fill="url(#bL)"/>
<circle cx="1516.15" cy="1482.51" r="4.4" fill="url(#bL)"/>
<circle cx="1517" cy="1479.06" r="4.4" fill="url(#bL)"/>
<circle cx="1517.85" cy="1475.61" r="4.4" fill="url(#bL)"/>
<circle cx="1518.7" cy="1473.64" r="4.4" fill="url(#bL)"/>
<circle cx="1519.55" cy="1471.99" r="4.4" fill="url(#bL)"/>
<circle cx="1520.4" cy="1470.34" r="4.4" fill="url(#bL)"/>
<circle cx="1521.25" cy="1468.69" r="4.4" fill="url(#bL)"/>
<circle cx="1522.1" cy="1467.39" r="4.4" fill="url(#bL)"/>
<circle cx="1522.95" cy="1466.24" r="4.4" fill="url(#bL)"/>
<circle cx="1523.8" cy="1465.09" r="4.4" fill="url(#bL)"/>
<circle cx="1524.65" cy="1463.94" r="4.4" fill="url(#bL)"/>
<circle cx="1525.5" cy="1462.79" r="4.4" fill="url(#bL)"/>
<circle cx="1526.35" cy="1461.64" r="4.4" fill="url(#bL)"/>
<circle cx="1527.2" cy="1460.86" r="4.4" fill="url(#bL)"/>
<circle cx="1528.05" cy="1460.24" r="4.4" fill="url(#bL)"/>
<circle cx="1528.9" cy="1459.62" r="4.4" fill="url(#bL)"/>
<circle cx="1529.75" cy="1459" r="4.4" fill="url(#bL)"/>
<circle cx="1530.6" cy="1458.38" r="4.4" fill="url(#bL)"/>
<circle cx="1531.45" cy="1457.76" r="4.4" fill="url(#bL)"/>
<circle cx="1532.3" cy="1457.93" r="4.4" fill="url(#bL)"/>
<circle cx="1533.15" cy="1458.67" r="4.4" fill="url(#bL)"/>
<circle cx="1534" cy="1459.4" r="4.4" fill="url(#bL)"/>
<circle cx="1534.85" cy="1460.14" r="4.4" fill="url(#bL)"/>
<circle cx="1535.7" cy="1460.88" r="4.4" fill="url(#bL)"/>
<circle cx="1536.55" cy="1461.61" r="4.4" fill="url(#bL)"/>
<circle cx="1537.4" cy="1461.88" r="4.4" fill="url(#bL)"/>
<circle cx="1538.25" cy="1461.63" r="4.4" fill="url(#bL)"/>
<circle cx="1539.1" cy="1461.38" r="4.4" fill="url(#bL)"/>
<circle cx="1539.95" cy="1461.13" r="4.4" fill="url(#bL)"/>
<circle cx="1540.8" cy="1460.88" r="4.4" fill="url(#bL)"/>
<circle cx="1541.65" cy="1460.63" r="4.4" fill="url(#bL)"/>
<circle cx="1542.5" cy="1460.38" r="4.4" fill="url(#bL)"/>
<circle cx="1543.35" cy="1460.13" r="4.4" fill="url(#bL)"/>
<circle cx="1544.2" cy="1460.61" r="4.4" fill="url(#bL)"/>
<circle cx="1545.05" cy="1461.9" r="4.4" fill="url(#bL)"/>
<circle cx="1545.9" cy="1463.18" r="4.4" fill="url(#bL)"/>
<circle cx="1546.75" cy="1464.47" r="4.4" fill="url(#bL)"/>
<circle cx="1547.6" cy="1486.25" r="4.4" fill="url(#bL)"/>
<circle cx="1548.45" cy="1520.71" r="4.4" fill="url(#bL)"/>
<circle cx="1549.3" cy="1543.44" r="4.4" fill="url(#bL)"/>
<circle cx="1550.15" cy="1569.53" r="4.4" fill="url(#bL)"/>
<circle cx="1551" cy="1589.91" r="4.4" fill="url(#bL)"/>
<circle cx="1551.85" cy="1611.25" r="4.4" fill="url(#bL)"/>
<circle cx="1552.7" cy="1621.8" r="4.4" fill="url(#bL)"/>
<circle cx="1553.55" cy="1628.32" r="4.4" fill="url(#bL)"/>
<circle cx="1554.4" cy="1634.91" r="4.4" fill="url(#bL)"/>
<circle cx="1555.25" cy="1641.76" r="4.4" fill="url(#bL)"/>
<circle cx="1556.1" cy="1648.01" r="4.4" fill="url(#bL)"/>
<circle cx="1556.95" cy="1652.31" r="4.4" fill="url(#bL)"/>
<circle cx="1557.8" cy="1656.61" r="4.4" fill="url(#bL)"/>
<circle cx="1558.65" cy="1660.91" r="4.4" fill="url(#bL)"/>
<circle cx="1559.5" cy="1664.8" r="4.4" fill="url(#bL)"/>
<circle cx="1560.35" cy="1667.33" r="4.4" fill="url(#bL)"/>
<circle cx="1561.2" cy="1669.86" r="4.4" fill="url(#bL)"/>
<circle cx="1562.05" cy="1672.4" r="4.4" fill="url(#bL)"/>
<circle cx="1562.9" cy="1674.93" r="4.4" fill="url(#bL)"/>
<circle cx="1563.75" cy="1677.46" r="4.4" fill="url(#bL)"/>
<circle cx="1564.6" cy="1679.82" r="4.4" fill="url(#bL)"/>
<circle cx="1565.45" cy="1680.88" r="4.4" fill="url(#bL)"/>
<circle cx="1566.3" cy="1681.94" r="4.4" fill="url(#bL)"/>
<circle cx="1567.15" cy="1683" r="4.4" fill="url(#bL)"/>
<circle cx="1568" cy="1684.06" r="4.4" fill="url(#bL)"/>
<circle cx="1568.85" cy="1685.12" r="4.4" fill="url(#bL)"/>
<circle cx="1569.7" cy="1686.18" r="4.4" fill="url(#bL)"/>
<circle cx="1570.55" cy="1687.24" r="4.4" fill="url(#bL)"/>
<circle cx="1571.4" cy="1688.3" r="4.4" fill="url(#bL)"/>
<circle cx="1572.25" cy="1688.74" r="4.4" fill="url(#bL)"/>
<circle cx="1573.1" cy="1689.17" r="4.4" fill="url(#bL)"/>
<circle cx="1573.95" cy="1689.61" r="4.4" fill="url(#bL)"/>
<circle cx="1574.8" cy="1690.05" r="4.4" fill="url(#bL)"/>
<circle cx="1575.65" cy="1690.49" r="4.4" fill="url(#bL)"/>
<circle cx="1576.5" cy="1690.92" r="4.4" fill="url(#bL)"/>
<circle cx="1577.35" cy="1691.36" r="4.4" fill="url(#bL)"/>
<circle cx="1578.2" cy="1691.8" r="4.4" fill="url(#bL)"/>
<circle cx="1579.05" cy="1692.11" r="4.4" fill="url(#bL)"/>
<circle cx="1579.9" cy="1692.41" r="4.4" fill="url(#bL)"/>
<circle cx="1580.75" cy="1692.72" r="4.4" fill="url(#bL)"/>
<circle cx="1581.6" cy="1693.03" r="4.4" fill="url(#bL)"/>
<circle cx="1582.45" cy="1693.33" r="4.4" fill="url(#bL)"/>
<circle cx="1583.3" cy="1693.64" r="4.4" fill="url(#bL)"/>
<circle cx="1584.15" cy="1693.95" r="4.4" fill="url(#bL)"/>
<circle cx="1585" cy="1694.06" r="4.4" fill="url(#bL)"/>
<circle cx="1585.85" cy="1694.13" r="4.4" fill="url(#bL)"/>
<circle cx="1586.7" cy="1694.2" r="4.4" fill="url(#bL)"/>
<circle cx="1587.55" cy="1694.27" r="4.4" fill="url(#bL)"/>
<circle cx="1588.4" cy="1694.34" r="4.4" fill="url(#bL)"/>
<circle cx="1589.25" cy="1694.41" r="4.4" fill="url(#bL)"/>
<circle cx="1590.1" cy="1694.48" r="4.4" fill="url(#bL)"/>
<circle cx="1590.95" cy="1693.85" r="4.4" fill="url(#bL)"/>
<circle cx="1591.8" cy="1693" r="4.4" fill="url(#bL)"/>
<circle cx="1592.65" cy="1692.15" r="4.4" fill="url(#bL)"/>
<circle cx="1593.5" cy="1691.3" r="4.4" fill="url(#bL)"/>
<circle cx="1594.35" cy="1690.45" r="4.4" fill="url(#bL)"/>
<circle cx="1595.2" cy="1689.27" r="4.4" fill="url(#bL)"/>
<circle cx="1595.2" cy="1688" r="4.4" fill="url(#bL)"/>
<circle cx="1596.05" cy="1659" r="4.4" fill="url(#bL)"/>
<circle cx="1596.9" cy="1642" r="4.4" fill="url(#bL)"/>
<circle cx="1597.75" cy="1617.37" r="4.4" fill="url(#bL)"/>
<circle cx="1598.6" cy="1606.6" r="4.4" fill="url(#bL)"/>
<circle cx="1599.45" cy="1591.21" r="4.4" fill="url(#bL)"/>
<circle cx="1600.3" cy="1574.8" r="4.4" fill="url(#bL)"/>
<circle cx="1601.15" cy="1568.38" r="4.4" fill="url(#bL)"/>
<circle cx="1602" cy="1556" r="4.4" fill="url(#bL)"/>
<circle cx="1602.85" cy="1544.67" r="4.4" fill="url(#bL)"/>
<circle cx="1603.7" cy="1536.66" r="4.4" fill="url(#bL)"/>
<circle cx="1604.55" cy="1528.86" r="4.4" fill="url(#bL)"/>
<circle cx="1605.4" cy="1522.71" r="4.4" fill="url(#bL)"/>
<circle cx="1606.25" cy="1516.66" r="4.4" fill="url(#bL)"/>
<circle cx="1607.1" cy="1510.21" r="4.4" fill="url(#bL)"/>
<circle cx="1607.95" cy="1503.74" r="4.4" fill="url(#bL)"/>
<circle cx="1608.8" cy="1499.76" r="4.4" fill="url(#bL)"/>
<circle cx="1609.65" cy="1496.31" r="4.4" fill="url(#bL)"/>
<circle cx="1610.5" cy="1492.86" r="4.4" fill="url(#bL)"/>
<circle cx="1611.35" cy="1489.41" r="4.4" fill="url(#bL)"/>
<circle cx="1612.2" cy="1485.96" r="4.4" fill="url(#bL)"/>
<circle cx="1613.05" cy="1482.51" r="4.4" fill="url(#bL)"/>
<circle cx="1613.9" cy="1479.06" r="4.4" fill="url(#bL)"/>
<circle cx="1614.75" cy="1475.61" r="4.4" fill="url(#bL)"/>
<circle cx="1615.6" cy="1473.64" r="4.4" fill="url(#bL)"/>
<circle cx="1616.45" cy="1471.99" r="4.4" fill="url(#bL)"/>
<circle cx="1617.3" cy="1470.34" r="4.4" fill="url(#bL)"/>
<circle cx="1618.15" cy="1468.69" r="4.4" fill="url(#bL)"/>
<circle cx="1619" cy="1467.39" r="4.4" fill="url(#bL)"/>
<circle cx="1619.85" cy="1466.24" r="4.4" fill="url(#bL)"/>
<circle cx="1620.7" cy="1465.09" r="4.4" fill="url(#bL)"/>
<circle cx="1621.55" cy="1463.94" r="4.4" fill="url(#bL)"/>
<circle cx="1622.4" cy="1462.79" r="4.4" fill="url(#bL)"/>
<circle cx="1623.25" cy="1461.64" r="4.4" fill="url(#bL)"/>
<circle cx="1624.1" cy="1460.86" r="4.4" fill="url(#bL)"/>
<circle cx="1624.95" cy="1460.24" r="4.4" fill="url(#bL)"/>
<circle cx="1625.8" cy="1459.62" r="4.4" fill="url(#bL)"/>
<circle cx="1626.65" cy="1459" r="4.4" fill="url(#bL)"/>
<circle cx="1627.5" cy="1458.38" r="4.4" fill="url(#bL)"/>
<circle cx="1628.35" cy="1457.76" r="4.4" fill="url(#bL)"/>
<circle cx="1629.2" cy="1457.93" r="4.4" fill="url(#bL)"/>
<circle cx="1630.05" cy="1458.67" r="4.4" fill="url(#bL)"/>
<circle cx="1630.9" cy="1459.4" r="4.4" fill="url(#bL)"/>
<circle cx="1631.75" cy="1460.14" r="4.4" fill="url(#bL)"/>
<circle cx="1632.6" cy="1460.88" r="4.4" fill="url(#bL)"/>
<circle cx="1633.45" cy="1461.61" r="4.4" fill="url(#bL)"/>
<circle cx="1634.3" cy="1461.88" r="4.4" fill="url(#bL)"/>
<circle cx="1635.15" cy="1461.63" r="4.4" fill="url(#bL)"/>
<circle cx="1636" cy="1461.38" r="4.4" fill="url(#bL)"/>
<circle cx="1636.85" cy="1461.13" r="4.4" fill="url(#bL)"/>
<circle cx="1637.7" cy="1460.88" r="4.4" fill="url(#bL)"/>
<circle cx="1638.55" cy="1460.63" r="4.4" fill="url(#bL)"/>
<circle cx="1639.4" cy="1460.38" r="4.4" fill="url(#bL)"/>
<circle cx="1640.25" cy="1460.13" r="4.4" fill="url(#bL)"/>
<circle cx="1641.1" cy="1460.61" r="4.4" fill="url(#bL)"/>
<circle cx="1641.95" cy="1461.9" r="4.4" fill="url(#bL)"/>
<circle cx="1642.8" cy="1463.18" r="4.4" fill="url(#bL)"/>
<circle cx="1643.65" cy="1464.47" r="4.4" fill="url(#bL)"/>
<circle cx="1644.5" cy="1486.25" r="4.4" fill="url(#bL)"/>
<circle cx="1645.35" cy="1520.71" r="4.4" fill="url(#bL)"/>
<circle cx="1646.2" cy="1543.44" r="4.4" fill="url(#bL)"/>
<circle cx="1647.05" cy="1569.53" r="4.4" fill="url(#bL)"/>
<circle cx="1647.9" cy="1589.91" r="4.4" fill="url(#bL)"/>
<circle cx="1648.75" cy="1611.25" r="4.4" fill="url(#bL)"/>
<circle cx="1649.6" cy="1621.8" r="4.4" fill="url(#bL)"/>
<circle cx="1650.45" cy="1628.32" r="4.4" fill="url(#bL)"/>
<rect x="1274.3" y="1428" width="401" height="292.2" fill="none" stroke="#1e1e1e" stroke-width="2.4"/>
<line x1="1282.3" y1="1720.2" x2="1282.3" y2="1727" stroke="#1e1e1e" stroke-width="2.2"/>
<line x1="1282.3" y1="1428" x2="1282.3" y2="1433.5" stroke="#1e1e1e" stroke-width="2"/>
<line x1="1321.53" y1="1720.2" x2="1321.53" y2="1724.5" stroke="#1e1e1e" stroke-width="2"/>
<line x1="1321.53" y1="1428" x2="1321.53" y2="1431.5" stroke="#1e1e1e" stroke-width="1.8"/>
<line x1="1360.76" y1="1720.2" x2="1360.76" y2="1727" stroke="#1e1e1e" stroke-width="2.2"/>
<line x1="1360.76" y1="1428" x2="1360.76" y2="1433.5" stroke="#1e1e1e" stroke-width="2"/>
<line x1="1399.99" y1="1720.2" x2="1399.99" y2="1724.5" stroke="#1e1e1e" stroke-width="2"/>
<line x1="1399.99" y1="1428" x2="1399.99" y2="1431.5" stroke="#1e1e1e" stroke-width="1.8"/>
<line x1="1439.22" y1="1720.2" x2="1439.22" y2="1727" stroke="#1e1e1e" stroke-width="2.2"/>
<line x1="1439.22" y1="1428" x2="1439.22" y2="1433.5" stroke="#1e1e1e" stroke-width="2"/>
<line x1="1478.45" y1="1720.2" x2="1478.45" y2="1724.5" stroke="#1e1e1e" stroke-width="2"/>
<line x1="1478.45" y1="1428" x2="1478.45" y2="1431.5" stroke="#1e1e1e" stroke-width="1.8"/>
<line x1="1517.68" y1="1720.2" x2="1517.68" y2="1727" stroke="#1e1e1e" stroke-width="2.2"/>
<line x1="1517.68" y1="1428" x2="1517.68" y2="1433.5" stroke="#1e1e1e" stroke-width="2"/>
<line x1="1556.91" y1="1720.2" x2="1556.91" y2="1724.5" stroke="#1e1e1e" stroke-width="2"/>
<line x1="1556.91" y1="1428" x2="1556.91" y2="1431.5" stroke="#1e1e1e" stroke-width="1.8"/>
<line x1="1596.14" y1="1720.2" x2="1596.14" y2="1727" stroke="#1e1e1e" stroke-width="2.2"/>
<line x1="1596.14" y1="1428" x2="1596.14" y2="1433.5" stroke="#1e1e1e" stroke-width="2"/>
<line x1="1635.37" y1="1720.2" x2="1635.37" y2="1724.5" stroke="#1e1e1e" stroke-width="2"/>
<line x1="1635.37" y1="1428" x2="1635.37" y2="1431.5" stroke="#1e1e1e" stroke-width="1.8"/>
<line x1="1674.6" y1="1720.2" x2="1674.6" y2="1727" stroke="#1e1e1e" stroke-width="2.2"/>
<line x1="1674.6" y1="1428" x2="1674.6" y2="1433.5" stroke="#1e1e1e" stroke-width="2"/>
<line x1="1267.7" y1="1441.5" x2="1274.3" y2="1441.5" stroke="#1e1e1e" stroke-width="2"/>
<line x1="1675.3" y1="1441.5" x2="1669.5" y2="1441.5" stroke="#1e1e1e" stroke-width="2"/>
<line x1="1271" y1="1464.75" x2="1274.3" y2="1464.75" stroke="#1e1e1e" stroke-width="2"/>
<line x1="1675.3" y1="1464.75" x2="1672" y2="1464.75" stroke="#1e1e1e" stroke-width="2"/>
<line x1="1267.7" y1="1488" x2="1274.3" y2="1488" stroke="#1e1e1e" stroke-width="2"/>
<line x1="1675.3" y1="1488" x2="1669.5" y2="1488" stroke="#1e1e1e" stroke-width="2"/>
<line x1="1271" y1="1511.25" x2="1274.3" y2="1511.25" stroke="#1e1e1e" stroke-width="2"/>
<line x1="1675.3" y1="1511.25" x2="1672" y2="1511.25" stroke="#1e1e1e" stroke-width="2"/>
<line x1="1267.7" y1="1534.5" x2="1274.3" y2="1534.5" stroke="#1e1e1e" stroke-width="2"/>
<line x1="1675.3" y1="1534.5" x2="1669.5" y2="1534.5" stroke="#1e1e1e" stroke-width="2"/>
<line x1="1271" y1="1557.75" x2="1274.3" y2="1557.75" stroke="#1e1e1e" stroke-width="2"/>
<line x1="1675.3" y1="1557.75" x2="1672" y2="1557.75" stroke="#1e1e1e" stroke-width="2"/>
<line x1="1267.7" y1="1581" x2="1274.3" y2="1581" stroke="#1e1e1e" stroke-width="2"/>
<line x1="1675.3" y1="1581" x2="1669.5" y2="1581" stroke="#1e1e1e" stroke-width="2"/>
<line x1="1271" y1="1604.25" x2="1274.3" y2="1604.25" stroke="#1e1e1e" stroke-width="2"/>
<line x1="1675.3" y1="1604.25" x2="1672" y2="1604.25" stroke="#1e1e1e" stroke-width="2"/>
<line x1="1267.7" y1="1627.5" x2="1274.3" y2="1627.5" stroke="#1e1e1e" stroke-width="2"/>
<line x1="1675.3" y1="1627.5" x2="1669.5" y2="1627.5" stroke="#1e1e1e" stroke-width="2"/>
<line x1="1271" y1="1650.75" x2="1274.3" y2="1650.75" stroke="#1e1e1e" stroke-width="2"/>
<line x1="1675.3" y1="1650.75" x2="1672" y2="1650.75" stroke="#1e1e1e" stroke-width="2"/>
<line x1="1267.7" y1="1674" x2="1274.3" y2="1674" stroke="#1e1e1e" stroke-width="2"/>
<line x1="1675.3" y1="1674" x2="1669.5" y2="1674" stroke="#1e1e1e" stroke-width="2"/>
<line x1="1271" y1="1697.25" x2="1274.3" y2="1697.25" stroke="#1e1e1e" stroke-width="2"/>
<line x1="1675.3" y1="1697.25" x2="1672" y2="1697.25" stroke="#1e1e1e" stroke-width="2"/>
<text x="1264.82" y="1750" font-size="23.47" textLength="34.35" lengthAdjust="spacingAndGlyphs" font-family='"Liberation Sans", Arial, sans-serif' font-weight="bold" fill="#222">1.2</text>
<text x="1343.32" y="1750" font-size="23.32" textLength="33.45" lengthAdjust="spacingAndGlyphs" font-family='"Liberation Sans", Arial, sans-serif' font-weight="bold" fill="#222">1.4</text>
<text x="1421.74" y="1750" font-size="23.47" textLength="34.35" lengthAdjust="spacingAndGlyphs" font-family='"Liberation Sans", Arial, sans-serif' font-weight="bold" fill="#222">1.6</text>
<text x="1500.21" y="1750" font-size="23.38" textLength="34.09" lengthAdjust="spacingAndGlyphs" font-family='"Liberation Sans", Arial, sans-serif' font-weight="bold" fill="#222">1.8</text>
<text x="1579.42" y="1750" font-size="23.2" textLength="33.57" lengthAdjust="spacingAndGlyphs" font-family='"Liberation Sans", Arial, sans-serif' font-weight="bold" fill="#222">2.0</text>
<text x="1657.88" y="1750" font-size="23.2" textLength="33.57" lengthAdjust="spacingAndGlyphs" font-family='"Liberation Sans", Arial, sans-serif' font-weight="bold" fill="#222">2.2</text>
<text x="1410.72" y="1786" font-size="26.81" textLength="130.27" lengthAdjust="spacingAndGlyphs" font-family='"Liberation Sans", Arial, sans-serif' font-weight="bold" fill="#222">Time (ms)</text>
<text x="-1651.98" y="1252.2" font-size="27.54" textLength="172.2" lengthAdjust="spacingAndGlyphs" font-family='"Liberation Sans", Arial, sans-serif' font-weight="bold" fill="#222" transform="rotate(-90)">Photocurrent</text>
<line x1="1386.2" y1="1637.3" x2="1386.2" y2="1494" stroke="#3a4a98" stroke-width="2"/>
<polygon points="1386.2,1485.5 1389.8,1496 1382.6,1496" fill="#3a4a98"/>
<line x1="1475.4" y1="1516" x2="1475.4" y2="1651" stroke="#5a46a0" stroke-width="2"/>
<polygon points="1475.4,1659.5 1471.8,1649 1479,1649" fill="#5a46a0"/>
<text x="1362.49" y="1474.8" font-size="20.15" textLength="45.85" lengthAdjust="spacingAndGlyphs" font-family='"Liberation Serif", "Times New Roman", serif' font-weight="bold" fill="#3a4a98">43 μs</text>
<text x="1455.66" y="1501.8" font-size="20.3" textLength="46.38" lengthAdjust="spacingAndGlyphs" font-family='"Liberation Serif", "Times New Roman", serif' font-weight="bold" fill="#5a46a0">36 μs</text>
</g>
</svg></body></html>
